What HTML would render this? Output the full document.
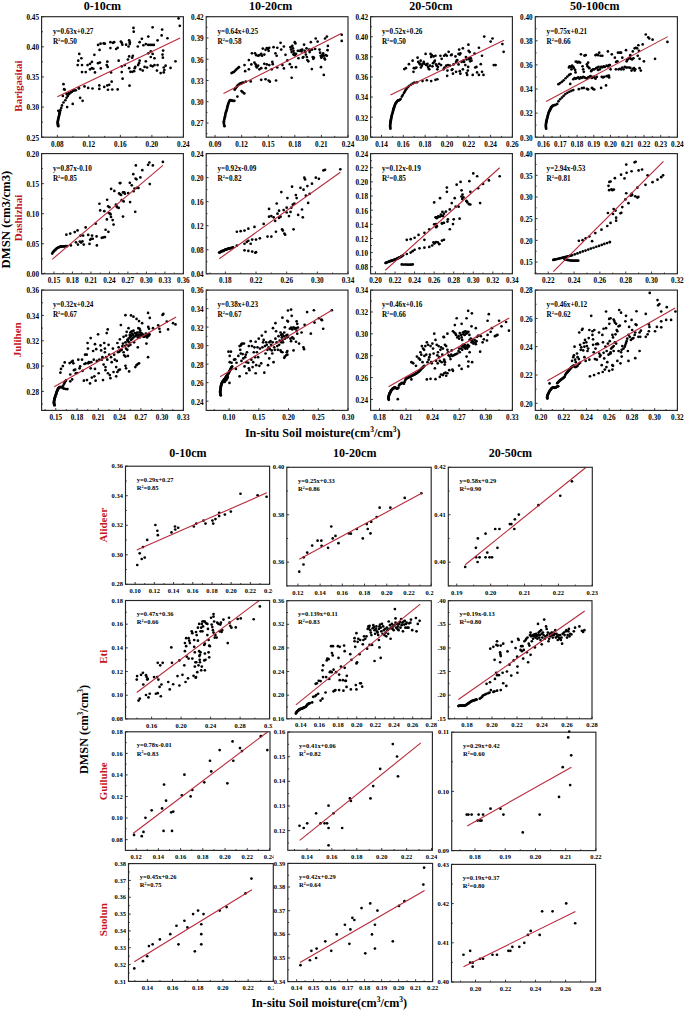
<!DOCTYPE html>
<html><head><meta charset="utf-8"><title>DMSN vs in-situ soil moisture</title>
<style>
html,body{margin:0;padding:0;background:#fff;width:685px;height:1011px;overflow:hidden}
svg{display:block}
text{font-family:"Liberation Serif",serif}
</style></head><body>
<svg width="685" height="1011" viewBox="0 0 685 1011" font-family="Liberation Serif, serif">
<rect width="685" height="1011" fill="#fff"/>
<g fill="#000"><circle cx="58.29" cy="126.20" r="1.35"/><circle cx="58.04" cy="125.34" r="1.35"/><circle cx="57.92" cy="124.35" r="1.35"/><circle cx="57.79" cy="123.36" r="1.35"/><circle cx="57.67" cy="122.50" r="1.35"/><circle cx="57.79" cy="121.51" r="1.35"/><circle cx="57.92" cy="120.64" r="1.35"/><circle cx="58.16" cy="119.78" r="1.35"/><circle cx="58.29" cy="118.79" r="1.35"/><circle cx="58.53" cy="117.80" r="1.35"/><circle cx="58.78" cy="116.94" r="1.35"/><circle cx="59.03" cy="116.07" r="1.35"/><circle cx="59.15" cy="115.08" r="1.35"/><circle cx="59.40" cy="114.09" r="1.35"/><circle cx="59.52" cy="113.23" r="1.35"/><circle cx="59.77" cy="112.24" r="1.35"/><circle cx="59.77" cy="111.38" r="1.35"/><circle cx="58.29" cy="110.76" r="1.35"/><circle cx="60.39" cy="110.14" r="1.35"/><circle cx="61.25" cy="107.92" r="1.35"/><circle cx="61.99" cy="105.44" r="1.35"/><circle cx="63.48" cy="102.48" r="1.35"/><circle cx="65.33" cy="100.26" r="1.35"/><circle cx="66.57" cy="97.78" r="1.35"/><circle cx="67.80" cy="95.93" r="1.35"/><circle cx="69.04" cy="94.08" r="1.35"/><circle cx="70.27" cy="92.84" r="1.35"/><circle cx="72.13" cy="91.61" r="1.35"/><circle cx="73.98" cy="90.62" r="1.35"/><circle cx="63.48" cy="84.19" r="1.35"/><circle cx="64.09" cy="89.14" r="1.35"/><circle cx="64.71" cy="89.75" r="1.35"/><circle cx="62.86" cy="95.93" r="1.35"/><circle cx="67.18" cy="107.05" r="1.35"/><circle cx="72.74" cy="103.96" r="1.35"/><circle cx="80.16" cy="97.78" r="1.35"/><circle cx="82.63" cy="100.87" r="1.35"/><circle cx="78.92" cy="88.52" r="1.35"/><circle cx="84.48" cy="86.42" r="1.35"/><circle cx="88.19" cy="87.90" r="1.35"/><circle cx="92.51" cy="88.52" r="1.35"/><circle cx="99.31" cy="85.43" r="1.35"/><circle cx="99.31" cy="88.89" r="1.35"/><circle cx="104.25" cy="86.91" r="1.35"/><circle cx="107.34" cy="85.43" r="1.35"/><circle cx="107.96" cy="89.75" r="1.35"/><circle cx="111.66" cy="81.72" r="1.35"/><circle cx="112.28" cy="89.51" r="1.35"/><circle cx="109.19" cy="84.81" r="1.35"/><circle cx="79.29" cy="53.92" r="1.35"/><circle cx="81.39" cy="58.25" r="1.35"/><circle cx="78.30" cy="60.72" r="1.35"/><circle cx="77.69" cy="65.04" r="1.35"/><circle cx="82.01" cy="65.04" r="1.35"/><circle cx="82.01" cy="72.08" r="1.35"/><circle cx="85.72" cy="72.08" r="1.35"/><circle cx="87.57" cy="65.04" r="1.35"/><circle cx="90.04" cy="63.81" r="1.35"/><circle cx="91.89" cy="61.95" r="1.35"/><circle cx="94.37" cy="54.79" r="1.35"/><circle cx="90.04" cy="69.37" r="1.35"/><circle cx="91.89" cy="68.13" r="1.35"/><circle cx="93.38" cy="68.75" r="1.35"/><circle cx="94.98" cy="72.45" r="1.35"/><circle cx="98.07" cy="63.19" r="1.35"/><circle cx="99.93" cy="62.57" r="1.35"/><circle cx="100.79" cy="68.38" r="1.35"/><circle cx="98.07" cy="44.90" r="1.35"/><circle cx="100.54" cy="43.67" r="1.35"/><circle cx="103.63" cy="43.42" r="1.35"/><circle cx="104.87" cy="43.67" r="1.35"/><circle cx="99.56" cy="49.97" r="1.35"/><circle cx="107.34" cy="61.71" r="1.35"/><circle cx="106.72" cy="65.04" r="1.35"/><circle cx="107.71" cy="66.89" r="1.35"/><circle cx="111.05" cy="72.45" r="1.35"/><circle cx="110.43" cy="42.18" r="1.35"/><circle cx="112.90" cy="42.80" r="1.35"/><circle cx="110.43" cy="48.11" r="1.35"/><circle cx="114.14" cy="42.18" r="1.35"/><circle cx="66.57" cy="94.08" r="1.35"/><circle cx="68.42" cy="93.46" r="1.35"/><circle cx="70.89" cy="92.22" r="1.35"/><circle cx="73.36" cy="90.37" r="1.35"/><circle cx="75.83" cy="90.37" r="1.35"/><circle cx="78.92" cy="87.90" r="1.35"/><circle cx="133.48" cy="27.97" r="1.35"/><circle cx="133.72" cy="31.68" r="1.35"/><circle cx="152.63" cy="27.36" r="1.35"/><circle cx="162.14" cy="29.58" r="1.35"/><circle cx="161.65" cy="35.39" r="1.35"/><circle cx="167.45" cy="38.23" r="1.35"/><circle cx="148.30" cy="36.62" r="1.35"/><circle cx="141.88" cy="38.85" r="1.35"/><circle cx="157.57" cy="40.33" r="1.35"/><circle cx="178.57" cy="18.46" r="1.35"/><circle cx="179.81" cy="25.87" r="1.35"/><circle cx="120.87" cy="41.57" r="1.35"/><circle cx="122.36" cy="44.65" r="1.35"/><circle cx="121.74" cy="42.80" r="1.35"/><circle cx="126.06" cy="44.65" r="1.35"/><circle cx="129.15" cy="40.33" r="1.35"/><circle cx="129.77" cy="42.18" r="1.35"/><circle cx="128.53" cy="46.51" r="1.35"/><circle cx="129.77" cy="44.04" r="1.35"/><circle cx="137.80" cy="46.51" r="1.35"/><circle cx="139.65" cy="42.18" r="1.35"/><circle cx="143.36" cy="45.27" r="1.35"/><circle cx="145.83" cy="44.04" r="1.35"/><circle cx="148.30" cy="44.90" r="1.35"/><circle cx="150.16" cy="44.90" r="1.35"/><circle cx="152.01" cy="44.90" r="1.35"/><circle cx="153.86" cy="44.90" r="1.35"/><circle cx="116.18" cy="48.98" r="1.35"/><circle cx="117.66" cy="47.74" r="1.35"/><circle cx="150.77" cy="51.45" r="1.35"/><circle cx="148.30" cy="53.30" r="1.35"/><circle cx="152.63" cy="53.92" r="1.35"/><circle cx="154.48" cy="58.25" r="1.35"/><circle cx="150.77" cy="57.01" r="1.35"/><circle cx="163.13" cy="50.58" r="1.35"/><circle cx="162.51" cy="54.54" r="1.35"/><circle cx="162.88" cy="57.63" r="1.35"/><circle cx="118.65" cy="60.72" r="1.35"/><circle cx="127.92" cy="59.48" r="1.35"/><circle cx="129.15" cy="56.39" r="1.35"/><circle cx="132.86" cy="55.77" r="1.35"/><circle cx="132.24" cy="57.63" r="1.35"/><circle cx="139.65" cy="60.72" r="1.35"/><circle cx="139.04" cy="63.19" r="1.35"/><circle cx="138.17" cy="65.04" r="1.35"/><circle cx="145.83" cy="61.33" r="1.35"/><circle cx="124.83" cy="65.04" r="1.35"/><circle cx="121.74" cy="66.28" r="1.35"/><circle cx="129.15" cy="68.13" r="1.35"/><circle cx="130.39" cy="71.84" r="1.35"/><circle cx="132.24" cy="71.84" r="1.35"/><circle cx="134.09" cy="71.22" r="1.35"/><circle cx="134.71" cy="68.13" r="1.35"/><circle cx="135.33" cy="66.89" r="1.35"/><circle cx="140.27" cy="69.37" r="1.35"/><circle cx="142.74" cy="70.60" r="1.35"/><circle cx="144.60" cy="66.89" r="1.35"/><circle cx="147.07" cy="67.51" r="1.35"/><circle cx="150.77" cy="65.66" r="1.35"/><circle cx="152.63" cy="66.28" r="1.35"/><circle cx="154.48" cy="65.04" r="1.35"/><circle cx="157.57" cy="65.04" r="1.35"/><circle cx="156.95" cy="70.60" r="1.35"/><circle cx="160.66" cy="73.07" r="1.35"/><circle cx="163.75" cy="72.45" r="1.35"/><circle cx="164.37" cy="69.98" r="1.35"/><circle cx="165.60" cy="65.66" r="1.35"/><circle cx="163.75" cy="67.51" r="1.35"/><circle cx="170.54" cy="67.88" r="1.35"/><circle cx="175.49" cy="61.33" r="1.35"/><circle cx="121.74" cy="72.08" r="1.35"/><circle cx="122.60" cy="78.63" r="1.35"/><circle cx="129.52" cy="85.68" r="1.35"/><circle cx="117.66" cy="89.38" r="1.35"/></g>
<line x1="57.30" y1="96.80" x2="180.18" y2="37.98" stroke="#b82a3c" stroke-width="1.1"/>
<rect x="41.60" y="16.70" width="141.80" height="120.50" fill="none" stroke="#262626" stroke-width="1.15"/>
<path d="M57.36 137.20v-2.3M88.87 137.20v-2.3M120.38 137.20v-2.3M151.89 137.20v-2.3M183.40 137.20v-2.3M41.60 137.20v-1.3M73.11 137.20v-1.3M104.62 137.20v-1.3M136.13 137.20v-1.3M167.64 137.20v-1.3M41.60 137.20h2.3M41.60 107.08h2.3M41.60 76.95h2.3M41.60 46.82h2.3M41.60 16.70h2.3M41.60 122.14h1.3M41.60 92.01h1.3M41.60 61.89h1.3M41.60 31.76h1.3" stroke="#262626" stroke-width="0.9" fill="none"/>
<g font-size="7.2" font-weight="bold"><text x="57.36" y="146.60" text-anchor="middle">0.08</text><text x="88.87" y="146.60" text-anchor="middle">0.12</text><text x="120.38" y="146.60" text-anchor="middle">0.16</text><text x="151.89" y="146.60" text-anchor="middle">0.20</text><text x="183.40" y="146.60" text-anchor="middle">0.24</text><text x="39.00" y="140.58" text-anchor="end">0.25</text><text x="39.00" y="110.46" text-anchor="end">0.30</text><text x="39.00" y="80.33" text-anchor="end">0.35</text><text x="39.00" y="50.21" text-anchor="end">0.40</text><text x="39.00" y="20.08" text-anchor="end">0.45</text></g>
<g font-size="7.2" font-weight="bold"><text x="52.90" y="33.60">y=0.63x+0.27</text><text x="52.90" y="43.60">R<tspan font-size="4.32" dy="-2.52">2</tspan><tspan dy="2.52">=0.50</tspan></text></g>
<g fill="#000"><circle cx="224.52" cy="126.20" r="1.35"/><circle cx="224.15" cy="124.97" r="1.35"/><circle cx="223.90" cy="123.73" r="1.35"/><circle cx="223.78" cy="122.50" r="1.35"/><circle cx="223.90" cy="121.26" r="1.35"/><circle cx="224.15" cy="120.02" r="1.35"/><circle cx="224.40" cy="118.79" r="1.35"/><circle cx="224.77" cy="117.55" r="1.35"/><circle cx="225.02" cy="116.32" r="1.35"/><circle cx="225.26" cy="115.08" r="1.35"/><circle cx="225.51" cy="113.85" r="1.35"/><circle cx="225.76" cy="112.61" r="1.35"/><circle cx="226.25" cy="111.38" r="1.35"/><circle cx="226.62" cy="110.14" r="1.35"/><circle cx="226.99" cy="108.90" r="1.35"/><circle cx="227.24" cy="107.67" r="1.35"/><circle cx="227.61" cy="106.43" r="1.35"/><circle cx="227.86" cy="105.20" r="1.35"/><circle cx="228.23" cy="103.96" r="1.35"/><circle cx="228.72" cy="102.73" r="1.35"/><circle cx="229.22" cy="101.49" r="1.35"/><circle cx="229.71" cy="100.50" r="1.35"/><circle cx="230.33" cy="100.01" r="1.35"/><circle cx="230.95" cy="100.26" r="1.35"/><circle cx="231.57" cy="100.50" r="1.35"/><circle cx="232.43" cy="100.87" r="1.35"/><circle cx="233.42" cy="100.87" r="1.35"/><circle cx="234.41" cy="100.87" r="1.35"/><circle cx="237.37" cy="96.55" r="1.35"/><circle cx="241.45" cy="90.99" r="1.35"/><circle cx="242.69" cy="92.22" r="1.35"/><circle cx="244.29" cy="93.46" r="1.35"/><circle cx="234.65" cy="89.75" r="1.35"/><circle cx="235.27" cy="88.52" r="1.35"/><circle cx="235.89" cy="87.90" r="1.35"/><circle cx="236.88" cy="86.66" r="1.35"/><circle cx="237.74" cy="85.43" r="1.35"/><circle cx="238.36" cy="84.81" r="1.35"/><circle cx="239.60" cy="83.95" r="1.35"/><circle cx="240.83" cy="83.33" r="1.35"/><circle cx="242.07" cy="82.96" r="1.35"/><circle cx="243.30" cy="82.71" r="1.35"/><circle cx="245.77" cy="81.72" r="1.35"/><circle cx="250.72" cy="81.47" r="1.35"/><circle cx="231.57" cy="73.07" r="1.35"/><circle cx="232.80" cy="72.45" r="1.35"/><circle cx="234.04" cy="71.84" r="1.35"/><circle cx="235.27" cy="70.60" r="1.35"/><circle cx="236.51" cy="69.37" r="1.35"/><circle cx="237.74" cy="68.13" r="1.35"/><circle cx="238.98" cy="67.14" r="1.35"/><circle cx="245.16" cy="71.22" r="1.35"/><circle cx="244.54" cy="65.04" r="1.35"/><circle cx="248.86" cy="69.37" r="1.35"/><circle cx="248.86" cy="60.10" r="1.35"/><circle cx="251.33" cy="64.42" r="1.35"/><circle cx="251.95" cy="53.30" r="1.35"/><circle cx="255.04" cy="53.30" r="1.35"/><circle cx="256.28" cy="55.16" r="1.35"/><circle cx="258.13" cy="55.77" r="1.35"/><circle cx="259.37" cy="55.16" r="1.35"/><circle cx="261.22" cy="53.92" r="1.35"/><circle cx="262.08" cy="55.77" r="1.35"/><circle cx="262.83" cy="48.61" r="1.35"/><circle cx="264.31" cy="54.54" r="1.35"/><circle cx="265.54" cy="49.84" r="1.35"/><circle cx="266.78" cy="48.11" r="1.35"/><circle cx="268.01" cy="48.98" r="1.35"/><circle cx="268.63" cy="50.83" r="1.35"/><circle cx="269.25" cy="47.74" r="1.35"/><circle cx="273.57" cy="47.13" r="1.35"/><circle cx="277.28" cy="47.74" r="1.35"/><circle cx="275.43" cy="53.30" r="1.35"/><circle cx="276.66" cy="55.77" r="1.35"/><circle cx="254.42" cy="62.57" r="1.35"/><circle cx="255.66" cy="64.42" r="1.35"/><circle cx="256.28" cy="66.28" r="1.35"/><circle cx="256.89" cy="67.51" r="1.35"/><circle cx="258.13" cy="65.66" r="1.35"/><circle cx="259.37" cy="69.37" r="1.35"/><circle cx="261.22" cy="68.13" r="1.35"/><circle cx="264.31" cy="63.81" r="1.35"/><circle cx="265.79" cy="68.13" r="1.35"/><circle cx="266.78" cy="64.42" r="1.35"/><circle cx="269.25" cy="65.04" r="1.35"/><circle cx="272.34" cy="61.95" r="1.35"/><circle cx="272.71" cy="64.18" r="1.35"/><circle cx="271.72" cy="69.37" r="1.35"/><circle cx="277.28" cy="67.51" r="1.35"/><circle cx="261.22" cy="79.87" r="1.35"/><circle cx="265.54" cy="79.25" r="1.35"/><circle cx="268.63" cy="80.49" r="1.35"/><circle cx="269.87" cy="81.72" r="1.35"/><circle cx="276.05" cy="80.49" r="1.35"/><circle cx="280.56" cy="42.80" r="1.35"/><circle cx="283.90" cy="46.51" r="1.35"/><circle cx="281.18" cy="49.60" r="1.35"/><circle cx="285.50" cy="54.79" r="1.35"/><circle cx="287.36" cy="60.47" r="1.35"/><circle cx="282.41" cy="65.04" r="1.35"/><circle cx="283.90" cy="68.38" r="1.35"/><circle cx="289.83" cy="64.18" r="1.35"/><circle cx="291.68" cy="67.14" r="1.35"/><circle cx="296.00" cy="67.14" r="1.35"/><circle cx="291.68" cy="77.77" r="1.35"/><circle cx="290.44" cy="47.13" r="1.35"/><circle cx="291.06" cy="49.60" r="1.35"/><circle cx="291.68" cy="52.07" r="1.35"/><circle cx="292.30" cy="45.89" r="1.35"/><circle cx="292.92" cy="48.36" r="1.35"/><circle cx="293.53" cy="50.83" r="1.35"/><circle cx="294.15" cy="53.30" r="1.35"/><circle cx="294.77" cy="42.18" r="1.35"/><circle cx="295.39" cy="43.42" r="1.35"/><circle cx="293.53" cy="54.54" r="1.35"/><circle cx="294.77" cy="55.16" r="1.35"/><circle cx="296.00" cy="53.92" r="1.35"/><circle cx="297.86" cy="50.83" r="1.35"/><circle cx="298.48" cy="58.25" r="1.35"/><circle cx="299.71" cy="50.83" r="1.35"/><circle cx="300.95" cy="50.21" r="1.35"/><circle cx="301.57" cy="51.45" r="1.35"/><circle cx="302.18" cy="49.60" r="1.35"/><circle cx="302.80" cy="57.63" r="1.35"/><circle cx="303.42" cy="57.01" r="1.35"/><circle cx="304.04" cy="44.65" r="1.35"/><circle cx="304.65" cy="50.83" r="1.35"/><circle cx="305.27" cy="52.07" r="1.35"/><circle cx="305.89" cy="54.54" r="1.35"/><circle cx="306.51" cy="48.36" r="1.35"/><circle cx="306.88" cy="57.01" r="1.35"/><circle cx="307.37" cy="60.10" r="1.35"/><circle cx="308.36" cy="61.33" r="1.35"/><circle cx="308.98" cy="49.60" r="1.35"/><circle cx="309.60" cy="52.07" r="1.35"/><circle cx="310.21" cy="50.21" r="1.35"/><circle cx="310.83" cy="42.18" r="1.35"/><circle cx="312.07" cy="49.60" r="1.35"/><circle cx="312.69" cy="57.01" r="1.35"/><circle cx="313.30" cy="58.86" r="1.35"/><circle cx="313.92" cy="57.63" r="1.35"/><circle cx="315.16" cy="48.98" r="1.35"/><circle cx="315.77" cy="38.48" r="1.35"/><circle cx="317.63" cy="41.57" r="1.35"/><circle cx="319.48" cy="49.60" r="1.35"/><circle cx="320.10" cy="52.69" r="1.35"/><circle cx="320.72" cy="55.77" r="1.35"/><circle cx="321.33" cy="57.63" r="1.35"/><circle cx="321.95" cy="56.39" r="1.35"/><circle cx="322.57" cy="54.54" r="1.35"/><circle cx="323.19" cy="53.30" r="1.35"/><circle cx="323.81" cy="55.77" r="1.35"/><circle cx="324.42" cy="58.25" r="1.35"/><circle cx="325.04" cy="59.48" r="1.35"/><circle cx="325.66" cy="55.16" r="1.35"/><circle cx="326.89" cy="55.77" r="1.35"/><circle cx="327.51" cy="50.21" r="1.35"/><circle cx="327.88" cy="45.89" r="1.35"/><circle cx="325.04" cy="38.48" r="1.35"/><circle cx="326.89" cy="36.62" r="1.35"/><circle cx="311.82" cy="69.12" r="1.35"/><circle cx="320.96" cy="67.14" r="1.35"/><circle cx="323.81" cy="74.93" r="1.35"/><circle cx="341.72" cy="34.77" r="1.35"/><circle cx="341.72" cy="40.95" r="1.35"/></g>
<line x1="223.53" y1="93.46" x2="341.72" y2="33.29" stroke="#b82a3c" stroke-width="1.1"/>
<rect x="206.20" y="16.70" width="141.80" height="120.50" fill="none" stroke="#262626" stroke-width="1.15"/>
<path d="M215.06 137.20v-2.3M241.65 137.20v-2.3M268.24 137.20v-2.3M294.82 137.20v-2.3M321.41 137.20v-2.3M348.00 137.20v-2.3M228.36 137.20v-1.3M254.94 137.20v-1.3M281.53 137.20v-1.3M308.12 137.20v-1.3M334.71 137.20v-1.3M206.20 123.02h2.3M206.20 101.76h2.3M206.20 80.49h2.3M206.20 59.23h2.3M206.20 37.96h2.3M206.20 16.70h2.3M206.20 133.66h1.3M206.20 112.39h1.3M206.20 91.13h1.3M206.20 69.86h1.3M206.20 48.60h1.3M206.20 27.33h1.3" stroke="#262626" stroke-width="0.9" fill="none"/>
<g font-size="7.2" font-weight="bold"><text x="215.06" y="146.60" text-anchor="middle">0.09</text><text x="241.65" y="146.60" text-anchor="middle">0.12</text><text x="268.24" y="146.60" text-anchor="middle">0.15</text><text x="294.82" y="146.60" text-anchor="middle">0.18</text><text x="321.41" y="146.60" text-anchor="middle">0.21</text><text x="348.00" y="146.60" text-anchor="middle">0.24</text><text x="203.60" y="126.41" text-anchor="end">0.27</text><text x="203.60" y="105.14" text-anchor="end">0.30</text><text x="203.60" y="83.88" text-anchor="end">0.33</text><text x="203.60" y="62.61" text-anchor="end">0.36</text><text x="203.60" y="41.35" text-anchor="end">0.39</text><text x="203.60" y="20.08" text-anchor="end">0.42</text></g>
<g font-size="7.2" font-weight="bold"><text x="217.50" y="33.60">y=0.64x+0.25</text><text x="217.50" y="43.60">R<tspan font-size="4.32" dy="-2.52">2</tspan><tspan dy="2.52">=0.58</tspan></text></g>
<g fill="#000"><circle cx="390.39" cy="128.67" r="1.35"/><circle cx="390.26" cy="127.69" r="1.35"/><circle cx="390.14" cy="126.82" r="1.35"/><circle cx="390.14" cy="125.83" r="1.35"/><circle cx="390.14" cy="124.97" r="1.35"/><circle cx="390.26" cy="123.98" r="1.35"/><circle cx="390.39" cy="123.11" r="1.35"/><circle cx="390.51" cy="122.13" r="1.35"/><circle cx="390.63" cy="121.26" r="1.35"/><circle cx="390.76" cy="120.27" r="1.35"/><circle cx="391.00" cy="119.41" r="1.35"/><circle cx="391.13" cy="118.42" r="1.35"/><circle cx="391.38" cy="117.55" r="1.35"/><circle cx="391.50" cy="116.57" r="1.35"/><circle cx="391.75" cy="115.70" r="1.35"/><circle cx="391.99" cy="114.71" r="1.35"/><circle cx="392.24" cy="113.85" r="1.35"/><circle cx="392.61" cy="112.86" r="1.35"/><circle cx="392.86" cy="111.99" r="1.35"/><circle cx="392.98" cy="111.00" r="1.35"/><circle cx="393.23" cy="110.14" r="1.35"/><circle cx="393.48" cy="109.15" r="1.35"/><circle cx="393.72" cy="108.29" r="1.35"/><circle cx="394.09" cy="107.30" r="1.35"/><circle cx="394.34" cy="106.43" r="1.35"/><circle cx="394.71" cy="105.69" r="1.35"/><circle cx="394.96" cy="104.95" r="1.35"/><circle cx="395.33" cy="104.09" r="1.35"/><circle cx="395.70" cy="103.34" r="1.35"/><circle cx="396.07" cy="102.73" r="1.35"/><circle cx="396.57" cy="102.11" r="1.35"/><circle cx="396.94" cy="101.61" r="1.35"/><circle cx="397.43" cy="101.12" r="1.35"/><circle cx="397.92" cy="100.63" r="1.35"/><circle cx="398.42" cy="100.26" r="1.35"/><circle cx="399.04" cy="100.13" r="1.35"/><circle cx="399.65" cy="100.01" r="1.35"/><circle cx="400.64" cy="99.02" r="1.35"/><circle cx="401.88" cy="96.55" r="1.35"/><circle cx="402.74" cy="95.07" r="1.35"/><circle cx="403.98" cy="93.09" r="1.35"/><circle cx="404.84" cy="91.61" r="1.35"/><circle cx="405.58" cy="90.12" r="1.35"/><circle cx="406.45" cy="88.89" r="1.35"/><circle cx="407.69" cy="87.28" r="1.35"/><circle cx="408.92" cy="86.05" r="1.35"/><circle cx="410.77" cy="84.81" r="1.35"/><circle cx="412.63" cy="83.57" r="1.35"/><circle cx="414.48" cy="82.71" r="1.35"/><circle cx="416.95" cy="82.34" r="1.35"/><circle cx="422.51" cy="81.10" r="1.35"/><circle cx="426.84" cy="80.24" r="1.35"/><circle cx="431.16" cy="81.10" r="1.35"/><circle cx="435.49" cy="79.87" r="1.35"/><circle cx="437.34" cy="79.25" r="1.35"/><circle cx="404.35" cy="69.12" r="1.35"/><circle cx="405.83" cy="68.13" r="1.35"/><circle cx="408.92" cy="64.18" r="1.35"/><circle cx="412.63" cy="60.72" r="1.35"/><circle cx="413.49" cy="71.84" r="1.35"/><circle cx="413.86" cy="68.13" r="1.35"/><circle cx="415.10" cy="68.13" r="1.35"/><circle cx="416.33" cy="67.51" r="1.35"/><circle cx="417.57" cy="57.63" r="1.35"/><circle cx="418.19" cy="61.95" r="1.35"/><circle cx="419.42" cy="63.19" r="1.35"/><circle cx="420.04" cy="64.42" r="1.35"/><circle cx="420.66" cy="60.72" r="1.35"/><circle cx="420.91" cy="67.51" r="1.35"/><circle cx="421.89" cy="65.66" r="1.35"/><circle cx="422.51" cy="63.81" r="1.35"/><circle cx="423.75" cy="61.95" r="1.35"/><circle cx="424.37" cy="63.81" r="1.35"/><circle cx="425.60" cy="53.92" r="1.35"/><circle cx="426.22" cy="65.04" r="1.35"/><circle cx="426.84" cy="64.42" r="1.35"/><circle cx="427.45" cy="63.81" r="1.35"/><circle cx="428.07" cy="66.89" r="1.35"/><circle cx="428.69" cy="68.75" r="1.35"/><circle cx="429.31" cy="69.37" r="1.35"/><circle cx="429.93" cy="65.66" r="1.35"/><circle cx="430.54" cy="53.92" r="1.35"/><circle cx="431.16" cy="57.01" r="1.35"/><circle cx="431.78" cy="55.16" r="1.35"/><circle cx="432.40" cy="66.28" r="1.35"/><circle cx="433.01" cy="63.19" r="1.35"/><circle cx="433.63" cy="56.39" r="1.35"/><circle cx="434.25" cy="61.95" r="1.35"/><circle cx="434.87" cy="60.72" r="1.35"/><circle cx="435.49" cy="55.77" r="1.35"/><circle cx="436.10" cy="64.42" r="1.35"/><circle cx="436.72" cy="65.66" r="1.35"/><circle cx="437.34" cy="69.37" r="1.35"/><circle cx="437.96" cy="66.89" r="1.35"/><circle cx="439.19" cy="63.81" r="1.35"/><circle cx="440.43" cy="55.77" r="1.35"/><circle cx="441.05" cy="65.04" r="1.35"/><circle cx="441.66" cy="58.86" r="1.35"/><circle cx="443.52" cy="69.37" r="1.35"/><circle cx="444.14" cy="55.77" r="1.35"/><circle cx="444.51" cy="67.51" r="1.35"/><circle cx="445.56" cy="54.54" r="1.35"/><circle cx="446.80" cy="55.77" r="1.35"/><circle cx="448.65" cy="51.82" r="1.35"/><circle cx="451.12" cy="55.16" r="1.35"/><circle cx="451.74" cy="54.54" r="1.35"/><circle cx="447.41" cy="70.60" r="1.35"/><circle cx="447.17" cy="75.79" r="1.35"/><circle cx="446.18" cy="65.66" r="1.35"/><circle cx="448.03" cy="65.04" r="1.35"/><circle cx="449.88" cy="65.66" r="1.35"/><circle cx="451.74" cy="69.98" r="1.35"/><circle cx="452.36" cy="69.37" r="1.35"/><circle cx="452.97" cy="73.69" r="1.35"/><circle cx="453.59" cy="64.42" r="1.35"/><circle cx="456.06" cy="71.84" r="1.35"/><circle cx="455.44" cy="56.39" r="1.35"/><circle cx="456.68" cy="60.72" r="1.35"/><circle cx="456.06" cy="61.95" r="1.35"/><circle cx="457.30" cy="60.10" r="1.35"/><circle cx="458.53" cy="64.42" r="1.35"/><circle cx="458.53" cy="53.92" r="1.35"/><circle cx="459.15" cy="49.60" r="1.35"/><circle cx="459.77" cy="54.54" r="1.35"/><circle cx="460.39" cy="53.30" r="1.35"/><circle cx="459.77" cy="71.22" r="1.35"/><circle cx="460.39" cy="73.69" r="1.35"/><circle cx="461.62" cy="61.95" r="1.35"/><circle cx="462.86" cy="48.36" r="1.35"/><circle cx="462.86" cy="69.37" r="1.35"/><circle cx="463.48" cy="60.72" r="1.35"/><circle cx="464.09" cy="61.95" r="1.35"/><circle cx="465.33" cy="65.04" r="1.35"/><circle cx="465.95" cy="57.01" r="1.35"/><circle cx="466.57" cy="59.48" r="1.35"/><circle cx="466.57" cy="73.07" r="1.35"/><circle cx="467.18" cy="74.93" r="1.35"/><circle cx="467.80" cy="70.60" r="1.35"/><circle cx="468.17" cy="66.89" r="1.35"/><circle cx="468.42" cy="44.65" r="1.35"/><circle cx="468.67" cy="50.83" r="1.35"/><circle cx="469.04" cy="58.25" r="1.35"/><circle cx="469.41" cy="59.48" r="1.35"/><circle cx="469.65" cy="52.07" r="1.35"/><circle cx="470.27" cy="61.33" r="1.35"/><circle cx="470.89" cy="58.25" r="1.35"/><circle cx="471.51" cy="60.72" r="1.35"/><circle cx="472.74" cy="74.93" r="1.35"/><circle cx="474.60" cy="53.55" r="1.35"/><circle cx="475.21" cy="67.51" r="1.35"/><circle cx="476.45" cy="66.89" r="1.35"/><circle cx="477.07" cy="72.45" r="1.35"/><circle cx="478.92" cy="74.93" r="1.35"/><circle cx="478.92" cy="47.74" r="1.35"/><circle cx="480.77" cy="64.18" r="1.35"/><circle cx="482.01" cy="55.77" r="1.35"/><circle cx="482.01" cy="71.84" r="1.35"/><circle cx="483.49" cy="74.93" r="1.35"/><circle cx="484.23" cy="36.62" r="1.35"/><circle cx="490.66" cy="41.57" r="1.35"/><circle cx="492.51" cy="38.48" r="1.35"/><circle cx="493.75" cy="65.04" r="1.35"/><circle cx="495.60" cy="65.04" r="1.35"/><circle cx="502.40" cy="44.04" r="1.35"/><circle cx="503.63" cy="51.82" r="1.35"/></g>
<line x1="390.39" y1="95.07" x2="504.01" y2="40.33" stroke="#b82a3c" stroke-width="1.1"/>
<rect x="370.60" y="16.70" width="141.80" height="120.50" fill="none" stroke="#262626" stroke-width="1.15"/>
<path d="M381.51 137.20v-2.3M403.32 137.20v-2.3M425.14 137.20v-2.3M446.95 137.20v-2.3M468.77 137.20v-2.3M490.58 137.20v-2.3M512.40 137.20v-2.3M370.60 137.20v-1.3M392.42 137.20v-1.3M414.23 137.20v-1.3M436.05 137.20v-1.3M457.86 137.20v-1.3M479.68 137.20v-1.3M501.49 137.20v-1.3M370.60 137.20h2.3M370.60 117.12h2.3M370.60 97.03h2.3M370.60 76.95h2.3M370.60 56.87h2.3M370.60 36.78h2.3M370.60 16.70h2.3M370.60 127.16h1.3M370.60 107.07h1.3M370.60 86.99h1.3M370.60 66.91h1.3M370.60 46.82h1.3M370.60 26.74h1.3" stroke="#262626" stroke-width="0.9" fill="none"/>
<g font-size="7.2" font-weight="bold"><text x="381.51" y="146.60" text-anchor="middle">0.14</text><text x="403.32" y="146.60" text-anchor="middle">0.16</text><text x="425.14" y="146.60" text-anchor="middle">0.18</text><text x="446.95" y="146.60" text-anchor="middle">0.20</text><text x="468.77" y="146.60" text-anchor="middle">0.22</text><text x="490.58" y="146.60" text-anchor="middle">0.24</text><text x="512.40" y="146.60" text-anchor="middle">0.26</text><text x="368.00" y="140.58" text-anchor="end">0.30</text><text x="368.00" y="120.50" text-anchor="end">0.32</text><text x="368.00" y="100.42" text-anchor="end">0.34</text><text x="368.00" y="80.33" text-anchor="end">0.36</text><text x="368.00" y="60.25" text-anchor="end">0.38</text><text x="368.00" y="40.17" text-anchor="end">0.40</text><text x="368.00" y="20.08" text-anchor="end">0.42</text></g>
<g font-size="7.2" font-weight="bold"><text x="381.90" y="33.60">y=0.52x+0.26</text><text x="381.90" y="43.60">R<tspan font-size="4.32" dy="-2.52">2</tspan><tspan dy="2.52">=0.50</tspan></text></g>
<g fill="#000"><circle cx="546.12" cy="128.67" r="1.35"/><circle cx="546.00" cy="127.69" r="1.35"/><circle cx="545.87" cy="126.82" r="1.35"/><circle cx="545.87" cy="125.83" r="1.35"/><circle cx="545.87" cy="124.97" r="1.35"/><circle cx="546.00" cy="123.98" r="1.35"/><circle cx="546.12" cy="123.11" r="1.35"/><circle cx="546.24" cy="122.13" r="1.35"/><circle cx="546.49" cy="121.26" r="1.35"/><circle cx="546.61" cy="120.27" r="1.35"/><circle cx="546.86" cy="119.41" r="1.35"/><circle cx="547.11" cy="118.42" r="1.35"/><circle cx="547.36" cy="117.55" r="1.35"/><circle cx="547.60" cy="116.57" r="1.35"/><circle cx="547.85" cy="115.70" r="1.35"/><circle cx="548.10" cy="114.71" r="1.35"/><circle cx="548.34" cy="113.85" r="1.35"/><circle cx="548.59" cy="112.86" r="1.35"/><circle cx="548.96" cy="111.99" r="1.35"/><circle cx="549.21" cy="111.38" r="1.35"/><circle cx="549.58" cy="110.76" r="1.35"/><circle cx="549.83" cy="110.14" r="1.35"/><circle cx="550.20" cy="109.52" r="1.35"/><circle cx="550.44" cy="108.90" r="1.35"/><circle cx="550.82" cy="108.29" r="1.35"/><circle cx="551.06" cy="107.67" r="1.35"/><circle cx="551.43" cy="107.05" r="1.35"/><circle cx="551.93" cy="106.56" r="1.35"/><circle cx="552.30" cy="106.19" r="1.35"/><circle cx="552.79" cy="105.82" r="1.35"/><circle cx="553.29" cy="105.57" r="1.35"/><circle cx="554.28" cy="105.20" r="1.35"/><circle cx="555.51" cy="104.95" r="1.35"/><circle cx="557.24" cy="103.96" r="1.35"/><circle cx="558.48" cy="101.24" r="1.35"/><circle cx="560.08" cy="99.27" r="1.35"/><circle cx="561.94" cy="97.54" r="1.35"/><circle cx="563.67" cy="95.81" r="1.35"/><circle cx="565.40" cy="94.08" r="1.35"/><circle cx="567.37" cy="92.84" r="1.35"/><circle cx="569.35" cy="91.73" r="1.35"/><circle cx="571.33" cy="90.86" r="1.35"/><circle cx="573.30" cy="90.12" r="1.35"/><circle cx="558.48" cy="84.19" r="1.35"/><circle cx="560.08" cy="83.08" r="1.35"/><circle cx="561.94" cy="81.85" r="1.35"/><circle cx="563.67" cy="80.36" r="1.35"/><circle cx="565.64" cy="78.26" r="1.35"/><circle cx="567.37" cy="76.53" r="1.35"/><circle cx="569.10" cy="74.93" r="1.35"/><circle cx="570.58" cy="74.06" r="1.35"/><circle cx="570.21" cy="83.95" r="1.35"/><circle cx="568.98" cy="67.51" r="1.35"/><circle cx="569.60" cy="66.28" r="1.35"/><circle cx="570.83" cy="66.89" r="1.35"/><circle cx="571.45" cy="69.37" r="1.35"/><circle cx="572.07" cy="65.66" r="1.35"/><circle cx="573.30" cy="66.89" r="1.35"/><circle cx="573.92" cy="68.13" r="1.35"/><circle cx="575.16" cy="69.98" r="1.35"/><circle cx="575.53" cy="72.45" r="1.35"/><circle cx="575.77" cy="61.71" r="1.35"/><circle cx="577.01" cy="61.95" r="1.35"/><circle cx="577.63" cy="62.57" r="1.35"/><circle cx="578.86" cy="61.95" r="1.35"/><circle cx="580.10" cy="62.57" r="1.35"/><circle cx="580.96" cy="54.29" r="1.35"/><circle cx="582.57" cy="66.28" r="1.35"/><circle cx="583.19" cy="69.37" r="1.35"/><circle cx="583.81" cy="71.84" r="1.35"/><circle cx="584.42" cy="55.53" r="1.35"/><circle cx="585.66" cy="55.16" r="1.35"/><circle cx="586.89" cy="64.42" r="1.35"/><circle cx="587.51" cy="66.28" r="1.35"/><circle cx="588.13" cy="62.57" r="1.35"/><circle cx="588.75" cy="67.51" r="1.35"/><circle cx="589.37" cy="68.13" r="1.35"/><circle cx="591.22" cy="71.22" r="1.35"/><circle cx="591.84" cy="69.98" r="1.35"/><circle cx="593.07" cy="69.37" r="1.35"/><circle cx="595.54" cy="55.16" r="1.35"/><circle cx="596.78" cy="54.54" r="1.35"/><circle cx="598.01" cy="55.16" r="1.35"/><circle cx="599.25" cy="52.69" r="1.35"/><circle cx="600.49" cy="55.77" r="1.35"/><circle cx="602.34" cy="55.77" r="1.35"/><circle cx="607.90" cy="51.45" r="1.35"/><circle cx="573.30" cy="79.25" r="1.35"/><circle cx="574.54" cy="78.01" r="1.35"/><circle cx="575.77" cy="78.63" r="1.35"/><circle cx="577.01" cy="78.01" r="1.35"/><circle cx="578.25" cy="77.40" r="1.35"/><circle cx="579.48" cy="78.63" r="1.35"/><circle cx="580.72" cy="77.40" r="1.35"/><circle cx="581.95" cy="78.01" r="1.35"/><circle cx="583.19" cy="76.78" r="1.35"/><circle cx="584.42" cy="77.40" r="1.35"/><circle cx="585.66" cy="78.01" r="1.35"/><circle cx="586.89" cy="78.63" r="1.35"/><circle cx="588.13" cy="77.40" r="1.35"/><circle cx="589.37" cy="76.78" r="1.35"/><circle cx="590.60" cy="76.16" r="1.35"/><circle cx="591.84" cy="78.01" r="1.35"/><circle cx="593.07" cy="76.78" r="1.35"/><circle cx="594.31" cy="77.40" r="1.35"/><circle cx="595.54" cy="78.63" r="1.35"/><circle cx="596.78" cy="76.78" r="1.35"/><circle cx="601.72" cy="76.78" r="1.35"/><circle cx="602.96" cy="77.40" r="1.35"/><circle cx="604.19" cy="76.78" r="1.35"/><circle cx="606.66" cy="76.16" r="1.35"/><circle cx="609.14" cy="77.40" r="1.35"/><circle cx="594.31" cy="69.37" r="1.35"/><circle cx="596.16" cy="68.13" r="1.35"/><circle cx="597.40" cy="67.51" r="1.35"/><circle cx="598.63" cy="66.89" r="1.35"/><circle cx="599.87" cy="69.37" r="1.35"/><circle cx="601.10" cy="66.89" r="1.35"/><circle cx="602.34" cy="67.51" r="1.35"/><circle cx="603.57" cy="66.28" r="1.35"/><circle cx="604.81" cy="66.89" r="1.35"/><circle cx="606.66" cy="65.66" r="1.35"/><circle cx="607.90" cy="66.28" r="1.35"/><circle cx="609.14" cy="65.04" r="1.35"/><circle cx="598.01" cy="69.98" r="1.35"/><circle cx="578.86" cy="89.14" r="1.35"/><circle cx="581.95" cy="88.15" r="1.35"/><circle cx="583.81" cy="87.90" r="1.35"/><circle cx="586.89" cy="88.89" r="1.35"/><circle cx="588.13" cy="89.38" r="1.35"/><circle cx="591.84" cy="87.90" r="1.35"/><circle cx="593.07" cy="88.89" r="1.35"/><circle cx="594.31" cy="89.51" r="1.35"/><circle cx="601.10" cy="87.90" r="1.35"/><circle cx="606.05" cy="85.43" r="1.35"/><circle cx="607.65" cy="76.16" r="1.35"/><circle cx="608.89" cy="75.54" r="1.35"/><circle cx="611.80" cy="54.29" r="1.35"/><circle cx="614.88" cy="57.63" r="1.35"/><circle cx="616.12" cy="61.95" r="1.35"/><circle cx="617.36" cy="61.33" r="1.35"/><circle cx="617.97" cy="52.69" r="1.35"/><circle cx="619.83" cy="52.69" r="1.35"/><circle cx="621.06" cy="52.69" r="1.35"/><circle cx="622.30" cy="57.63" r="1.35"/><circle cx="626.00" cy="50.21" r="1.35"/><circle cx="626.62" cy="61.33" r="1.35"/><circle cx="627.24" cy="60.10" r="1.35"/><circle cx="628.48" cy="58.86" r="1.35"/><circle cx="629.71" cy="57.63" r="1.35"/><circle cx="630.33" cy="55.16" r="1.35"/><circle cx="630.95" cy="58.86" r="1.35"/><circle cx="632.18" cy="59.48" r="1.35"/><circle cx="632.80" cy="51.45" r="1.35"/><circle cx="633.42" cy="58.25" r="1.35"/><circle cx="634.65" cy="48.36" r="1.35"/><circle cx="635.89" cy="47.74" r="1.35"/><circle cx="637.13" cy="48.36" r="1.35"/><circle cx="638.36" cy="45.27" r="1.35"/><circle cx="637.74" cy="55.77" r="1.35"/><circle cx="639.60" cy="58.86" r="1.35"/><circle cx="638.98" cy="50.83" r="1.35"/><circle cx="642.69" cy="44.41" r="1.35"/><circle cx="643.92" cy="61.33" r="1.35"/><circle cx="645.77" cy="34.52" r="1.35"/><circle cx="648.25" cy="37.24" r="1.35"/><circle cx="649.23" cy="38.48" r="1.35"/><circle cx="652.57" cy="39.71" r="1.35"/><circle cx="655.04" cy="58.86" r="1.35"/><circle cx="667.40" cy="41.94" r="1.35"/><circle cx="610.56" cy="69.37" r="1.35"/><circle cx="609.94" cy="65.04" r="1.35"/><circle cx="615.87" cy="69.37" r="1.35"/><circle cx="618.59" cy="69.37" r="1.35"/><circle cx="619.83" cy="68.75" r="1.35"/><circle cx="621.06" cy="69.37" r="1.35"/><circle cx="622.30" cy="67.51" r="1.35"/><circle cx="623.53" cy="69.37" r="1.35"/><circle cx="624.77" cy="66.89" r="1.35"/><circle cx="626.00" cy="67.51" r="1.35"/><circle cx="627.24" cy="67.51" r="1.35"/><circle cx="629.09" cy="67.51" r="1.35"/><circle cx="630.33" cy="67.88" r="1.35"/><circle cx="631.57" cy="70.60" r="1.35"/><circle cx="632.80" cy="68.75" r="1.35"/><circle cx="634.04" cy="68.13" r="1.35"/><circle cx="634.65" cy="70.60" r="1.35"/><circle cx="635.27" cy="69.37" r="1.35"/><circle cx="639.60" cy="68.13" r="1.35"/><circle cx="640.83" cy="70.60" r="1.35"/></g>
<line x1="546.12" y1="101.49" x2="667.77" y2="36.62" stroke="#b82a3c" stroke-width="1.1"/>
<rect x="535.30" y="16.70" width="142.10" height="120.50" fill="none" stroke="#262626" stroke-width="1.15"/>
<path d="M543.66 137.20v-2.3M560.38 137.20v-2.3M577.09 137.20v-2.3M593.81 137.20v-2.3M610.53 137.20v-2.3M627.25 137.20v-2.3M643.96 137.20v-2.3M660.68 137.20v-2.3M677.40 137.20v-2.3M552.02 137.20v-1.3M568.74 137.20v-1.3M585.45 137.20v-1.3M602.17 137.20v-1.3M618.89 137.20v-1.3M635.61 137.20v-1.3M652.32 137.20v-1.3M669.04 137.20v-1.3M535.30 137.20h2.3M535.30 113.10h2.3M535.30 89.00h2.3M535.30 64.90h2.3M535.30 40.80h2.3M535.30 16.70h2.3M535.30 125.15h1.3M535.30 101.05h1.3M535.30 76.95h1.3M535.30 52.85h1.3M535.30 28.75h1.3" stroke="#262626" stroke-width="0.9" fill="none"/>
<g font-size="7.2" font-weight="bold"><text x="543.66" y="146.60" text-anchor="middle">0.16</text><text x="560.38" y="146.60" text-anchor="middle">0.17</text><text x="577.09" y="146.60" text-anchor="middle">0.18</text><text x="593.81" y="146.60" text-anchor="middle">0.19</text><text x="610.53" y="146.60" text-anchor="middle">0.20</text><text x="627.25" y="146.60" text-anchor="middle">0.21</text><text x="643.96" y="146.60" text-anchor="middle">0.22</text><text x="660.68" y="146.60" text-anchor="middle">0.23</text><text x="677.40" y="146.60" text-anchor="middle">0.24</text><text x="532.70" y="140.58" text-anchor="end">0.30</text><text x="532.70" y="116.48" text-anchor="end">0.32</text><text x="532.70" y="92.38" text-anchor="end">0.34</text><text x="532.70" y="68.28" text-anchor="end">0.36</text><text x="532.70" y="44.18" text-anchor="end">0.38</text><text x="532.70" y="20.08" text-anchor="end">0.40</text></g>
<g font-size="7.2" font-weight="bold"><text x="546.60" y="33.60">y=0.75x+0.21</text><text x="546.60" y="43.60">R<tspan font-size="4.32" dy="-2.52">2</tspan><tspan dy="2.52">=0.66</tspan></text></g>
<g fill="#000"><circle cx="52.22" cy="253.54" r="1.35"/><circle cx="52.86" cy="252.25" r="1.35"/><circle cx="53.50" cy="251.61" r="1.35"/><circle cx="54.15" cy="250.96" r="1.35"/><circle cx="54.79" cy="250.32" r="1.35"/><circle cx="55.43" cy="249.68" r="1.35"/><circle cx="56.08" cy="249.04" r="1.35"/><circle cx="56.72" cy="248.39" r="1.35"/><circle cx="57.36" cy="248.01" r="1.35"/><circle cx="58.01" cy="247.49" r="1.35"/><circle cx="58.65" cy="247.23" r="1.35"/><circle cx="59.29" cy="247.11" r="1.35"/><circle cx="59.94" cy="246.85" r="1.35"/><circle cx="60.58" cy="246.72" r="1.35"/><circle cx="61.22" cy="246.59" r="1.35"/><circle cx="61.86" cy="246.46" r="1.35"/><circle cx="62.89" cy="246.46" r="1.35"/><circle cx="63.79" cy="246.46" r="1.35"/><circle cx="64.69" cy="246.33" r="1.35"/><circle cx="65.72" cy="246.21" r="1.35"/><circle cx="67.01" cy="246.21" r="1.35"/><circle cx="66.37" cy="234.63" r="1.35"/><circle cx="70.23" cy="233.60" r="1.35"/><circle cx="74.73" cy="232.06" r="1.35"/><circle cx="77.56" cy="230.39" r="1.35"/><circle cx="70.87" cy="245.43" r="1.35"/><circle cx="76.01" cy="242.35" r="1.35"/><circle cx="77.94" cy="244.53" r="1.35"/><circle cx="79.87" cy="241.58" r="1.35"/><circle cx="81.16" cy="242.60" r="1.35"/><circle cx="82.44" cy="241.32" r="1.35"/><circle cx="83.73" cy="244.53" r="1.35"/><circle cx="80.51" cy="235.53" r="1.35"/><circle cx="83.09" cy="235.53" r="1.35"/><circle cx="85.66" cy="227.43" r="1.35"/><circle cx="88.23" cy="234.89" r="1.35"/><circle cx="89.52" cy="243.89" r="1.35"/><circle cx="90.16" cy="239.77" r="1.35"/><circle cx="91.19" cy="238.75" r="1.35"/><circle cx="92.09" cy="235.53" r="1.35"/><circle cx="92.73" cy="238.75" r="1.35"/><circle cx="95.69" cy="223.70" r="1.35"/><circle cx="96.59" cy="236.43" r="1.35"/><circle cx="96.85" cy="245.43" r="1.35"/><circle cx="99.42" cy="203.76" r="1.35"/><circle cx="100.19" cy="210.45" r="1.35"/><circle cx="101.74" cy="237.85" r="1.35"/><circle cx="103.28" cy="237.46" r="1.35"/><circle cx="104.31" cy="211.22" r="1.35"/><circle cx="104.95" cy="237.07" r="1.35"/><circle cx="105.59" cy="229.74" r="1.35"/><circle cx="106.88" cy="219.45" r="1.35"/><circle cx="107.14" cy="199.77" r="1.35"/><circle cx="108.17" cy="206.33" r="1.35"/><circle cx="108.42" cy="231.80" r="1.35"/><circle cx="108.81" cy="213.02" r="1.35"/><circle cx="109.45" cy="207.23" r="1.35"/><circle cx="110.10" cy="213.67" r="1.35"/><circle cx="110.48" cy="214.31" r="1.35"/><circle cx="111.00" cy="216.88" r="1.35"/><circle cx="111.13" cy="188.97" r="1.35"/><circle cx="112.67" cy="220.10" r="1.35"/><circle cx="113.57" cy="224.60" r="1.35"/><circle cx="114.34" cy="190.90" r="1.35"/><circle cx="115.88" cy="204.66" r="1.35"/><circle cx="116.53" cy="205.95" r="1.35"/><circle cx="117.17" cy="207.23" r="1.35"/><circle cx="118.71" cy="207.88" r="1.35"/><circle cx="119.10" cy="193.47" r="1.35"/><circle cx="119.74" cy="183.05" r="1.35"/><circle cx="120.43" cy="183.05" r="1.35"/><circle cx="120.18" cy="194.37" r="1.35"/><circle cx="121.08" cy="195.02" r="1.35"/><circle cx="121.72" cy="200.16" r="1.35"/><circle cx="123.01" cy="192.44" r="1.35"/><circle cx="123.65" cy="201.45" r="1.35"/><circle cx="123.01" cy="216.62" r="1.35"/><circle cx="124.29" cy="192.44" r="1.35"/><circle cx="124.94" cy="193.73" r="1.35"/><circle cx="128.15" cy="193.09" r="1.35"/><circle cx="130.08" cy="202.09" r="1.35"/><circle cx="129.82" cy="182.80" r="1.35"/><circle cx="131.75" cy="185.37" r="1.35"/><circle cx="133.30" cy="174.18" r="1.35"/><circle cx="133.55" cy="191.16" r="1.35"/><circle cx="134.58" cy="188.59" r="1.35"/><circle cx="135.23" cy="211.74" r="1.35"/><circle cx="135.61" cy="178.55" r="1.35"/><circle cx="135.87" cy="165.43" r="1.35"/><circle cx="136.51" cy="179.32" r="1.35"/><circle cx="136.90" cy="187.94" r="1.35"/><circle cx="138.44" cy="187.94" r="1.35"/><circle cx="140.37" cy="177.40" r="1.35"/><circle cx="142.30" cy="170.19" r="1.35"/><circle cx="148.09" cy="164.79" r="1.35"/><circle cx="149.37" cy="162.48" r="1.35"/><circle cx="149.76" cy="184.08" r="1.35"/><circle cx="152.85" cy="165.43" r="1.35"/><circle cx="162.88" cy="161.96" r="1.35"/></g>
<line x1="52.22" y1="259.32" x2="162.88" y2="165.43" stroke="#b82a3c" stroke-width="1.1"/>
<rect x="41.60" y="153.60" width="141.80" height="120.20" fill="none" stroke="#262626" stroke-width="1.15"/>
<path d="M53.93 273.80v-2.3M72.43 273.80v-2.3M90.92 273.80v-2.3M109.42 273.80v-2.3M127.91 273.80v-2.3M146.41 273.80v-2.3M164.90 273.80v-2.3M183.40 273.80v-2.3M44.68 273.80v-1.3M63.18 273.80v-1.3M81.67 273.80v-1.3M100.17 273.80v-1.3M118.67 273.80v-1.3M137.16 273.80v-1.3M155.66 273.80v-1.3M174.15 273.80v-1.3M41.60 273.80h2.3M41.60 243.75h2.3M41.60 213.70h2.3M41.60 183.65h2.3M41.60 153.60h2.3M41.60 258.78h1.3M41.60 228.73h1.3M41.60 198.68h1.3M41.60 168.62h1.3" stroke="#262626" stroke-width="0.9" fill="none"/>
<g font-size="7.2" font-weight="bold"><text x="53.93" y="283.20" text-anchor="middle">0.15</text><text x="72.43" y="283.20" text-anchor="middle">0.18</text><text x="90.92" y="283.20" text-anchor="middle">0.21</text><text x="109.42" y="283.20" text-anchor="middle">0.24</text><text x="127.91" y="283.20" text-anchor="middle">0.27</text><text x="146.41" y="283.20" text-anchor="middle">0.30</text><text x="164.90" y="283.20" text-anchor="middle">0.33</text><text x="183.40" y="283.20" text-anchor="middle">0.36</text><text x="39.00" y="277.18" text-anchor="end">0.00</text><text x="39.00" y="247.13" text-anchor="end">0.05</text><text x="39.00" y="217.08" text-anchor="end">0.10</text><text x="39.00" y="187.03" text-anchor="end">0.15</text><text x="39.00" y="156.98" text-anchor="end">0.20</text></g>
<g font-size="7.2" font-weight="bold"><text x="52.90" y="170.50">y=0.87x-0.10</text><text x="52.90" y="180.50">R<tspan font-size="4.32" dy="-2.52">2</tspan><tspan dy="2.52">=0.85</tspan></text></g>
<g fill="#000"><circle cx="219.14" cy="252.59" r="1.35"/><circle cx="219.85" cy="252.26" r="1.35"/><circle cx="220.35" cy="252.12" r="1.35"/><circle cx="220.66" cy="251.91" r="1.35"/><circle cx="221.19" cy="251.58" r="1.35"/><circle cx="221.77" cy="251.14" r="1.35"/><circle cx="222.51" cy="251.25" r="1.35"/><circle cx="222.92" cy="250.68" r="1.35"/><circle cx="223.73" cy="250.78" r="1.35"/><circle cx="224.26" cy="250.24" r="1.35"/><circle cx="225.02" cy="249.80" r="1.35"/><circle cx="225.53" cy="249.66" r="1.35"/><circle cx="225.76" cy="249.39" r="1.35"/><circle cx="226.43" cy="249.55" r="1.35"/><circle cx="226.96" cy="249.25" r="1.35"/><circle cx="227.78" cy="248.96" r="1.35"/><circle cx="228.32" cy="248.62" r="1.35"/><circle cx="228.67" cy="248.51" r="1.35"/><circle cx="229.57" cy="248.43" r="1.35"/><circle cx="229.98" cy="248.33" r="1.35"/><circle cx="230.64" cy="248.00" r="1.35"/><circle cx="231.40" cy="248.01" r="1.35"/><circle cx="231.72" cy="247.76" r="1.35"/><circle cx="232.45" cy="247.73" r="1.35"/><circle cx="233.14" cy="247.25" r="1.35"/><circle cx="236.86" cy="231.73" r="1.35"/><circle cx="240.69" cy="231.13" r="1.35"/><circle cx="244.52" cy="230.53" r="1.35"/><circle cx="248.36" cy="228.72" r="1.35"/><circle cx="254.49" cy="226.92" r="1.35"/><circle cx="236.86" cy="245.55" r="1.35"/><circle cx="244.52" cy="243.75" r="1.35"/><circle cx="246.82" cy="241.95" r="1.35"/><circle cx="248.36" cy="240.75" r="1.35"/><circle cx="250.66" cy="243.75" r="1.35"/><circle cx="252.19" cy="239.54" r="1.35"/><circle cx="256.02" cy="239.54" r="1.35"/><circle cx="259.85" cy="238.34" r="1.35"/><circle cx="244.52" cy="250.36" r="1.35"/><circle cx="248.36" cy="250.96" r="1.35"/><circle cx="252.19" cy="251.56" r="1.35"/><circle cx="255.26" cy="252.77" r="1.35"/><circle cx="256.02" cy="252.16" r="1.35"/><circle cx="263.69" cy="223.92" r="1.35"/><circle cx="267.52" cy="236.54" r="1.35"/><circle cx="271.35" cy="236.54" r="1.35"/><circle cx="269.05" cy="216.70" r="1.35"/><circle cx="269.05" cy="208.89" r="1.35"/><circle cx="271.35" cy="216.10" r="1.35"/><circle cx="273.65" cy="217.31" r="1.35"/><circle cx="275.18" cy="220.91" r="1.35"/><circle cx="275.95" cy="231.73" r="1.35"/><circle cx="276.72" cy="203.48" r="1.35"/><circle cx="277.48" cy="213.70" r="1.35"/><circle cx="279.02" cy="210.70" r="1.35"/><circle cx="279.02" cy="217.91" r="1.35"/><circle cx="280.55" cy="216.70" r="1.35"/><circle cx="281.32" cy="192.06" r="1.35"/><circle cx="282.08" cy="229.33" r="1.35"/><circle cx="282.85" cy="230.53" r="1.35"/><circle cx="283.62" cy="210.09" r="1.35"/><circle cx="284.38" cy="233.53" r="1.35"/><circle cx="285.15" cy="234.74" r="1.35"/><circle cx="286.68" cy="207.69" r="1.35"/><circle cx="286.68" cy="212.50" r="1.35"/><circle cx="287.45" cy="198.07" r="1.35"/><circle cx="288.98" cy="216.10" r="1.35"/><circle cx="290.51" cy="211.90" r="1.35"/><circle cx="291.28" cy="207.69" r="1.35"/><circle cx="292.05" cy="186.66" r="1.35"/><circle cx="292.81" cy="204.69" r="1.35"/><circle cx="293.58" cy="229.33" r="1.35"/><circle cx="294.35" cy="203.48" r="1.35"/><circle cx="295.88" cy="195.07" r="1.35"/><circle cx="296.65" cy="198.07" r="1.35"/><circle cx="298.18" cy="214.90" r="1.35"/><circle cx="300.48" cy="187.86" r="1.35"/><circle cx="302.01" cy="209.49" r="1.35"/><circle cx="302.78" cy="217.31" r="1.35"/><circle cx="303.54" cy="189.66" r="1.35"/><circle cx="304.31" cy="177.64" r="1.35"/><circle cx="305.08" cy="179.44" r="1.35"/><circle cx="305.84" cy="195.67" r="1.35"/><circle cx="307.38" cy="186.05" r="1.35"/><circle cx="308.14" cy="202.88" r="1.35"/><circle cx="309.68" cy="193.87" r="1.35"/><circle cx="311.98" cy="183.65" r="1.35"/><circle cx="315.81" cy="177.64" r="1.35"/><circle cx="318.87" cy="178.84" r="1.35"/><circle cx="323.47" cy="170.43" r="1.35"/><circle cx="325.01" cy="169.83" r="1.35"/><circle cx="340.34" cy="169.23" r="1.35"/></g>
<line x1="219.23" y1="258.77" x2="340.34" y2="172.23" stroke="#b82a3c" stroke-width="1.1"/>
<rect x="206.20" y="153.60" width="141.80" height="120.20" fill="none" stroke="#262626" stroke-width="1.15"/>
<path d="M225.36 273.80v-2.3M256.02 273.80v-2.3M286.68 273.80v-2.3M317.34 273.80v-2.3M348.00 273.80v-2.3M210.03 273.80v-1.3M240.69 273.80v-1.3M271.35 273.80v-1.3M302.01 273.80v-1.3M332.67 273.80v-1.3M206.20 273.80h2.3M206.20 249.76h2.3M206.20 225.72h2.3M206.20 201.68h2.3M206.20 177.64h2.3M206.20 153.60h2.3M206.20 261.78h1.3M206.20 237.74h1.3M206.20 213.70h1.3M206.20 189.66h1.3M206.20 165.62h1.3" stroke="#262626" stroke-width="0.9" fill="none"/>
<g font-size="7.2" font-weight="bold"><text x="225.36" y="283.20" text-anchor="middle">0.18</text><text x="256.02" y="283.20" text-anchor="middle">0.22</text><text x="286.68" y="283.20" text-anchor="middle">0.26</text><text x="317.34" y="283.20" text-anchor="middle">0.30</text><text x="348.00" y="283.20" text-anchor="middle">0.34</text><text x="203.60" y="277.18" text-anchor="end">0.04</text><text x="203.60" y="253.14" text-anchor="end">0.08</text><text x="203.60" y="229.10" text-anchor="end">0.12</text><text x="203.60" y="205.06" text-anchor="end">0.16</text><text x="203.60" y="181.02" text-anchor="end">0.20</text><text x="203.60" y="156.98" text-anchor="end">0.24</text></g>
<g font-size="7.2" font-weight="bold"><text x="217.50" y="170.50">y=0.92x-0.09</text><text x="217.50" y="180.50">R<tspan font-size="4.32" dy="-2.52">2</tspan><tspan dy="2.52">=0.82</tspan></text></g>
<g fill="#000"><circle cx="385.51" cy="263.00" r="1.35"/><circle cx="385.95" cy="262.97" r="1.35"/><circle cx="386.55" cy="262.49" r="1.35"/><circle cx="387.22" cy="262.23" r="1.35"/><circle cx="388.31" cy="261.83" r="1.35"/><circle cx="389.12" cy="261.42" r="1.35"/><circle cx="389.79" cy="261.29" r="1.35"/><circle cx="390.49" cy="260.95" r="1.35"/><circle cx="391.38" cy="260.92" r="1.35"/><circle cx="391.95" cy="260.50" r="1.35"/><circle cx="392.52" cy="260.29" r="1.35"/><circle cx="393.59" cy="260.21" r="1.35"/><circle cx="394.45" cy="259.63" r="1.35"/><circle cx="395.01" cy="259.60" r="1.35"/><circle cx="395.60" cy="259.27" r="1.35"/><circle cx="396.45" cy="258.87" r="1.35"/><circle cx="397.12" cy="258.88" r="1.35"/><circle cx="397.85" cy="258.20" r="1.35"/><circle cx="398.67" cy="258.10" r="1.35"/><circle cx="399.21" cy="257.47" r="1.35"/><circle cx="400.13" cy="257.27" r="1.35"/><circle cx="400.96" cy="256.85" r="1.35"/><circle cx="401.38" cy="256.21" r="1.35"/><circle cx="402.11" cy="256.02" r="1.35"/><circle cx="403.10" cy="255.24" r="1.35"/><circle cx="401.73" cy="264.47" r="1.35"/><circle cx="403.30" cy="264.60" r="1.35"/><circle cx="405.01" cy="264.49" r="1.35"/><circle cx="406.26" cy="264.57" r="1.35"/><circle cx="407.98" cy="264.64" r="1.35"/><circle cx="409.80" cy="264.70" r="1.35"/><circle cx="411.12" cy="264.67" r="1.35"/><circle cx="412.74" cy="264.39" r="1.35"/><circle cx="406.78" cy="239.86" r="1.35"/><circle cx="410.70" cy="239.15" r="1.35"/><circle cx="414.61" cy="237.74" r="1.35"/><circle cx="418.52" cy="234.91" r="1.35"/><circle cx="424.39" cy="232.79" r="1.35"/><circle cx="424.39" cy="239.86" r="1.35"/><circle cx="406.78" cy="254.00" r="1.35"/><circle cx="410.70" cy="252.59" r="1.35"/><circle cx="412.65" cy="251.17" r="1.35"/><circle cx="414.61" cy="249.76" r="1.35"/><circle cx="419.50" cy="248.35" r="1.35"/><circle cx="424.39" cy="247.64" r="1.35"/><circle cx="429.28" cy="246.93" r="1.35"/><circle cx="432.21" cy="245.52" r="1.35"/><circle cx="434.17" cy="243.40" r="1.35"/><circle cx="436.12" cy="241.98" r="1.35"/><circle cx="439.06" cy="244.10" r="1.35"/><circle cx="441.99" cy="240.57" r="1.35"/><circle cx="443.94" cy="239.86" r="1.35"/><circle cx="429.28" cy="229.26" r="1.35"/><circle cx="434.17" cy="202.39" r="1.35"/><circle cx="434.17" cy="224.31" r="1.35"/><circle cx="436.12" cy="227.13" r="1.35"/><circle cx="436.12" cy="217.24" r="1.35"/><circle cx="438.08" cy="217.24" r="1.35"/><circle cx="440.03" cy="216.53" r="1.35"/><circle cx="440.03" cy="198.14" r="1.35"/><circle cx="441.99" cy="215.82" r="1.35"/><circle cx="441.99" cy="223.60" r="1.35"/><circle cx="443.94" cy="213.70" r="1.35"/><circle cx="443.94" cy="222.89" r="1.35"/><circle cx="445.90" cy="211.58" r="1.35"/><circle cx="446.88" cy="187.54" r="1.35"/><circle cx="446.88" cy="191.78" r="1.35"/><circle cx="447.86" cy="219.36" r="1.35"/><circle cx="449.81" cy="209.46" r="1.35"/><circle cx="449.81" cy="229.26" r="1.35"/><circle cx="451.77" cy="203.09" r="1.35"/><circle cx="453.72" cy="219.36" r="1.35"/><circle cx="454.70" cy="198.14" r="1.35"/><circle cx="455.68" cy="206.63" r="1.35"/><circle cx="456.66" cy="184.71" r="1.35"/><circle cx="458.61" cy="206.63" r="1.35"/><circle cx="459.59" cy="218.65" r="1.35"/><circle cx="460.57" cy="181.88" r="1.35"/><circle cx="461.55" cy="190.37" r="1.35"/><circle cx="462.53" cy="194.61" r="1.35"/><circle cx="463.50" cy="197.44" r="1.35"/><circle cx="466.44" cy="200.97" r="1.35"/><circle cx="467.42" cy="202.39" r="1.35"/><circle cx="469.37" cy="181.18" r="1.35"/><circle cx="470.35" cy="191.78" r="1.35"/><circle cx="470.35" cy="204.51" r="1.35"/><circle cx="473.28" cy="173.40" r="1.35"/><circle cx="477.19" cy="176.23" r="1.35"/><circle cx="478.17" cy="188.25" r="1.35"/><circle cx="480.13" cy="203.09" r="1.35"/><circle cx="483.06" cy="184.00" r="1.35"/><circle cx="488.93" cy="180.47" r="1.35"/><circle cx="499.69" cy="176.23" r="1.35"/><circle cx="435.62" cy="217.31" r="1.35"/><circle cx="436.68" cy="218.16" r="1.35"/><circle cx="438.16" cy="216.47" r="1.35"/><circle cx="440.91" cy="214.56" r="1.35"/><circle cx="442.39" cy="211.81" r="1.35"/><circle cx="443.03" cy="216.04" r="1.35"/><circle cx="441.97" cy="223.03" r="1.35"/><circle cx="436.04" cy="224.09" r="1.35"/><circle cx="436.89" cy="226.20" r="1.35"/><circle cx="447.47" cy="221.55" r="1.35"/><circle cx="452.98" cy="224.09" r="1.35"/><circle cx="461.45" cy="196.57" r="1.35"/><circle cx="462.29" cy="199.11" r="1.35"/><circle cx="466.53" cy="201.23" r="1.35"/><circle cx="469.07" cy="204.19" r="1.35"/><circle cx="433.50" cy="242.29" r="1.35"/><circle cx="434.56" cy="243.14" r="1.35"/><circle cx="437.74" cy="242.29" r="1.35"/><circle cx="439.43" cy="243.99" r="1.35"/></g>
<line x1="385.27" y1="270.26" x2="499.69" y2="167.74" stroke="#b82a3c" stroke-width="1.1"/>
<rect x="370.60" y="153.60" width="141.80" height="120.20" fill="none" stroke="#262626" stroke-width="1.15"/>
<path d="M375.49 273.80v-2.3M395.05 273.80v-2.3M414.61 273.80v-2.3M434.17 273.80v-2.3M453.72 273.80v-2.3M473.28 273.80v-2.3M492.84 273.80v-2.3M512.40 273.80v-2.3M385.27 273.80v-1.3M404.83 273.80v-1.3M424.39 273.80v-1.3M443.94 273.80v-1.3M463.50 273.80v-1.3M483.06 273.80v-1.3M502.62 273.80v-1.3M370.60 266.73h2.3M370.60 252.59h2.3M370.60 238.45h2.3M370.60 224.31h2.3M370.60 210.16h2.3M370.60 196.02h2.3M370.60 181.88h2.3M370.60 167.74h2.3M370.60 153.60h2.3M370.60 259.66h1.3M370.60 245.52h1.3M370.60 231.38h1.3M370.60 217.24h1.3M370.60 203.09h1.3M370.60 188.95h1.3M370.60 174.81h1.3M370.60 160.67h1.3" stroke="#262626" stroke-width="0.9" fill="none"/>
<g font-size="7.2" font-weight="bold"><text x="375.49" y="283.20" text-anchor="middle">0.20</text><text x="395.05" y="283.20" text-anchor="middle">0.22</text><text x="414.61" y="283.20" text-anchor="middle">0.24</text><text x="434.17" y="283.20" text-anchor="middle">0.26</text><text x="453.72" y="283.20" text-anchor="middle">0.28</text><text x="473.28" y="283.20" text-anchor="middle">0.30</text><text x="492.84" y="283.20" text-anchor="middle">0.32</text><text x="512.40" y="283.20" text-anchor="middle">0.34</text><text x="368.00" y="270.11" text-anchor="end">0.08</text><text x="368.00" y="255.97" text-anchor="end">0.10</text><text x="368.00" y="241.83" text-anchor="end">0.12</text><text x="368.00" y="227.69" text-anchor="end">0.14</text><text x="368.00" y="213.55" text-anchor="end">0.16</text><text x="368.00" y="199.41" text-anchor="end">0.18</text><text x="368.00" y="185.27" text-anchor="end">0.20</text><text x="368.00" y="171.13" text-anchor="end">0.22</text><text x="368.00" y="156.98" text-anchor="end">0.24</text></g>
<g font-size="7.2" font-weight="bold"><text x="381.90" y="170.50">y=0.12x-0.19</text><text x="381.90" y="180.50">R<tspan font-size="4.32" dy="-2.52">2</tspan><tspan dy="2.52">=0.85</tspan></text></g>
<g fill="#000"><circle cx="553.29" cy="259.97" r="1.35"/><circle cx="554.28" cy="259.72" r="1.35"/><circle cx="555.26" cy="259.47" r="1.35"/><circle cx="556.25" cy="259.23" r="1.35"/><circle cx="557.24" cy="258.98" r="1.35"/><circle cx="558.23" cy="258.73" r="1.35"/><circle cx="559.22" cy="258.48" r="1.35"/><circle cx="560.21" cy="258.24" r="1.35"/><circle cx="561.19" cy="257.99" r="1.35"/><circle cx="562.18" cy="257.74" r="1.35"/><circle cx="563.17" cy="257.50" r="1.35"/><circle cx="564.16" cy="257.25" r="1.35"/><circle cx="565.15" cy="257.00" r="1.35"/><circle cx="566.14" cy="256.75" r="1.35"/><circle cx="567.13" cy="256.51" r="1.35"/><circle cx="568.11" cy="256.26" r="1.35"/><circle cx="569.10" cy="256.01" r="1.35"/><circle cx="570.09" cy="255.77" r="1.35"/><circle cx="571.08" cy="255.52" r="1.35"/><circle cx="572.07" cy="255.27" r="1.35"/><circle cx="574.79" cy="254.28" r="1.35"/><circle cx="577.50" cy="253.42" r="1.35"/><circle cx="580.10" cy="252.43" r="1.35"/><circle cx="582.82" cy="251.44" r="1.35"/><circle cx="585.54" cy="250.58" r="1.35"/><circle cx="588.25" cy="249.59" r="1.35"/><circle cx="590.85" cy="248.60" r="1.35"/><circle cx="593.57" cy="247.73" r="1.35"/><circle cx="596.29" cy="246.75" r="1.35"/><circle cx="599.00" cy="245.88" r="1.35"/><circle cx="601.72" cy="244.89" r="1.35"/><circle cx="604.32" cy="243.90" r="1.35"/><circle cx="607.03" cy="243.04" r="1.35"/><circle cx="609.75" cy="242.05" r="1.35"/><circle cx="564.65" cy="259.35" r="1.35"/><circle cx="565.89" cy="259.72" r="1.35"/><circle cx="567.13" cy="259.97" r="1.35"/><circle cx="568.36" cy="260.21" r="1.35"/><circle cx="569.60" cy="260.34" r="1.35"/><circle cx="570.83" cy="260.58" r="1.35"/><circle cx="572.07" cy="260.71" r="1.35"/><circle cx="573.30" cy="260.71" r="1.35"/><circle cx="574.54" cy="260.71" r="1.35"/><circle cx="575.77" cy="260.71" r="1.35"/><circle cx="577.01" cy="260.71" r="1.35"/><circle cx="578.25" cy="260.71" r="1.35"/><circle cx="578.86" cy="240.82" r="1.35"/><circle cx="582.57" cy="240.20" r="1.35"/><circle cx="585.66" cy="238.34" r="1.35"/><circle cx="589.37" cy="236.49" r="1.35"/><circle cx="592.08" cy="241.19" r="1.35"/><circle cx="595.30" cy="233.03" r="1.35"/><circle cx="601.47" cy="229.70" r="1.35"/><circle cx="607.28" cy="225.99" r="1.35"/><circle cx="607.90" cy="213.01" r="1.35"/><circle cx="608.52" cy="185.83" r="1.35"/><circle cx="609.14" cy="190.16" r="1.35"/><circle cx="609.38" cy="181.88" r="1.35"/><circle cx="610.56" cy="181.51" r="1.35"/><circle cx="614.88" cy="178.17" r="1.35"/><circle cx="621.06" cy="174.71" r="1.35"/><circle cx="624.52" cy="178.42" r="1.35"/><circle cx="626.62" cy="172.86" r="1.35"/><circle cx="626.25" cy="164.58" r="1.35"/><circle cx="631.57" cy="171.25" r="1.35"/><circle cx="634.65" cy="162.36" r="1.35"/><circle cx="635.64" cy="161.74" r="1.35"/><circle cx="638.61" cy="170.39" r="1.35"/><circle cx="642.07" cy="169.52" r="1.35"/><circle cx="647.63" cy="175.33" r="1.35"/><circle cx="652.57" cy="182.13" r="1.35"/><circle cx="657.51" cy="179.65" r="1.35"/><circle cx="661.22" cy="177.18" r="1.35"/><circle cx="663.07" cy="175.33" r="1.35"/><circle cx="645.53" cy="184.84" r="1.35"/><circle cx="637.37" cy="187.69" r="1.35"/><circle cx="626.25" cy="193.25" r="1.35"/><circle cx="625.39" cy="199.42" r="1.35"/><circle cx="628.48" cy="203.13" r="1.35"/><circle cx="630.70" cy="195.72" r="1.35"/><circle cx="631.57" cy="193.86" r="1.35"/><circle cx="632.18" cy="195.10" r="1.35"/><circle cx="635.27" cy="196.33" r="1.35"/><circle cx="637.37" cy="197.57" r="1.35"/><circle cx="638.36" cy="196.95" r="1.35"/><circle cx="622.30" cy="207.08" r="1.35"/><circle cx="620.44" cy="213.26" r="1.35"/><circle cx="621.31" cy="212.77" r="1.35"/><circle cx="616.12" cy="217.71" r="1.35"/><circle cx="616.12" cy="220.68" r="1.35"/><circle cx="615.50" cy="210.54" r="1.35"/><circle cx="613.65" cy="209.06" r="1.35"/><circle cx="613.03" cy="214.00" r="1.35"/><circle cx="610.56" cy="222.90" r="1.35"/><circle cx="611.43" cy="189.29" r="1.35"/><circle cx="612.41" cy="190.16" r="1.35"/><circle cx="613.90" cy="189.54" r="1.35"/><circle cx="609.94" cy="242.05" r="1.35"/></g>
<line x1="553.29" y1="271.71" x2="663.45" y2="161.37" stroke="#b82a3c" stroke-width="1.1"/>
<rect x="535.30" y="153.60" width="142.10" height="120.20" fill="none" stroke="#262626" stroke-width="1.15"/>
<path d="M548.22 273.80v-2.3M574.05 273.80v-2.3M599.89 273.80v-2.3M625.73 273.80v-2.3M651.56 273.80v-2.3M677.40 273.80v-2.3M535.30 273.80v-1.3M561.14 273.80v-1.3M586.97 273.80v-1.3M612.81 273.80v-1.3M638.65 273.80v-1.3M664.48 273.80v-1.3M535.30 262.08h2.3M535.30 240.39h2.3M535.30 218.69h2.3M535.30 196.99h2.3M535.30 175.30h2.3M535.30 153.60h2.3M535.30 272.93h1.3M535.30 251.24h1.3M535.30 229.54h1.3M535.30 207.84h1.3M535.30 186.15h1.3M535.30 164.45h1.3" stroke="#262626" stroke-width="0.9" fill="none"/>
<g font-size="7.2" font-weight="bold"><text x="548.22" y="283.20" text-anchor="middle">0.22</text><text x="574.05" y="283.20" text-anchor="middle">0.24</text><text x="599.89" y="283.20" text-anchor="middle">0.26</text><text x="625.73" y="283.20" text-anchor="middle">0.28</text><text x="651.56" y="283.20" text-anchor="middle">0.30</text><text x="677.40" y="283.20" text-anchor="middle">0.32</text><text x="532.70" y="265.47" text-anchor="end">0.15</text><text x="532.70" y="243.77" text-anchor="end">0.20</text><text x="532.70" y="222.07" text-anchor="end">0.25</text><text x="532.70" y="200.38" text-anchor="end">0.30</text><text x="532.70" y="178.68" text-anchor="end">0.35</text><text x="532.70" y="156.98" text-anchor="end">0.40</text></g>
<g font-size="7.2" font-weight="bold"><text x="546.60" y="170.50">y=2.94x-0.53</text><text x="546.60" y="180.50">R<tspan font-size="4.32" dy="-2.52">2</tspan><tspan dy="2.52">=0.81</tspan></text></g>
<g fill="#000"><circle cx="54.58" cy="405.38" r="1.35"/><circle cx="54.33" cy="404.76" r="1.35"/><circle cx="54.21" cy="404.14" r="1.35"/><circle cx="54.09" cy="403.53" r="1.35"/><circle cx="53.96" cy="402.91" r="1.35"/><circle cx="53.96" cy="402.29" r="1.35"/><circle cx="53.96" cy="401.67" r="1.35"/><circle cx="54.09" cy="401.06" r="1.35"/><circle cx="54.21" cy="400.44" r="1.35"/><circle cx="54.33" cy="399.82" r="1.35"/><circle cx="54.46" cy="399.20" r="1.35"/><circle cx="54.58" cy="398.58" r="1.35"/><circle cx="54.83" cy="397.97" r="1.35"/><circle cx="54.95" cy="397.35" r="1.35"/><circle cx="55.20" cy="396.73" r="1.35"/><circle cx="55.32" cy="396.11" r="1.35"/><circle cx="55.57" cy="395.50" r="1.35"/><circle cx="55.82" cy="394.88" r="1.35"/><circle cx="56.06" cy="394.26" r="1.35"/><circle cx="56.19" cy="393.64" r="1.35"/><circle cx="56.43" cy="393.02" r="1.35"/><circle cx="56.56" cy="392.41" r="1.35"/><circle cx="56.80" cy="391.79" r="1.35"/><circle cx="57.05" cy="391.17" r="1.35"/><circle cx="57.30" cy="390.55" r="1.35"/><circle cx="57.55" cy="389.94" r="1.35"/><circle cx="57.92" cy="389.32" r="1.35"/><circle cx="58.16" cy="388.70" r="1.35"/><circle cx="58.53" cy="388.08" r="1.35"/><circle cx="59.03" cy="387.59" r="1.35"/><circle cx="59.52" cy="387.22" r="1.35"/><circle cx="60.14" cy="387.09" r="1.35"/><circle cx="60.76" cy="387.09" r="1.35"/><circle cx="61.38" cy="387.09" r="1.35"/><circle cx="61.99" cy="387.22" r="1.35"/><circle cx="62.86" cy="388.08" r="1.35"/><circle cx="64.09" cy="388.70" r="1.35"/><circle cx="65.95" cy="389.07" r="1.35"/><circle cx="67.43" cy="389.07" r="1.35"/><circle cx="63.23" cy="385.61" r="1.35"/><circle cx="64.09" cy="383.76" r="1.35"/><circle cx="64.71" cy="382.52" r="1.35"/><circle cx="65.33" cy="381.29" r="1.35"/><circle cx="65.95" cy="380.42" r="1.35"/><circle cx="60.39" cy="372.64" r="1.35"/><circle cx="61.00" cy="368.93" r="1.35"/><circle cx="62.86" cy="366.09" r="1.35"/><circle cx="64.71" cy="362.38" r="1.35"/><circle cx="69.65" cy="363.12" r="1.35"/><circle cx="70.27" cy="374.49" r="1.35"/><circle cx="70.27" cy="381.29" r="1.35"/><circle cx="71.51" cy="361.89" r="1.35"/><circle cx="72.13" cy="379.43" r="1.35"/><circle cx="72.74" cy="360.90" r="1.35"/><circle cx="73.36" cy="363.37" r="1.35"/><circle cx="73.98" cy="370.17" r="1.35"/><circle cx="75.21" cy="369.55" r="1.35"/><circle cx="75.83" cy="373.26" r="1.35"/><circle cx="77.07" cy="373.01" r="1.35"/><circle cx="78.30" cy="359.66" r="1.35"/><circle cx="79.54" cy="368.31" r="1.35"/><circle cx="80.16" cy="366.46" r="1.35"/><circle cx="82.01" cy="359.66" r="1.35"/><circle cx="82.63" cy="370.78" r="1.35"/><circle cx="83.86" cy="380.67" r="1.35"/><circle cx="84.48" cy="363.99" r="1.35"/><circle cx="85.10" cy="354.72" r="1.35"/><circle cx="85.72" cy="363.37" r="1.35"/><circle cx="86.71" cy="354.72" r="1.35"/><circle cx="86.95" cy="380.05" r="1.35"/><circle cx="87.57" cy="342.98" r="1.35"/><circle cx="87.94" cy="348.54" r="1.35"/><circle cx="88.19" cy="363.37" r="1.35"/><circle cx="88.81" cy="362.14" r="1.35"/><circle cx="89.42" cy="362.75" r="1.35"/><circle cx="90.04" cy="383.39" r="1.35"/><circle cx="90.66" cy="368.31" r="1.35"/><circle cx="90.66" cy="338.04" r="1.35"/><circle cx="91.28" cy="362.14" r="1.35"/><circle cx="91.89" cy="377.58" r="1.35"/><circle cx="93.13" cy="351.01" r="1.35"/><circle cx="93.75" cy="359.66" r="1.35"/><circle cx="94.37" cy="376.34" r="1.35"/><circle cx="94.98" cy="344.22" r="1.35"/><circle cx="94.98" cy="368.93" r="1.35"/><circle cx="95.60" cy="380.67" r="1.35"/><circle cx="96.22" cy="349.16" r="1.35"/><circle cx="96.84" cy="360.90" r="1.35"/><circle cx="98.07" cy="334.33" r="1.35"/><circle cx="98.69" cy="373.26" r="1.35"/><circle cx="99.31" cy="359.66" r="1.35"/><circle cx="100.54" cy="345.45" r="1.35"/><circle cx="101.16" cy="350.40" r="1.35"/><circle cx="101.78" cy="359.66" r="1.35"/><circle cx="102.40" cy="357.19" r="1.35"/><circle cx="103.01" cy="380.05" r="1.35"/><circle cx="103.63" cy="364.61" r="1.35"/><circle cx="104.25" cy="342.98" r="1.35"/><circle cx="104.87" cy="348.54" r="1.35"/><circle cx="104.87" cy="352.25" r="1.35"/><circle cx="105.49" cy="367.08" r="1.35"/><circle cx="105.49" cy="370.17" r="1.35"/><circle cx="106.10" cy="357.19" r="1.35"/><circle cx="106.72" cy="333.10" r="1.35"/><circle cx="107.71" cy="329.39" r="1.35"/><circle cx="107.34" cy="359.66" r="1.35"/><circle cx="107.96" cy="373.26" r="1.35"/><circle cx="108.57" cy="344.84" r="1.35"/><circle cx="109.19" cy="354.72" r="1.35"/><circle cx="109.81" cy="375.11" r="1.35"/><circle cx="110.43" cy="378.20" r="1.35"/><circle cx="111.05" cy="357.19" r="1.35"/><circle cx="111.66" cy="362.14" r="1.35"/><circle cx="112.90" cy="348.54" r="1.35"/><circle cx="113.52" cy="372.02" r="1.35"/><circle cx="114.14" cy="354.72" r="1.35"/><circle cx="114.75" cy="359.66" r="1.35"/><circle cx="125.44" cy="315.18" r="1.35"/><circle cx="131.00" cy="315.43" r="1.35"/><circle cx="133.48" cy="316.67" r="1.35"/><circle cx="136.57" cy="318.89" r="1.35"/><circle cx="139.04" cy="321.11" r="1.35"/><circle cx="142.13" cy="323.21" r="1.35"/><circle cx="148.06" cy="312.96" r="1.35"/><circle cx="149.79" cy="317.90" r="1.35"/><circle cx="162.51" cy="314.94" r="1.35"/><circle cx="163.38" cy="313.95" r="1.35"/><circle cx="120.87" cy="325.07" r="1.35"/><circle cx="128.53" cy="328.16" r="1.35"/><circle cx="138.42" cy="328.16" r="1.35"/><circle cx="139.65" cy="328.77" r="1.35"/><circle cx="140.27" cy="330.63" r="1.35"/><circle cx="148.30" cy="326.92" r="1.35"/><circle cx="148.92" cy="328.77" r="1.35"/><circle cx="153.00" cy="328.16" r="1.35"/><circle cx="158.19" cy="325.31" r="1.35"/><circle cx="159.42" cy="328.77" r="1.35"/><circle cx="160.04" cy="331.86" r="1.35"/><circle cx="168.07" cy="329.39" r="1.35"/><circle cx="173.01" cy="323.21" r="1.35"/><circle cx="175.49" cy="324.45" r="1.35"/><circle cx="166.84" cy="321.61" r="1.35"/><circle cx="117.41" cy="342.98" r="1.35"/><circle cx="118.03" cy="352.25" r="1.35"/><circle cx="118.65" cy="347.31" r="1.35"/><circle cx="119.27" cy="351.63" r="1.35"/><circle cx="119.88" cy="339.28" r="1.35"/><circle cx="120.50" cy="350.40" r="1.35"/><circle cx="121.74" cy="349.78" r="1.35"/><circle cx="122.36" cy="346.07" r="1.35"/><circle cx="122.97" cy="343.60" r="1.35"/><circle cx="123.59" cy="336.81" r="1.35"/><circle cx="123.59" cy="352.25" r="1.35"/><circle cx="124.21" cy="355.34" r="1.35"/><circle cx="124.83" cy="346.07" r="1.35"/><circle cx="125.44" cy="342.37" r="1.35"/><circle cx="125.44" cy="356.57" r="1.35"/><circle cx="126.06" cy="335.57" r="1.35"/><circle cx="126.06" cy="348.54" r="1.35"/><circle cx="126.68" cy="331.86" r="1.35"/><circle cx="126.68" cy="344.84" r="1.35"/><circle cx="127.30" cy="339.89" r="1.35"/><circle cx="127.30" cy="349.78" r="1.35"/><circle cx="127.92" cy="355.96" r="1.35"/><circle cx="127.92" cy="341.13" r="1.35"/><circle cx="128.53" cy="338.66" r="1.35"/><circle cx="128.53" cy="346.07" r="1.35"/><circle cx="129.15" cy="342.37" r="1.35"/><circle cx="129.77" cy="334.95" r="1.35"/><circle cx="129.77" cy="337.42" r="1.35"/><circle cx="130.39" cy="344.84" r="1.35"/><circle cx="130.39" cy="332.48" r="1.35"/><circle cx="131.00" cy="336.19" r="1.35"/><circle cx="131.00" cy="339.89" r="1.35"/><circle cx="131.62" cy="331.25" r="1.35"/><circle cx="132.24" cy="333.72" r="1.35"/><circle cx="132.24" cy="338.66" r="1.35"/><circle cx="132.86" cy="334.95" r="1.35"/><circle cx="133.48" cy="330.63" r="1.35"/><circle cx="133.48" cy="337.42" r="1.35"/><circle cx="134.09" cy="342.37" r="1.35"/><circle cx="134.71" cy="333.10" r="1.35"/><circle cx="135.33" cy="336.19" r="1.35"/><circle cx="135.95" cy="333.72" r="1.35"/><circle cx="136.57" cy="334.95" r="1.35"/><circle cx="137.18" cy="332.48" r="1.35"/><circle cx="137.80" cy="337.42" r="1.35"/><circle cx="137.80" cy="347.31" r="1.35"/><circle cx="138.42" cy="334.95" r="1.35"/><circle cx="139.04" cy="332.48" r="1.35"/><circle cx="139.65" cy="337.42" r="1.35"/><circle cx="140.27" cy="334.95" r="1.35"/><circle cx="140.89" cy="333.10" r="1.35"/><circle cx="141.51" cy="335.57" r="1.35"/><circle cx="142.13" cy="333.72" r="1.35"/><circle cx="142.74" cy="336.19" r="1.35"/><circle cx="143.36" cy="334.95" r="1.35"/><circle cx="143.98" cy="336.81" r="1.35"/><circle cx="145.21" cy="336.19" r="1.35"/><circle cx="145.83" cy="333.72" r="1.35"/><circle cx="146.45" cy="334.95" r="1.35"/><circle cx="147.07" cy="337.42" r="1.35"/><circle cx="147.69" cy="336.19" r="1.35"/><circle cx="148.30" cy="334.33" r="1.35"/><circle cx="148.92" cy="335.57" r="1.35"/><circle cx="149.54" cy="334.33" r="1.35"/><circle cx="146.45" cy="343.60" r="1.35"/><circle cx="148.06" cy="357.19" r="1.35"/><circle cx="116.80" cy="360.90" r="1.35"/><circle cx="116.18" cy="367.08" r="1.35"/><circle cx="116.18" cy="376.34" r="1.35"/><circle cx="117.41" cy="372.02" r="1.35"/><circle cx="118.65" cy="370.17" r="1.35"/><circle cx="119.88" cy="369.55" r="1.35"/><circle cx="125.44" cy="365.84" r="1.35"/><circle cx="126.06" cy="368.31" r="1.35"/><circle cx="129.15" cy="371.40" r="1.35"/><circle cx="135.33" cy="367.08" r="1.35"/><circle cx="136.57" cy="365.22" r="1.35"/><circle cx="137.80" cy="363.99" r="1.35"/><circle cx="139.04" cy="363.37" r="1.35"/></g>
<line x1="54.21" y1="386.85" x2="176.11" y2="317.04" stroke="#b82a3c" stroke-width="1.1"/>
<rect x="41.60" y="290.10" width="141.80" height="120.30" fill="none" stroke="#262626" stroke-width="1.15"/>
<path d="M55.78 410.40v-2.3M77.05 410.40v-2.3M98.32 410.40v-2.3M119.59 410.40v-2.3M140.86 410.40v-2.3M162.13 410.40v-2.3M183.40 410.40v-2.3M45.15 410.40v-1.3M66.42 410.40v-1.3M87.69 410.40v-1.3M108.96 410.40v-1.3M130.22 410.40v-1.3M151.49 410.40v-1.3M172.76 410.40v-1.3M41.60 391.41h2.3M41.60 366.08h2.3M41.60 340.75h2.3M41.60 315.43h2.3M41.60 290.10h2.3M41.60 404.07h1.3M41.60 378.74h1.3M41.60 353.42h1.3M41.60 328.09h1.3M41.60 302.76h1.3" stroke="#262626" stroke-width="0.9" fill="none"/>
<g font-size="7.2" font-weight="bold"><text x="55.78" y="419.80" text-anchor="middle">0.15</text><text x="77.05" y="419.80" text-anchor="middle">0.18</text><text x="98.32" y="419.80" text-anchor="middle">0.21</text><text x="119.59" y="419.80" text-anchor="middle">0.24</text><text x="140.86" y="419.80" text-anchor="middle">0.27</text><text x="162.13" y="419.80" text-anchor="middle">0.30</text><text x="183.40" y="419.80" text-anchor="middle">0.33</text><text x="39.00" y="394.79" text-anchor="end">0.28</text><text x="39.00" y="369.46" text-anchor="end">0.30</text><text x="39.00" y="344.14" text-anchor="end">0.32</text><text x="39.00" y="318.81" text-anchor="end">0.34</text><text x="39.00" y="293.48" text-anchor="end">0.36</text></g>
<g font-size="7.2" font-weight="bold"><text x="52.90" y="307.00">y=0.32x+0.24</text><text x="52.90" y="317.00">R<tspan font-size="4.32" dy="-2.52">2</tspan><tspan dy="2.52">=0.67</tspan></text></g>
<g fill="#000"><circle cx="220.82" cy="395.50" r="1.35"/><circle cx="220.57" cy="394.88" r="1.35"/><circle cx="220.44" cy="394.26" r="1.35"/><circle cx="220.32" cy="393.64" r="1.35"/><circle cx="220.20" cy="393.02" r="1.35"/><circle cx="220.20" cy="392.41" r="1.35"/><circle cx="220.20" cy="391.79" r="1.35"/><circle cx="220.20" cy="391.17" r="1.35"/><circle cx="220.32" cy="390.55" r="1.35"/><circle cx="220.32" cy="389.94" r="1.35"/><circle cx="220.44" cy="389.32" r="1.35"/><circle cx="220.57" cy="388.70" r="1.35"/><circle cx="220.69" cy="388.08" r="1.35"/><circle cx="220.82" cy="387.46" r="1.35"/><circle cx="220.82" cy="386.85" r="1.35"/><circle cx="220.94" cy="386.23" r="1.35"/><circle cx="221.06" cy="385.61" r="1.35"/><circle cx="221.19" cy="384.99" r="1.35"/><circle cx="221.43" cy="384.38" r="1.35"/><circle cx="221.56" cy="383.76" r="1.35"/><circle cx="221.80" cy="383.14" r="1.35"/><circle cx="222.05" cy="382.65" r="1.35"/><circle cx="222.30" cy="382.15" r="1.35"/><circle cx="222.55" cy="381.66" r="1.35"/><circle cx="222.92" cy="381.29" r="1.35"/><circle cx="223.29" cy="380.79" r="1.35"/><circle cx="223.53" cy="380.42" r="1.35"/><circle cx="223.90" cy="379.93" r="1.35"/><circle cx="224.15" cy="379.43" r="1.35"/><circle cx="224.52" cy="379.06" r="1.35"/><circle cx="224.77" cy="378.82" r="1.35"/><circle cx="225.14" cy="378.32" r="1.35"/><circle cx="225.39" cy="377.95" r="1.35"/><circle cx="225.76" cy="377.46" r="1.35"/><circle cx="226.00" cy="376.96" r="1.35"/><circle cx="226.38" cy="376.47" r="1.35"/><circle cx="226.62" cy="375.97" r="1.35"/><circle cx="226.99" cy="375.48" r="1.35"/><circle cx="227.24" cy="375.11" r="1.35"/><circle cx="227.61" cy="374.61" r="1.35"/><circle cx="227.86" cy="374.24" r="1.35"/><circle cx="228.23" cy="373.75" r="1.35"/><circle cx="228.48" cy="373.26" r="1.35"/><circle cx="228.85" cy="372.64" r="1.35"/><circle cx="229.09" cy="372.02" r="1.35"/><circle cx="229.46" cy="371.40" r="1.35"/><circle cx="229.71" cy="370.78" r="1.35"/><circle cx="230.08" cy="370.17" r="1.35"/><circle cx="230.33" cy="369.55" r="1.35"/><circle cx="230.70" cy="368.93" r="1.35"/><circle cx="230.95" cy="368.31" r="1.35"/><circle cx="231.32" cy="367.70" r="1.35"/><circle cx="231.57" cy="367.08" r="1.35"/><circle cx="232.18" cy="366.46" r="1.35"/><circle cx="224.77" cy="381.90" r="1.35"/><circle cx="225.39" cy="380.67" r="1.35"/><circle cx="226.00" cy="380.05" r="1.35"/><circle cx="226.62" cy="379.43" r="1.35"/><circle cx="227.24" cy="378.20" r="1.35"/><circle cx="227.86" cy="376.96" r="1.35"/><circle cx="229.46" cy="382.89" r="1.35"/><circle cx="228.48" cy="351.63" r="1.35"/><circle cx="230.95" cy="351.63" r="1.35"/><circle cx="229.71" cy="355.96" r="1.35"/><circle cx="229.71" cy="362.14" r="1.35"/><circle cx="231.57" cy="362.75" r="1.35"/><circle cx="234.04" cy="359.66" r="1.35"/><circle cx="235.27" cy="359.42" r="1.35"/><circle cx="236.51" cy="362.75" r="1.35"/><circle cx="235.89" cy="368.93" r="1.35"/><circle cx="238.36" cy="355.96" r="1.35"/><circle cx="239.60" cy="346.07" r="1.35"/><circle cx="240.21" cy="349.78" r="1.35"/><circle cx="240.83" cy="345.45" r="1.35"/><circle cx="241.45" cy="344.22" r="1.35"/><circle cx="242.07" cy="343.60" r="1.35"/><circle cx="240.83" cy="353.49" r="1.35"/><circle cx="241.45" cy="360.90" r="1.35"/><circle cx="242.69" cy="354.10" r="1.35"/><circle cx="243.30" cy="358.43" r="1.35"/><circle cx="243.92" cy="343.60" r="1.35"/><circle cx="239.60" cy="376.34" r="1.35"/><circle cx="244.54" cy="366.46" r="1.35"/><circle cx="245.16" cy="357.19" r="1.35"/><circle cx="245.77" cy="354.72" r="1.35"/><circle cx="246.39" cy="362.14" r="1.35"/><circle cx="246.39" cy="373.26" r="1.35"/><circle cx="247.01" cy="352.25" r="1.35"/><circle cx="248.25" cy="362.75" r="1.35"/><circle cx="248.86" cy="346.07" r="1.35"/><circle cx="248.86" cy="368.31" r="1.35"/><circle cx="249.48" cy="370.17" r="1.35"/><circle cx="250.72" cy="341.13" r="1.35"/><circle cx="251.33" cy="359.66" r="1.35"/><circle cx="251.95" cy="346.07" r="1.35"/><circle cx="252.57" cy="367.08" r="1.35"/><circle cx="253.19" cy="362.14" r="1.35"/><circle cx="253.81" cy="352.25" r="1.35"/><circle cx="254.42" cy="347.31" r="1.35"/><circle cx="255.04" cy="357.19" r="1.35"/><circle cx="255.66" cy="341.75" r="1.35"/><circle cx="255.66" cy="373.26" r="1.35"/><circle cx="256.28" cy="365.22" r="1.35"/><circle cx="256.89" cy="352.25" r="1.35"/><circle cx="257.51" cy="347.31" r="1.35"/><circle cx="258.13" cy="357.19" r="1.35"/><circle cx="258.75" cy="338.66" r="1.35"/><circle cx="259.37" cy="365.84" r="1.35"/><circle cx="259.98" cy="348.54" r="1.35"/><circle cx="261.22" cy="363.37" r="1.35"/><circle cx="261.84" cy="335.57" r="1.35"/><circle cx="262.45" cy="347.31" r="1.35"/><circle cx="263.07" cy="342.37" r="1.35"/><circle cx="263.69" cy="339.89" r="1.35"/><circle cx="264.31" cy="372.64" r="1.35"/><circle cx="264.93" cy="346.07" r="1.35"/><circle cx="265.54" cy="331.86" r="1.35"/><circle cx="265.54" cy="353.49" r="1.35"/><circle cx="266.16" cy="342.37" r="1.35"/><circle cx="266.78" cy="344.84" r="1.35"/><circle cx="267.40" cy="349.78" r="1.35"/><circle cx="268.01" cy="365.22" r="1.35"/><circle cx="268.63" cy="347.31" r="1.35"/><circle cx="269.25" cy="342.37" r="1.35"/><circle cx="269.25" cy="358.43" r="1.35"/><circle cx="269.87" cy="349.16" r="1.35"/><circle cx="270.49" cy="341.13" r="1.35"/><circle cx="271.10" cy="344.84" r="1.35"/><circle cx="271.72" cy="350.40" r="1.35"/><circle cx="272.34" cy="353.49" r="1.35"/><circle cx="272.71" cy="342.37" r="1.35"/><circle cx="272.96" cy="328.16" r="1.35"/><circle cx="273.57" cy="362.14" r="1.35"/><circle cx="274.19" cy="347.31" r="1.35"/><circle cx="274.81" cy="349.78" r="1.35"/><circle cx="275.43" cy="323.21" r="1.35"/><circle cx="275.43" cy="338.66" r="1.35"/><circle cx="276.05" cy="331.25" r="1.35"/><circle cx="276.66" cy="342.37" r="1.35"/><circle cx="277.28" cy="346.07" r="1.35"/><circle cx="277.90" cy="349.78" r="1.35"/><circle cx="278.52" cy="336.19" r="1.35"/><circle cx="279.14" cy="344.84" r="1.35"/><circle cx="279.75" cy="340.51" r="1.35"/><circle cx="287.97" cy="310.49" r="1.35"/><circle cx="291.06" cy="309.62" r="1.35"/><circle cx="291.68" cy="315.80" r="1.35"/><circle cx="282.41" cy="317.65" r="1.35"/><circle cx="287.36" cy="320.74" r="1.35"/><circle cx="287.97" cy="321.61" r="1.35"/><circle cx="296.62" cy="321.36" r="1.35"/><circle cx="297.24" cy="323.83" r="1.35"/><circle cx="284.88" cy="327.29" r="1.35"/><circle cx="289.83" cy="328.77" r="1.35"/><circle cx="291.06" cy="327.54" r="1.35"/><circle cx="292.30" cy="329.39" r="1.35"/><circle cx="293.53" cy="327.29" r="1.35"/><circle cx="294.77" cy="328.77" r="1.35"/><circle cx="296.00" cy="328.16" r="1.35"/><circle cx="296.62" cy="330.63" r="1.35"/><circle cx="297.86" cy="327.54" r="1.35"/><circle cx="297.24" cy="333.72" r="1.35"/><circle cx="301.57" cy="332.48" r="1.35"/><circle cx="304.65" cy="324.82" r="1.35"/><circle cx="307.13" cy="312.09" r="1.35"/><circle cx="313.92" cy="310.24" r="1.35"/><circle cx="314.54" cy="322.60" r="1.35"/><circle cx="318.86" cy="318.27" r="1.35"/><circle cx="321.33" cy="319.51" r="1.35"/><circle cx="321.95" cy="320.13" r="1.35"/><circle cx="323.19" cy="328.77" r="1.35"/><circle cx="310.83" cy="333.72" r="1.35"/><circle cx="331.84" cy="310.24" r="1.35"/><circle cx="280.56" cy="332.48" r="1.35"/><circle cx="281.18" cy="334.95" r="1.35"/><circle cx="281.80" cy="337.42" r="1.35"/><circle cx="282.41" cy="339.89" r="1.35"/><circle cx="283.03" cy="342.37" r="1.35"/><circle cx="281.18" cy="342.37" r="1.35"/><circle cx="282.41" cy="334.33" r="1.35"/><circle cx="283.65" cy="336.19" r="1.35"/><circle cx="284.27" cy="332.48" r="1.35"/><circle cx="284.88" cy="338.66" r="1.35"/><circle cx="286.12" cy="335.57" r="1.35"/><circle cx="286.74" cy="337.42" r="1.35"/><circle cx="287.36" cy="334.95" r="1.35"/><circle cx="287.97" cy="336.81" r="1.35"/><circle cx="290.44" cy="338.66" r="1.35"/><circle cx="291.06" cy="341.13" r="1.35"/><circle cx="292.30" cy="337.42" r="1.35"/><circle cx="293.53" cy="338.66" r="1.35"/><circle cx="296.00" cy="341.75" r="1.35"/><circle cx="299.09" cy="343.60" r="1.35"/><circle cx="303.42" cy="347.31" r="1.35"/><circle cx="304.04" cy="349.16" r="1.35"/><circle cx="293.53" cy="350.40" r="1.35"/><circle cx="287.36" cy="351.01" r="1.35"/><circle cx="286.74" cy="352.25" r="1.35"/><circle cx="286.12" cy="355.34" r="1.35"/><circle cx="284.88" cy="356.57" r="1.35"/><circle cx="284.27" cy="357.81" r="1.35"/><circle cx="287.36" cy="354.72" r="1.35"/><circle cx="281.18" cy="351.63" r="1.35"/><circle cx="280.56" cy="350.40" r="1.35"/><circle cx="282.41" cy="352.25" r="1.35"/></g>
<line x1="220.07" y1="376.72" x2="331.84" y2="310.24" stroke="#b82a3c" stroke-width="1.1"/>
<rect x="206.20" y="290.10" width="141.80" height="120.30" fill="none" stroke="#262626" stroke-width="1.15"/>
<path d="M229.09 410.40v-2.3M258.82 410.40v-2.3M288.55 410.40v-2.3M318.27 410.40v-2.3M348.00 410.40v-2.3M214.23 410.40v-1.3M243.95 410.40v-1.3M273.68 410.40v-1.3M303.41 410.40v-1.3M333.14 410.40v-1.3M206.20 401.15h2.3M206.20 382.64h2.3M206.20 364.13h2.3M206.20 345.62h2.3M206.20 327.12h2.3M206.20 308.61h2.3M206.20 290.10h2.3M206.20 391.89h1.3M206.20 373.38h1.3M206.20 354.88h1.3M206.20 336.37h1.3M206.20 317.86h1.3M206.20 299.35h1.3" stroke="#262626" stroke-width="0.9" fill="none"/>
<g font-size="7.2" font-weight="bold"><text x="229.09" y="419.80" text-anchor="middle">0.10</text><text x="258.82" y="419.80" text-anchor="middle">0.15</text><text x="288.55" y="419.80" text-anchor="middle">0.20</text><text x="318.27" y="419.80" text-anchor="middle">0.25</text><text x="348.00" y="419.80" text-anchor="middle">0.30</text><text x="203.60" y="404.53" text-anchor="end">0.24</text><text x="203.60" y="386.02" text-anchor="end">0.26</text><text x="203.60" y="367.51" text-anchor="end">0.28</text><text x="203.60" y="349.01" text-anchor="end">0.30</text><text x="203.60" y="330.50" text-anchor="end">0.32</text><text x="203.60" y="311.99" text-anchor="end">0.34</text><text x="203.60" y="293.48" text-anchor="end">0.36</text></g>
<g font-size="7.2" font-weight="bold"><text x="217.50" y="307.00">y=0.38x+0.23</text><text x="217.50" y="317.00">R<tspan font-size="4.32" dy="-2.52">2</tspan><tspan dy="2.52">=0.67</tspan></text></g>
<g fill="#000"><circle cx="388.78" cy="399.82" r="1.35"/><circle cx="388.66" cy="399.20" r="1.35"/><circle cx="388.53" cy="398.58" r="1.35"/><circle cx="388.53" cy="397.97" r="1.35"/><circle cx="388.53" cy="397.35" r="1.35"/><circle cx="388.66" cy="396.73" r="1.35"/><circle cx="388.78" cy="396.11" r="1.35"/><circle cx="388.90" cy="395.50" r="1.35"/><circle cx="389.15" cy="394.88" r="1.35"/><circle cx="389.28" cy="394.26" r="1.35"/><circle cx="389.52" cy="393.64" r="1.35"/><circle cx="389.77" cy="393.15" r="1.35"/><circle cx="390.02" cy="392.78" r="1.35"/><circle cx="390.26" cy="392.28" r="1.35"/><circle cx="390.51" cy="391.79" r="1.35"/><circle cx="390.76" cy="391.29" r="1.35"/><circle cx="391.00" cy="390.80" r="1.35"/><circle cx="391.25" cy="390.31" r="1.35"/><circle cx="391.62" cy="389.94" r="1.35"/><circle cx="391.99" cy="389.57" r="1.35"/><circle cx="392.24" cy="389.32" r="1.35"/><circle cx="392.61" cy="388.95" r="1.35"/><circle cx="392.86" cy="388.70" r="1.35"/><circle cx="393.23" cy="388.45" r="1.35"/><circle cx="393.48" cy="388.33" r="1.35"/><circle cx="393.85" cy="388.08" r="1.35"/><circle cx="394.09" cy="387.84" r="1.35"/><circle cx="394.46" cy="387.59" r="1.35"/><circle cx="394.71" cy="387.46" r="1.35"/><circle cx="395.33" cy="387.71" r="1.35"/><circle cx="395.95" cy="388.08" r="1.35"/><circle cx="396.57" cy="388.33" r="1.35"/><circle cx="397.18" cy="388.70" r="1.35"/><circle cx="397.80" cy="388.21" r="1.35"/><circle cx="398.42" cy="387.84" r="1.35"/><circle cx="397.80" cy="399.20" r="1.35"/><circle cx="399.04" cy="385.61" r="1.35"/><circle cx="399.65" cy="384.38" r="1.35"/><circle cx="400.27" cy="384.00" r="1.35"/><circle cx="400.89" cy="383.76" r="1.35"/><circle cx="401.51" cy="383.26" r="1.35"/><circle cx="402.13" cy="382.89" r="1.35"/><circle cx="403.11" cy="383.14" r="1.35"/><circle cx="403.98" cy="383.76" r="1.35"/><circle cx="404.60" cy="381.90" r="1.35"/><circle cx="405.21" cy="380.42" r="1.35"/><circle cx="405.83" cy="378.82" r="1.35"/><circle cx="406.45" cy="378.44" r="1.35"/><circle cx="407.07" cy="378.20" r="1.35"/><circle cx="407.69" cy="377.83" r="1.35"/><circle cx="408.30" cy="377.58" r="1.35"/><circle cx="408.92" cy="377.21" r="1.35"/><circle cx="409.54" cy="376.96" r="1.35"/><circle cx="410.16" cy="376.84" r="1.35"/><circle cx="410.77" cy="376.71" r="1.35"/><circle cx="411.39" cy="379.43" r="1.35"/><circle cx="412.01" cy="375.73" r="1.35"/><circle cx="412.63" cy="375.36" r="1.35"/><circle cx="413.25" cy="375.11" r="1.35"/><circle cx="413.86" cy="374.74" r="1.35"/><circle cx="414.48" cy="374.49" r="1.35"/><circle cx="415.10" cy="374.12" r="1.35"/><circle cx="415.72" cy="373.87" r="1.35"/><circle cx="416.33" cy="373.38" r="1.35"/><circle cx="416.95" cy="373.01" r="1.35"/><circle cx="417.57" cy="372.51" r="1.35"/><circle cx="418.19" cy="372.02" r="1.35"/><circle cx="418.81" cy="371.53" r="1.35"/><circle cx="419.42" cy="371.03" r="1.35"/><circle cx="420.04" cy="370.29" r="1.35"/><circle cx="420.66" cy="369.55" r="1.35"/><circle cx="421.28" cy="368.93" r="1.35"/><circle cx="421.89" cy="368.31" r="1.35"/><circle cx="422.51" cy="367.70" r="1.35"/><circle cx="423.13" cy="367.08" r="1.35"/><circle cx="423.75" cy="366.46" r="1.35"/><circle cx="424.37" cy="365.84" r="1.35"/><circle cx="411.39" cy="362.14" r="1.35"/><circle cx="412.63" cy="362.75" r="1.35"/><circle cx="413.25" cy="363.37" r="1.35"/><circle cx="415.96" cy="365.84" r="1.35"/><circle cx="416.95" cy="356.57" r="1.35"/><circle cx="418.81" cy="358.43" r="1.35"/><circle cx="420.04" cy="359.66" r="1.35"/><circle cx="420.41" cy="352.25" r="1.35"/><circle cx="421.28" cy="354.72" r="1.35"/><circle cx="421.89" cy="346.07" r="1.35"/><circle cx="422.51" cy="362.14" r="1.35"/><circle cx="423.13" cy="348.54" r="1.35"/><circle cx="424.12" cy="349.78" r="1.35"/><circle cx="424.37" cy="355.96" r="1.35"/><circle cx="425.35" cy="346.07" r="1.35"/><circle cx="426.22" cy="354.72" r="1.35"/><circle cx="426.84" cy="342.37" r="1.35"/><circle cx="427.45" cy="362.14" r="1.35"/><circle cx="428.07" cy="344.84" r="1.35"/><circle cx="428.69" cy="359.66" r="1.35"/><circle cx="429.31" cy="357.19" r="1.35"/><circle cx="429.93" cy="354.72" r="1.35"/><circle cx="430.54" cy="346.07" r="1.35"/><circle cx="431.16" cy="362.14" r="1.35"/><circle cx="431.78" cy="363.37" r="1.35"/><circle cx="432.40" cy="343.60" r="1.35"/><circle cx="433.01" cy="348.54" r="1.35"/><circle cx="433.63" cy="353.49" r="1.35"/><circle cx="434.25" cy="333.72" r="1.35"/><circle cx="434.87" cy="368.31" r="1.35"/><circle cx="435.49" cy="339.89" r="1.35"/><circle cx="436.10" cy="360.90" r="1.35"/><circle cx="436.72" cy="344.84" r="1.35"/><circle cx="437.34" cy="355.34" r="1.35"/><circle cx="437.71" cy="363.37" r="1.35"/><circle cx="437.96" cy="352.25" r="1.35"/><circle cx="438.57" cy="346.07" r="1.35"/><circle cx="439.19" cy="357.19" r="1.35"/><circle cx="439.81" cy="360.90" r="1.35"/><circle cx="440.43" cy="349.78" r="1.35"/><circle cx="441.05" cy="347.31" r="1.35"/><circle cx="441.66" cy="362.14" r="1.35"/><circle cx="442.28" cy="354.72" r="1.35"/><circle cx="442.90" cy="348.54" r="1.35"/><circle cx="443.52" cy="336.81" r="1.35"/><circle cx="444.14" cy="359.66" r="1.35"/><circle cx="444.75" cy="364.61" r="1.35"/><circle cx="426.84" cy="379.43" r="1.35"/><circle cx="430.54" cy="378.82" r="1.35"/><circle cx="435.49" cy="379.19" r="1.35"/><circle cx="439.81" cy="376.96" r="1.35"/><circle cx="441.05" cy="374.49" r="1.35"/><circle cx="442.90" cy="375.11" r="1.35"/><circle cx="444.14" cy="373.26" r="1.35"/><circle cx="468.17" cy="310.86" r="1.35"/><circle cx="471.88" cy="313.33" r="1.35"/><circle cx="488.81" cy="314.19" r="1.35"/><circle cx="456.68" cy="318.27" r="1.35"/><circle cx="466.57" cy="318.27" r="1.35"/><circle cx="487.57" cy="320.74" r="1.35"/><circle cx="499.06" cy="320.74" r="1.35"/><circle cx="506.10" cy="321.98" r="1.35"/><circle cx="454.83" cy="325.07" r="1.35"/><circle cx="461.62" cy="323.83" r="1.35"/><circle cx="471.51" cy="326.30" r="1.35"/><circle cx="475.83" cy="328.16" r="1.35"/><circle cx="491.89" cy="328.16" r="1.35"/><circle cx="501.53" cy="326.30" r="1.35"/><circle cx="508.95" cy="330.63" r="1.35"/><circle cx="447.41" cy="333.72" r="1.35"/><circle cx="443.95" cy="337.18" r="1.35"/><circle cx="452.97" cy="331.25" r="1.35"/><circle cx="454.21" cy="332.48" r="1.35"/><circle cx="455.44" cy="333.72" r="1.35"/><circle cx="456.06" cy="334.95" r="1.35"/><circle cx="457.30" cy="337.42" r="1.35"/><circle cx="458.53" cy="336.19" r="1.35"/><circle cx="459.15" cy="338.66" r="1.35"/><circle cx="459.77" cy="333.10" r="1.35"/><circle cx="461.00" cy="334.95" r="1.35"/><circle cx="461.62" cy="337.42" r="1.35"/><circle cx="462.24" cy="339.89" r="1.35"/><circle cx="462.86" cy="332.48" r="1.35"/><circle cx="463.48" cy="334.33" r="1.35"/><circle cx="464.09" cy="331.86" r="1.35"/><circle cx="464.71" cy="334.95" r="1.35"/><circle cx="465.33" cy="331.25" r="1.35"/><circle cx="465.95" cy="333.72" r="1.35"/><circle cx="466.57" cy="331.86" r="1.35"/><circle cx="467.18" cy="333.10" r="1.35"/><circle cx="468.42" cy="331.86" r="1.35"/><circle cx="469.41" cy="334.95" r="1.35"/><circle cx="469.65" cy="339.89" r="1.35"/><circle cx="470.89" cy="338.66" r="1.35"/><circle cx="471.51" cy="342.37" r="1.35"/><circle cx="472.13" cy="339.89" r="1.35"/><circle cx="472.74" cy="341.75" r="1.35"/><circle cx="473.36" cy="343.60" r="1.35"/><circle cx="474.60" cy="339.89" r="1.35"/><circle cx="475.21" cy="342.37" r="1.35"/><circle cx="475.83" cy="344.22" r="1.35"/><circle cx="476.45" cy="341.13" r="1.35"/><circle cx="477.07" cy="336.81" r="1.35"/><circle cx="478.30" cy="335.57" r="1.35"/><circle cx="480.77" cy="336.19" r="1.35"/><circle cx="482.63" cy="342.37" r="1.35"/><circle cx="483.86" cy="339.28" r="1.35"/><circle cx="486.95" cy="340.51" r="1.35"/><circle cx="487.57" cy="334.95" r="1.35"/><circle cx="490.66" cy="331.86" r="1.35"/><circle cx="494.98" cy="336.19" r="1.35"/><circle cx="496.22" cy="335.57" r="1.35"/><circle cx="497.45" cy="334.95" r="1.35"/><circle cx="444.94" cy="344.84" r="1.35"/><circle cx="446.18" cy="346.07" r="1.35"/><circle cx="447.41" cy="349.78" r="1.35"/><circle cx="448.03" cy="352.25" r="1.35"/><circle cx="448.65" cy="355.34" r="1.35"/><circle cx="449.88" cy="356.57" r="1.35"/><circle cx="450.50" cy="359.05" r="1.35"/><circle cx="451.12" cy="354.72" r="1.35"/><circle cx="451.74" cy="350.40" r="1.35"/><circle cx="452.36" cy="355.96" r="1.35"/><circle cx="453.59" cy="355.34" r="1.35"/><circle cx="454.83" cy="354.72" r="1.35"/><circle cx="456.06" cy="354.10" r="1.35"/><circle cx="457.30" cy="353.49" r="1.35"/><circle cx="458.53" cy="351.01" r="1.35"/><circle cx="459.15" cy="348.54" r="1.35"/><circle cx="459.77" cy="352.25" r="1.35"/><circle cx="461.00" cy="348.54" r="1.35"/><circle cx="461.62" cy="346.07" r="1.35"/><circle cx="462.24" cy="349.78" r="1.35"/><circle cx="462.86" cy="344.84" r="1.35"/><circle cx="463.48" cy="347.31" r="1.35"/><circle cx="464.09" cy="346.07" r="1.35"/><circle cx="464.71" cy="344.84" r="1.35"/><circle cx="465.33" cy="348.54" r="1.35"/><circle cx="465.95" cy="347.31" r="1.35"/><circle cx="466.57" cy="346.07" r="1.35"/><circle cx="467.18" cy="348.54" r="1.35"/><circle cx="467.80" cy="344.84" r="1.35"/><circle cx="468.42" cy="346.69" r="1.35"/><circle cx="469.04" cy="346.07" r="1.35"/><circle cx="469.65" cy="352.25" r="1.35"/><circle cx="466.57" cy="356.57" r="1.35"/><circle cx="468.42" cy="361.52" r="1.35"/><circle cx="472.13" cy="362.14" r="1.35"/><circle cx="468.17" cy="366.46" r="1.35"/><circle cx="459.15" cy="365.59" r="1.35"/><circle cx="461.62" cy="368.93" r="1.35"/><circle cx="452.36" cy="369.55" r="1.35"/><circle cx="452.97" cy="370.78" r="1.35"/><circle cx="449.27" cy="370.17" r="1.35"/><circle cx="447.41" cy="373.26" r="1.35"/><circle cx="446.18" cy="375.73" r="1.35"/><circle cx="445.56" cy="372.64" r="1.35"/><circle cx="480.16" cy="351.63" r="1.35"/><circle cx="444.94" cy="362.14" r="1.35"/><circle cx="444.32" cy="360.90" r="1.35"/></g>
<line x1="388.53" y1="386.85" x2="509.20" y2="317.90" stroke="#b82a3c" stroke-width="1.1"/>
<rect x="370.60" y="290.10" width="141.80" height="120.30" fill="none" stroke="#262626" stroke-width="1.15"/>
<path d="M379.46 410.40v-2.3M406.05 410.40v-2.3M432.64 410.40v-2.3M459.23 410.40v-2.3M485.81 410.40v-2.3M512.40 410.40v-2.3M392.76 410.40v-1.3M419.34 410.40v-1.3M445.93 410.40v-1.3M472.52 410.40v-1.3M499.11 410.40v-1.3M370.60 399.46h2.3M370.60 377.59h2.3M370.60 355.72h2.3M370.60 333.85h2.3M370.60 311.97h2.3M370.60 290.10h2.3M370.60 388.53h1.3M370.60 366.65h1.3M370.60 344.78h1.3M370.60 322.91h1.3M370.60 301.04h1.3" stroke="#262626" stroke-width="0.9" fill="none"/>
<g font-size="7.2" font-weight="bold"><text x="379.46" y="419.80" text-anchor="middle">0.18</text><text x="406.05" y="419.80" text-anchor="middle">0.21</text><text x="432.64" y="419.80" text-anchor="middle">0.24</text><text x="459.23" y="419.80" text-anchor="middle">0.27</text><text x="485.81" y="419.80" text-anchor="middle">0.30</text><text x="512.40" y="419.80" text-anchor="middle">0.33</text><text x="368.00" y="402.85" text-anchor="end">0.24</text><text x="368.00" y="380.97" text-anchor="end">0.26</text><text x="368.00" y="359.10" text-anchor="end">0.28</text><text x="368.00" y="337.23" text-anchor="end">0.30</text><text x="368.00" y="315.36" text-anchor="end">0.32</text><text x="368.00" y="293.48" text-anchor="end">0.34</text></g>
<g font-size="7.2" font-weight="bold"><text x="381.90" y="307.00">y=0.46x+0.16</text><text x="381.90" y="317.00">R<tspan font-size="4.32" dy="-2.52">2</tspan><tspan dy="2.52">=0.66</tspan></text></g>
<g fill="#000"><circle cx="547.36" cy="398.58" r="1.35"/><circle cx="547.23" cy="397.97" r="1.35"/><circle cx="547.11" cy="397.35" r="1.35"/><circle cx="547.23" cy="396.73" r="1.35"/><circle cx="547.36" cy="396.11" r="1.35"/><circle cx="547.48" cy="395.50" r="1.35"/><circle cx="547.73" cy="394.88" r="1.35"/><circle cx="547.97" cy="394.26" r="1.35"/><circle cx="548.22" cy="393.64" r="1.35"/><circle cx="548.59" cy="393.02" r="1.35"/><circle cx="548.84" cy="392.41" r="1.35"/><circle cx="549.21" cy="391.79" r="1.35"/><circle cx="549.58" cy="391.17" r="1.35"/><circle cx="549.95" cy="390.55" r="1.35"/><circle cx="550.44" cy="389.94" r="1.35"/><circle cx="550.82" cy="389.32" r="1.35"/><circle cx="551.31" cy="388.70" r="1.35"/><circle cx="551.80" cy="388.21" r="1.35"/><circle cx="552.30" cy="387.84" r="1.35"/><circle cx="552.92" cy="387.59" r="1.35"/><circle cx="553.53" cy="387.46" r="1.35"/><circle cx="554.15" cy="387.59" r="1.35"/><circle cx="554.77" cy="387.84" r="1.35"/><circle cx="555.39" cy="387.71" r="1.35"/><circle cx="556.00" cy="387.46" r="1.35"/><circle cx="556.62" cy="386.97" r="1.35"/><circle cx="557.24" cy="386.60" r="1.35"/><circle cx="557.73" cy="386.35" r="1.35"/><circle cx="558.23" cy="386.23" r="1.35"/><circle cx="557.24" cy="383.14" r="1.35"/><circle cx="557.86" cy="382.52" r="1.35"/><circle cx="558.48" cy="381.90" r="1.35"/><circle cx="559.09" cy="381.29" r="1.35"/><circle cx="559.71" cy="380.67" r="1.35"/><circle cx="560.33" cy="380.17" r="1.35"/><circle cx="560.95" cy="379.68" r="1.35"/><circle cx="561.57" cy="379.19" r="1.35"/><circle cx="562.18" cy="378.82" r="1.35"/><circle cx="562.80" cy="378.32" r="1.35"/><circle cx="563.42" cy="377.95" r="1.35"/><circle cx="564.04" cy="377.33" r="1.35"/><circle cx="564.65" cy="376.71" r="1.35"/><circle cx="565.27" cy="375.11" r="1.35"/><circle cx="565.89" cy="373.87" r="1.35"/><circle cx="566.38" cy="373.26" r="1.35"/><circle cx="566.88" cy="372.64" r="1.35"/><circle cx="567.37" cy="372.14" r="1.35"/><circle cx="567.74" cy="371.77" r="1.35"/><circle cx="568.11" cy="371.15" r="1.35"/><circle cx="568.61" cy="370.54" r="1.35"/><circle cx="569.10" cy="370.04" r="1.35"/><circle cx="569.60" cy="369.55" r="1.35"/><circle cx="570.09" cy="368.93" r="1.35"/><circle cx="570.58" cy="368.31" r="1.35"/><circle cx="571.08" cy="367.82" r="1.35"/><circle cx="571.45" cy="367.32" r="1.35"/><circle cx="572.07" cy="366.83" r="1.35"/><circle cx="572.69" cy="366.46" r="1.35"/><circle cx="573.30" cy="365.97" r="1.35"/><circle cx="573.92" cy="365.59" r="1.35"/><circle cx="575.16" cy="367.08" r="1.35"/><circle cx="576.39" cy="366.83" r="1.35"/><circle cx="577.63" cy="365.84" r="1.35"/><circle cx="578.86" cy="363.99" r="1.35"/><circle cx="580.10" cy="362.75" r="1.35"/><circle cx="549.58" cy="383.39" r="1.35"/><circle cx="572.07" cy="360.90" r="1.35"/><circle cx="573.30" cy="357.19" r="1.35"/><circle cx="573.92" cy="355.34" r="1.35"/><circle cx="574.54" cy="346.69" r="1.35"/><circle cx="575.16" cy="359.66" r="1.35"/><circle cx="575.77" cy="362.14" r="1.35"/><circle cx="577.01" cy="353.49" r="1.35"/><circle cx="577.63" cy="357.19" r="1.35"/><circle cx="578.86" cy="359.05" r="1.35"/><circle cx="579.23" cy="332.48" r="1.35"/><circle cx="580.10" cy="344.84" r="1.35"/><circle cx="580.72" cy="349.78" r="1.35"/><circle cx="581.33" cy="347.31" r="1.35"/><circle cx="581.95" cy="330.01" r="1.35"/><circle cx="582.57" cy="328.77" r="1.35"/><circle cx="583.19" cy="350.40" r="1.35"/><circle cx="583.81" cy="342.98" r="1.35"/><circle cx="584.42" cy="357.19" r="1.35"/><circle cx="584.42" cy="346.69" r="1.35"/><circle cx="585.04" cy="339.89" r="1.35"/><circle cx="585.66" cy="360.90" r="1.35"/><circle cx="586.28" cy="342.37" r="1.35"/><circle cx="586.89" cy="346.07" r="1.35"/><circle cx="587.51" cy="351.01" r="1.35"/><circle cx="588.13" cy="348.54" r="1.35"/><circle cx="588.75" cy="338.04" r="1.35"/><circle cx="589.37" cy="359.66" r="1.35"/><circle cx="589.37" cy="330.01" r="1.35"/><circle cx="589.98" cy="376.34" r="1.35"/><circle cx="591.22" cy="315.80" r="1.35"/><circle cx="592.45" cy="331.25" r="1.35"/><circle cx="592.45" cy="334.95" r="1.35"/><circle cx="593.07" cy="339.28" r="1.35"/><circle cx="593.07" cy="344.84" r="1.35"/><circle cx="593.69" cy="352.25" r="1.35"/><circle cx="594.06" cy="375.11" r="1.35"/><circle cx="594.31" cy="330.01" r="1.35"/><circle cx="594.93" cy="359.05" r="1.35"/><circle cx="595.54" cy="348.54" r="1.35"/><circle cx="596.16" cy="344.22" r="1.35"/><circle cx="596.78" cy="359.66" r="1.35"/><circle cx="597.40" cy="343.60" r="1.35"/><circle cx="598.01" cy="344.22" r="1.35"/><circle cx="598.63" cy="373.26" r="1.35"/><circle cx="599.00" cy="332.48" r="1.35"/><circle cx="599.25" cy="353.49" r="1.35"/><circle cx="599.87" cy="356.57" r="1.35"/><circle cx="600.49" cy="355.34" r="1.35"/><circle cx="601.72" cy="365.22" r="1.35"/><circle cx="602.34" cy="334.95" r="1.35"/><circle cx="602.71" cy="372.02" r="1.35"/><circle cx="602.96" cy="342.37" r="1.35"/><circle cx="603.57" cy="352.87" r="1.35"/><circle cx="603.57" cy="328.77" r="1.35"/><circle cx="604.19" cy="358.43" r="1.35"/><circle cx="604.81" cy="369.55" r="1.35"/><circle cx="605.43" cy="346.69" r="1.35"/><circle cx="606.05" cy="328.16" r="1.35"/><circle cx="606.05" cy="311.48" r="1.35"/><circle cx="606.42" cy="367.08" r="1.35"/><circle cx="606.66" cy="351.01" r="1.35"/><circle cx="607.28" cy="362.14" r="1.35"/><circle cx="607.90" cy="343.60" r="1.35"/><circle cx="608.52" cy="354.72" r="1.35"/><circle cx="609.14" cy="318.89" r="1.35"/><circle cx="609.14" cy="370.78" r="1.35"/><circle cx="609.75" cy="341.13" r="1.35"/><circle cx="649.73" cy="292.94" r="1.35"/><circle cx="657.51" cy="300.11" r="1.35"/><circle cx="658.13" cy="305.30" r="1.35"/><circle cx="659.37" cy="304.06" r="1.35"/><circle cx="666.78" cy="307.15" r="1.35"/><circle cx="675.43" cy="311.48" r="1.35"/><circle cx="661.22" cy="311.48" r="1.35"/><circle cx="645.77" cy="313.95" r="1.35"/><circle cx="636.51" cy="311.23" r="1.35"/><circle cx="619.21" cy="309.99" r="1.35"/><circle cx="621.06" cy="312.71" r="1.35"/><circle cx="626.00" cy="315.80" r="1.35"/><circle cx="625.39" cy="321.36" r="1.35"/><circle cx="631.57" cy="319.88" r="1.35"/><circle cx="635.64" cy="324.45" r="1.35"/><circle cx="636.51" cy="325.07" r="1.35"/><circle cx="629.09" cy="326.92" r="1.35"/><circle cx="632.18" cy="330.01" r="1.35"/><circle cx="610.56" cy="318.27" r="1.35"/><circle cx="613.65" cy="319.51" r="1.35"/><circle cx="614.27" cy="320.74" r="1.35"/><circle cx="614.88" cy="322.60" r="1.35"/><circle cx="616.12" cy="323.83" r="1.35"/><circle cx="616.74" cy="330.01" r="1.35"/><circle cx="617.36" cy="331.25" r="1.35"/><circle cx="618.59" cy="326.30" r="1.35"/><circle cx="619.83" cy="325.69" r="1.35"/><circle cx="609.32" cy="323.83" r="1.35"/><circle cx="612.41" cy="334.95" r="1.35"/><circle cx="613.03" cy="337.42" r="1.35"/><circle cx="615.50" cy="334.33" r="1.35"/><circle cx="661.22" cy="321.36" r="1.35"/><circle cx="666.16" cy="319.88" r="1.35"/><circle cx="671.10" cy="319.88" r="1.35"/><circle cx="656.89" cy="326.92" r="1.35"/><circle cx="661.22" cy="327.29" r="1.35"/><circle cx="648.86" cy="324.45" r="1.35"/><circle cx="649.48" cy="326.92" r="1.35"/><circle cx="648.86" cy="331.25" r="1.35"/><circle cx="655.04" cy="331.25" r="1.35"/><circle cx="647.63" cy="334.33" r="1.35"/><circle cx="645.77" cy="336.81" r="1.35"/><circle cx="640.83" cy="330.63" r="1.35"/><circle cx="639.60" cy="332.48" r="1.35"/><circle cx="638.36" cy="336.81" r="1.35"/><circle cx="640.21" cy="336.81" r="1.35"/><circle cx="635.27" cy="332.48" r="1.35"/><circle cx="634.65" cy="334.95" r="1.35"/><circle cx="633.42" cy="338.04" r="1.35"/><circle cx="632.18" cy="338.66" r="1.35"/><circle cx="630.95" cy="339.89" r="1.35"/><circle cx="629.71" cy="336.81" r="1.35"/><circle cx="628.48" cy="334.95" r="1.35"/><circle cx="627.24" cy="338.66" r="1.35"/><circle cx="626.62" cy="341.13" r="1.35"/><circle cx="626.00" cy="342.98" r="1.35"/><circle cx="625.39" cy="344.84" r="1.35"/><circle cx="624.77" cy="346.69" r="1.35"/><circle cx="623.53" cy="348.54" r="1.35"/><circle cx="622.30" cy="346.07" r="1.35"/><circle cx="621.68" cy="349.78" r="1.35"/><circle cx="621.06" cy="352.25" r="1.35"/><circle cx="618.59" cy="351.01" r="1.35"/><circle cx="616.12" cy="343.60" r="1.35"/><circle cx="614.88" cy="342.37" r="1.35"/><circle cx="613.65" cy="346.07" r="1.35"/><circle cx="612.41" cy="347.31" r="1.35"/><circle cx="611.18" cy="348.54" r="1.35"/><circle cx="610.56" cy="352.25" r="1.35"/><circle cx="609.94" cy="353.49" r="1.35"/><circle cx="613.65" cy="351.01" r="1.35"/><circle cx="627.86" cy="351.01" r="1.35"/><circle cx="639.60" cy="351.01" r="1.35"/><circle cx="621.68" cy="356.57" r="1.35"/><circle cx="617.36" cy="360.90" r="1.35"/><circle cx="620.44" cy="363.37" r="1.35"/><circle cx="628.48" cy="360.90" r="1.35"/><circle cx="635.27" cy="358.18" r="1.35"/><circle cx="612.41" cy="365.22" r="1.35"/><circle cx="613.03" cy="365.84" r="1.35"/><circle cx="612.41" cy="369.55" r="1.35"/><circle cx="610.56" cy="353.49" r="1.35"/></g>
<line x1="547.36" y1="380.67" x2="675.18" y2="308.02" stroke="#b82a3c" stroke-width="1.1"/>
<rect x="535.30" y="290.10" width="142.10" height="120.30" fill="none" stroke="#262626" stroke-width="1.15"/>
<path d="M540.98 410.40v-2.3M563.72 410.40v-2.3M586.46 410.40v-2.3M609.19 410.40v-2.3M631.93 410.40v-2.3M654.66 410.40v-2.3M677.40 410.40v-2.3M552.35 410.40v-1.3M575.09 410.40v-1.3M597.82 410.40v-1.3M620.56 410.40v-1.3M643.30 410.40v-1.3M666.03 410.40v-1.3M535.30 403.32h2.3M535.30 375.02h2.3M535.30 346.71h2.3M535.30 318.41h2.3M535.30 290.10h2.3M535.30 389.17h1.3M535.30 360.86h1.3M535.30 332.56h1.3M535.30 304.25h1.3" stroke="#262626" stroke-width="0.9" fill="none"/>
<g font-size="7.2" font-weight="bold"><text x="540.98" y="419.80" text-anchor="middle">0.20</text><text x="563.72" y="419.80" text-anchor="middle">0.22</text><text x="586.46" y="419.80" text-anchor="middle">0.24</text><text x="609.19" y="419.80" text-anchor="middle">0.26</text><text x="631.93" y="419.80" text-anchor="middle">0.28</text><text x="654.66" y="419.80" text-anchor="middle">0.30</text><text x="677.40" y="419.80" text-anchor="middle">0.32</text><text x="532.70" y="406.71" text-anchor="end">0.20</text><text x="532.70" y="378.40" text-anchor="end">0.22</text><text x="532.70" y="350.10" text-anchor="end">0.24</text><text x="532.70" y="321.79" text-anchor="end">0.26</text><text x="532.70" y="293.48" text-anchor="end">0.28</text></g>
<g font-size="7.2" font-weight="bold"><text x="546.60" y="307.00">y=0.46x+0.12</text><text x="546.60" y="317.00">R<tspan font-size="4.32" dy="-2.52">2</tspan><tspan dy="2.52">=0.62</tspan></text></g>
<g fill="#000"><circle cx="137.26" cy="564.98" r="1.35"/><circle cx="139.74" cy="553.31" r="1.35"/><circle cx="141.73" cy="559.02" r="1.35"/><circle cx="142.97" cy="547.11" r="1.35"/><circle cx="144.71" cy="557.53" r="1.35"/><circle cx="147.19" cy="539.91" r="1.35"/><circle cx="155.38" cy="525.02" r="1.35"/><circle cx="157.36" cy="530.73" r="1.35"/><circle cx="157.86" cy="535.20" r="1.35"/><circle cx="171.51" cy="532.47" r="1.35"/><circle cx="174.99" cy="526.51" r="1.35"/><circle cx="175.23" cy="529.49" r="1.35"/><circle cx="178.21" cy="527.75" r="1.35"/><circle cx="193.85" cy="526.51" r="1.35"/><circle cx="196.33" cy="523.53" r="1.35"/><circle cx="203.53" cy="520.55" r="1.35"/><circle cx="205.51" cy="523.53" r="1.35"/><circle cx="212.46" cy="520.55" r="1.35"/><circle cx="213.20" cy="523.53" r="1.35"/><circle cx="215.44" cy="519.07" r="1.35"/><circle cx="219.16" cy="512.86" r="1.35"/><circle cx="219.16" cy="516.09" r="1.35"/><circle cx="224.87" cy="514.60" r="1.35"/><circle cx="230.82" cy="511.62" r="1.35"/><circle cx="240.50" cy="493.75" r="1.35"/><circle cx="257.63" cy="495.24" r="1.35"/><circle cx="266.56" cy="496.73" r="1.35"/></g>
<line x1="136.77" y1="550.09" x2="266.81" y2="492.76" stroke="#b82a3c" stroke-width="1.1"/>
<rect x="125.50" y="466.20" width="144.10" height="118.10" fill="none" stroke="#262626" stroke-width="1.15"/>
<path d="M135.11 584.30v-2.3M154.32 584.30v-2.3M173.53 584.30v-2.3M192.75 584.30v-2.3M211.96 584.30v-2.3M231.17 584.30v-2.3M250.39 584.30v-2.3M269.60 584.30v-2.3M144.71 584.30v-1.3M163.93 584.30v-1.3M183.14 584.30v-1.3M202.35 584.30v-1.3M221.57 584.30v-1.3M240.78 584.30v-1.3M259.99 584.30v-1.3M125.50 584.30h2.3M125.50 554.77h2.3M125.50 525.25h2.3M125.50 495.72h2.3M125.50 466.20h2.3M125.50 569.54h1.3M125.50 540.01h1.3M125.50 510.49h1.3M125.50 480.96h1.3" stroke="#262626" stroke-width="0.9" fill="none"/>
<clipPath id="c1"><rect x="259.60" y="584.30" width="12.80" height="14"/></clipPath><g font-size="6.5" font-weight="bold"><text x="135.11" y="592.90" text-anchor="middle">0.10</text><text x="154.32" y="592.90" text-anchor="middle">0.12</text><text x="173.53" y="592.90" text-anchor="middle">0.14</text><text x="192.75" y="592.90" text-anchor="middle">0.16</text><text x="211.96" y="592.90" text-anchor="middle">0.18</text><text x="231.17" y="592.90" text-anchor="middle">0.20</text><text x="250.39" y="592.90" text-anchor="middle">0.22</text><text x="269.60" y="592.90" text-anchor="middle" clip-path="url(#c1)">0.24</text><text x="122.90" y="586.44" text-anchor="end">0.28</text><text x="122.90" y="556.92" text-anchor="end">0.30</text><text x="122.90" y="527.39" text-anchor="end">0.32</text><text x="122.90" y="497.87" text-anchor="end">0.34</text><text x="122.90" y="468.34" text-anchor="end">0.36</text></g>
<g font-size="6.5" font-weight="bold"><text x="136.80" y="481.70">y=0.29x+0.27</text><text x="136.80" y="489.90">R<tspan font-size="3.90" dy="-2.27">2</tspan><tspan dy="2.27">=0.85</tspan></text></g>
<g fill="#000"><circle cx="299.25" cy="571.68" r="1.35"/><circle cx="303.47" cy="564.48" r="1.35"/><circle cx="303.72" cy="557.28" r="1.35"/><circle cx="307.19" cy="552.57" r="1.35"/><circle cx="312.15" cy="545.62" r="1.35"/><circle cx="317.61" cy="540.66" r="1.35"/><circle cx="321.34" cy="540.66" r="1.35"/><circle cx="321.58" cy="545.87" r="1.35"/><circle cx="328.04" cy="547.85" r="1.35"/><circle cx="331.26" cy="526.51" r="1.35"/><circle cx="332.75" cy="538.42" r="1.35"/><circle cx="335.48" cy="535.94" r="1.35"/><circle cx="338.46" cy="543.14" r="1.35"/><circle cx="348.88" cy="533.46" r="1.35"/><circle cx="350.87" cy="533.71" r="1.35"/><circle cx="356.82" cy="528.99" r="1.35"/><circle cx="362.78" cy="538.42" r="1.35"/><circle cx="366.75" cy="524.03" r="1.35"/><circle cx="367.74" cy="528.99" r="1.35"/><circle cx="370.47" cy="533.46" r="1.35"/><circle cx="371.22" cy="521.80" r="1.35"/><circle cx="376.68" cy="517.08" r="1.35"/><circle cx="379.66" cy="507.65" r="1.35"/><circle cx="390.33" cy="507.65" r="1.35"/><circle cx="404.72" cy="497.97" r="1.35"/><circle cx="421.35" cy="493.26" r="1.35"/></g>
<line x1="299.25" y1="559.27" x2="422.09" y2="493.01" stroke="#b82a3c" stroke-width="1.1"/>
<rect x="286.80" y="467.30" width="144.40" height="118.60" fill="none" stroke="#262626" stroke-width="1.15"/>
<path d="M297.91 585.90v-2.3M320.12 585.90v-2.3M342.34 585.90v-2.3M364.55 585.90v-2.3M386.77 585.90v-2.3M408.98 585.90v-2.3M431.20 585.90v-2.3M309.02 585.90v-1.3M331.23 585.90v-1.3M353.45 585.90v-1.3M375.66 585.90v-1.3M397.88 585.90v-1.3M420.09 585.90v-1.3M286.80 562.18h2.3M286.80 514.74h2.3M286.80 467.30h2.3M286.80 585.90h1.3M286.80 538.46h1.3M286.80 491.02h1.3" stroke="#262626" stroke-width="0.9" fill="none"/>
<clipPath id="c2"><rect x="421.20" y="585.90" width="12.40" height="14"/></clipPath><g font-size="6.5" font-weight="bold"><text x="297.91" y="594.50" text-anchor="middle">0.12</text><text x="320.12" y="594.50" text-anchor="middle">0.14</text><text x="342.34" y="594.50" text-anchor="middle">0.16</text><text x="364.55" y="594.50" text-anchor="middle">0.18</text><text x="386.77" y="594.50" text-anchor="middle">0.20</text><text x="408.98" y="594.50" text-anchor="middle">0.22</text><text x="431.20" y="594.50" text-anchor="middle" clip-path="url(#c2)">0.24</text><text x="284.20" y="564.32" text-anchor="end">0.36</text><text x="284.20" y="516.88" text-anchor="end">0.38</text><text x="284.20" y="469.44" text-anchor="end">0.40</text></g>
<g font-size="6.5" font-weight="bold"><text x="298.10" y="482.80">y=0.25x+0.33</text><text x="298.10" y="491.00">R<tspan font-size="3.90" dy="-2.27">2</tspan><tspan dy="2.27">=0.86</tspan></text></g>
<g fill="#000"><circle cx="465.20" cy="566.96" r="1.35"/><circle cx="475.88" cy="547.85" r="1.35"/><circle cx="476.12" cy="557.28" r="1.35"/><circle cx="477.61" cy="562.00" r="1.35"/><circle cx="477.86" cy="538.42" r="1.35"/><circle cx="479.60" cy="557.28" r="1.35"/><circle cx="485.55" cy="533.71" r="1.35"/><circle cx="485.55" cy="557.28" r="1.35"/><circle cx="487.29" cy="552.57" r="1.35"/><circle cx="489.53" cy="557.28" r="1.35"/><circle cx="492.01" cy="557.28" r="1.35"/><circle cx="495.23" cy="528.99" r="1.35"/><circle cx="497.47" cy="547.85" r="1.35"/><circle cx="499.45" cy="528.99" r="1.35"/><circle cx="509.88" cy="524.03" r="1.35"/><circle cx="511.36" cy="524.03" r="1.35"/><circle cx="514.34" cy="528.99" r="1.35"/><circle cx="514.84" cy="519.31" r="1.35"/><circle cx="518.81" cy="514.60" r="1.35"/><circle cx="538.42" cy="505.17" r="1.35"/><circle cx="560.26" cy="495.74" r="1.35"/><circle cx="571.92" cy="481.34" r="1.35"/></g>
<line x1="465.20" y1="564.73" x2="585.82" y2="467.45" stroke="#b82a3c" stroke-width="1.1"/>
<rect x="448.30" y="467.30" width="144.00" height="118.60" fill="none" stroke="#262626" stroke-width="1.15"/>
<path d="M456.77 585.90v-2.3M490.65 585.90v-2.3M524.54 585.90v-2.3M558.42 585.90v-2.3M592.30 585.90v-2.3M473.71 585.90v-1.3M507.59 585.90v-1.3M541.48 585.90v-1.3M575.36 585.90v-1.3M448.30 562.18h2.3M448.30 514.74h2.3M448.30 467.30h2.3M448.30 585.90h1.3M448.30 538.46h1.3M448.30 491.02h1.3" stroke="#262626" stroke-width="0.9" fill="none"/>
<clipPath id="c3"><rect x="582.30" y="585.90" width="16.00" height="14"/></clipPath><g font-size="6.5" font-weight="bold"><text x="456.77" y="594.50" text-anchor="middle">0.19</text><text x="490.65" y="594.50" text-anchor="middle">0.20</text><text x="524.54" y="594.50" text-anchor="middle">0.21</text><text x="558.42" y="594.50" text-anchor="middle">0.22</text><text x="592.30" y="594.50" text-anchor="middle" clip-path="url(#c3)">0.23</text><text x="445.70" y="564.32" text-anchor="end">0.40</text><text x="445.70" y="516.89" text-anchor="end">0.41</text><text x="445.70" y="469.44" text-anchor="end">0.42</text></g>
<g font-size="6.5" font-weight="bold"><text x="459.60" y="482.80">y=0.58x+0.29</text><text x="459.60" y="491.00">R<tspan font-size="3.90" dy="-2.27">2</tspan><tspan dy="2.27">=0.90</tspan></text></g>
<g fill="#000"><circle cx="136.74" cy="679.55" r="1.35"/><circle cx="137.11" cy="676.09" r="1.35"/><circle cx="141.06" cy="674.85" r="1.35"/><circle cx="142.92" cy="672.75" r="1.35"/><circle cx="143.29" cy="684.49" r="1.35"/><circle cx="146.00" cy="675.22" r="1.35"/><circle cx="146.62" cy="677.08" r="1.35"/><circle cx="147.24" cy="679.55" r="1.35"/><circle cx="147.86" cy="678.93" r="1.35"/><circle cx="138.59" cy="700.55" r="1.35"/><circle cx="139.83" cy="698.70" r="1.35"/><circle cx="146.00" cy="694.99" r="1.35"/><circle cx="148.48" cy="697.46" r="1.35"/><circle cx="149.71" cy="693.76" r="1.35"/><circle cx="154.04" cy="677.08" r="1.35"/><circle cx="155.89" cy="693.76" r="1.35"/><circle cx="157.13" cy="677.08" r="1.35"/><circle cx="157.74" cy="662.87" r="1.35"/><circle cx="157.74" cy="693.14" r="1.35"/><circle cx="158.36" cy="679.55" r="1.35"/><circle cx="159.60" cy="686.96" r="1.35"/><circle cx="160.21" cy="665.34" r="1.35"/><circle cx="160.83" cy="696.23" r="1.35"/><circle cx="161.45" cy="684.49" r="1.35"/><circle cx="162.69" cy="662.87" r="1.35"/><circle cx="168.25" cy="682.02" r="1.35"/><circle cx="169.73" cy="689.43" r="1.35"/><circle cx="171.33" cy="647.42" r="1.35"/><circle cx="171.95" cy="662.87" r="1.35"/><circle cx="173.19" cy="684.24" r="1.35"/><circle cx="177.51" cy="676.09" r="1.35"/><circle cx="179.37" cy="685.48" r="1.35"/><circle cx="179.37" cy="660.40" r="1.35"/><circle cx="182.45" cy="674.85" r="1.35"/><circle cx="184.31" cy="665.34" r="1.35"/><circle cx="184.93" cy="651.13" r="1.35"/><circle cx="184.93" cy="643.10" r="1.35"/><circle cx="185.54" cy="682.02" r="1.35"/><circle cx="186.16" cy="646.19" r="1.35"/><circle cx="186.16" cy="638.16" r="1.35"/><circle cx="186.78" cy="656.69" r="1.35"/><circle cx="188.01" cy="678.31" r="1.35"/><circle cx="188.63" cy="658.54" r="1.35"/><circle cx="188.63" cy="638.16" r="1.35"/><circle cx="189.25" cy="640.63" r="1.35"/><circle cx="189.87" cy="643.10" r="1.35"/><circle cx="191.72" cy="631.36" r="1.35"/><circle cx="192.34" cy="658.54" r="1.35"/><circle cx="192.34" cy="633.21" r="1.35"/><circle cx="193.57" cy="675.84" r="1.35"/><circle cx="194.19" cy="646.81" r="1.35"/><circle cx="194.19" cy="640.01" r="1.35"/><circle cx="194.81" cy="652.37" r="1.35"/><circle cx="194.81" cy="666.57" r="1.35"/><circle cx="195.43" cy="662.25" r="1.35"/><circle cx="196.05" cy="677.08" r="1.35"/><circle cx="196.05" cy="631.98" r="1.35"/><circle cx="196.66" cy="635.07" r="1.35"/><circle cx="197.28" cy="672.14" r="1.35"/><circle cx="197.90" cy="640.63" r="1.35"/><circle cx="197.90" cy="627.65" r="1.35"/><circle cx="198.52" cy="665.34" r="1.35"/><circle cx="199.14" cy="623.95" r="1.35"/><circle cx="199.14" cy="651.13" r="1.35"/><circle cx="199.75" cy="659.78" r="1.35"/><circle cx="196.29" cy="662.25" r="1.35"/><circle cx="195.68" cy="677.70" r="1.35"/><circle cx="199.38" cy="656.07" r="1.35"/><circle cx="200.56" cy="631.36" r="1.35"/><circle cx="201.18" cy="627.65" r="1.35"/><circle cx="201.80" cy="623.95" r="1.35"/><circle cx="202.41" cy="621.48" r="1.35"/><circle cx="203.65" cy="621.23" r="1.35"/><circle cx="204.88" cy="621.72" r="1.35"/><circle cx="206.12" cy="623.33" r="1.35"/><circle cx="207.36" cy="623.95" r="1.35"/><circle cx="207.97" cy="628.89" r="1.35"/><circle cx="207.36" cy="635.07" r="1.35"/><circle cx="208.59" cy="640.01" r="1.35"/><circle cx="209.21" cy="645.57" r="1.35"/><circle cx="209.83" cy="646.19" r="1.35"/><circle cx="208.59" cy="652.37" r="1.35"/><circle cx="209.21" cy="657.31" r="1.35"/><circle cx="204.88" cy="653.60" r="1.35"/><circle cx="205.50" cy="659.78" r="1.35"/><circle cx="204.27" cy="660.40" r="1.35"/><circle cx="204.88" cy="670.28" r="1.35"/><circle cx="201.18" cy="670.28" r="1.35"/><circle cx="201.80" cy="666.57" r="1.35"/><circle cx="199.94" cy="662.25" r="1.35"/><circle cx="199.94" cy="654.84" r="1.35"/><circle cx="200.56" cy="652.37" r="1.35"/><circle cx="204.27" cy="644.95" r="1.35"/><circle cx="204.88" cy="643.72" r="1.35"/><circle cx="211.06" cy="617.77" r="1.35"/><circle cx="211.68" cy="624.57" r="1.35"/><circle cx="212.30" cy="627.04" r="1.35"/><circle cx="212.92" cy="630.13" r="1.35"/><circle cx="213.53" cy="614.06" r="1.35"/><circle cx="213.53" cy="616.53" r="1.35"/><circle cx="213.53" cy="632.60" r="1.35"/><circle cx="214.15" cy="621.48" r="1.35"/><circle cx="214.77" cy="637.54" r="1.35"/><circle cx="215.39" cy="635.07" r="1.35"/><circle cx="216.62" cy="637.54" r="1.35"/><circle cx="217.24" cy="622.71" r="1.35"/><circle cx="218.48" cy="623.95" r="1.35"/><circle cx="219.71" cy="631.36" r="1.35"/><circle cx="220.33" cy="624.57" r="1.35"/><circle cx="220.95" cy="622.71" r="1.35"/><circle cx="221.57" cy="631.98" r="1.35"/><circle cx="222.18" cy="630.13" r="1.35"/><circle cx="223.42" cy="619.62" r="1.35"/><circle cx="227.74" cy="643.10" r="1.35"/><circle cx="228.98" cy="617.77" r="1.35"/><circle cx="229.60" cy="622.71" r="1.35"/><circle cx="230.21" cy="625.80" r="1.35"/><circle cx="231.45" cy="627.65" r="1.35"/><circle cx="235.77" cy="627.41" r="1.35"/><circle cx="237.63" cy="619.00" r="1.35"/><circle cx="240.72" cy="618.39" r="1.35"/><circle cx="253.69" cy="619.25" r="1.35"/><circle cx="259.87" cy="606.40" r="1.35"/><circle cx="202.41" cy="631.36" r="1.35"/><circle cx="203.03" cy="626.42" r="1.35"/></g>
<line x1="136.74" y1="692.53" x2="259.25" y2="600.47" stroke="#b82a3c" stroke-width="1.1"/>
<rect x="125.50" y="600.50" width="144.10" height="118.40" fill="none" stroke="#262626" stroke-width="1.15"/>
<path d="M151.61 718.90v-2.3M181.10 718.90v-2.3M210.60 718.90v-2.3M240.10 718.90v-2.3M269.60 718.90v-2.3M136.86 718.90v-1.3M166.36 718.90v-1.3M195.85 718.90v-1.3M225.35 718.90v-1.3M254.85 718.90v-1.3M125.50 718.90h2.3M125.50 695.22h2.3M125.50 671.54h2.3M125.50 647.86h2.3M125.50 624.18h2.3M125.50 600.50h2.3M125.50 707.06h1.3M125.50 683.38h1.3M125.50 659.70h1.3M125.50 636.02h1.3M125.50 612.34h1.3" stroke="#262626" stroke-width="0.9" fill="none"/>
<clipPath id="c4"><rect x="259.60" y="718.90" width="12.80" height="14"/></clipPath><g font-size="6.5" font-weight="bold"><text x="151.61" y="727.50" text-anchor="middle">0.16</text><text x="181.10" y="727.50" text-anchor="middle">0.20</text><text x="210.60" y="727.50" text-anchor="middle">0.24</text><text x="240.10" y="727.50" text-anchor="middle">0.28</text><text x="269.60" y="727.50" text-anchor="middle" clip-path="url(#c4)">0.32</text><text x="122.90" y="721.04" text-anchor="end">0.08</text><text x="122.90" y="697.37" text-anchor="end">0.10</text><text x="122.90" y="673.68" text-anchor="end">0.12</text><text x="122.90" y="650.00" text-anchor="end">0.14</text><text x="122.90" y="626.32" text-anchor="end">0.16</text><text x="122.90" y="602.64" text-anchor="end">0.18</text></g>
<g font-size="6.5" font-weight="bold"><text x="136.80" y="616.00">y=0.47x+0.36</text><text x="136.80" y="624.20">R<tspan font-size="3.90" dy="-2.27">2</tspan><tspan dy="2.27">=0.66</tspan></text></g>
<g fill="#000"><circle cx="295.88" cy="713.53" r="1.35"/><circle cx="296.13" cy="712.91" r="1.35"/><circle cx="296.50" cy="712.29" r="1.35"/><circle cx="296.87" cy="711.80" r="1.35"/><circle cx="297.12" cy="711.43" r="1.35"/><circle cx="297.61" cy="711.06" r="1.35"/><circle cx="298.11" cy="710.69" r="1.35"/><circle cx="298.48" cy="710.19" r="1.35"/><circle cx="298.97" cy="709.82" r="1.35"/><circle cx="299.34" cy="709.45" r="1.35"/><circle cx="299.84" cy="709.20" r="1.35"/><circle cx="300.33" cy="709.08" r="1.35"/><circle cx="300.83" cy="708.96" r="1.35"/><circle cx="301.44" cy="708.71" r="1.35"/><circle cx="302.06" cy="708.58" r="1.35"/><circle cx="302.68" cy="708.21" r="1.35"/><circle cx="303.30" cy="707.97" r="1.35"/><circle cx="303.92" cy="707.60" r="1.35"/><circle cx="304.53" cy="707.35" r="1.35"/><circle cx="305.15" cy="706.98" r="1.35"/><circle cx="305.77" cy="706.73" r="1.35"/><circle cx="306.26" cy="706.11" r="1.35"/><circle cx="306.76" cy="705.50" r="1.35"/><circle cx="307.13" cy="704.88" r="1.35"/><circle cx="307.62" cy="704.26" r="1.35"/><circle cx="308.24" cy="703.89" r="1.35"/><circle cx="308.86" cy="703.64" r="1.35"/><circle cx="309.48" cy="703.27" r="1.35"/><circle cx="310.09" cy="703.02" r="1.35"/><circle cx="312.19" cy="702.41" r="1.35"/><circle cx="313.18" cy="696.85" r="1.35"/><circle cx="315.04" cy="696.23" r="1.35"/><circle cx="316.27" cy="694.99" r="1.35"/><circle cx="318.13" cy="693.76" r="1.35"/><circle cx="315.65" cy="683.87" r="1.35"/><circle cx="316.89" cy="683.26" r="1.35"/><circle cx="318.74" cy="680.78" r="1.35"/><circle cx="320.60" cy="681.03" r="1.35"/><circle cx="320.60" cy="700.55" r="1.35"/><circle cx="322.45" cy="698.70" r="1.35"/><circle cx="323.07" cy="665.34" r="1.35"/><circle cx="322.45" cy="670.28" r="1.35"/><circle cx="323.07" cy="677.08" r="1.35"/><circle cx="325.54" cy="692.52" r="1.35"/><circle cx="326.16" cy="677.08" r="1.35"/><circle cx="326.77" cy="660.40" r="1.35"/><circle cx="327.39" cy="658.54" r="1.35"/><circle cx="328.63" cy="659.16" r="1.35"/><circle cx="329.25" cy="678.93" r="1.35"/><circle cx="329.86" cy="672.14" r="1.35"/><circle cx="330.48" cy="671.52" r="1.35"/><circle cx="331.10" cy="646.19" r="1.35"/><circle cx="331.72" cy="672.14" r="1.35"/><circle cx="331.96" cy="652.98" r="1.35"/><circle cx="332.71" cy="655.45" r="1.35"/><circle cx="332.95" cy="646.19" r="1.35"/><circle cx="333.57" cy="669.66" r="1.35"/><circle cx="333.57" cy="691.29" r="1.35"/><circle cx="334.81" cy="690.42" r="1.35"/><circle cx="335.42" cy="690.05" r="1.35"/><circle cx="336.04" cy="672.14" r="1.35"/><circle cx="337.89" cy="646.19" r="1.35"/><circle cx="338.51" cy="657.93" r="1.35"/><circle cx="339.13" cy="674.61" r="1.35"/><circle cx="339.13" cy="690.05" r="1.35"/><circle cx="339.75" cy="646.81" r="1.35"/><circle cx="339.75" cy="680.17" r="1.35"/><circle cx="340.98" cy="666.57" r="1.35"/><circle cx="342.84" cy="680.17" r="1.35"/><circle cx="343.45" cy="690.67" r="1.35"/><circle cx="344.07" cy="645.57" r="1.35"/><circle cx="344.69" cy="651.13" r="1.35"/><circle cx="344.69" cy="667.81" r="1.35"/><circle cx="345.31" cy="680.78" r="1.35"/><circle cx="345.93" cy="680.78" r="1.35"/><circle cx="346.54" cy="686.96" r="1.35"/><circle cx="346.79" cy="675.84" r="1.35"/><circle cx="350.25" cy="654.22" r="1.35"/><circle cx="350.87" cy="689.43" r="1.35"/><circle cx="351.49" cy="659.78" r="1.35"/><circle cx="354.57" cy="638.16" r="1.35"/><circle cx="354.57" cy="641.25" r="1.35"/><circle cx="355.19" cy="646.81" r="1.35"/><circle cx="355.81" cy="685.11" r="1.35"/><circle cx="356.43" cy="689.43" r="1.35"/><circle cx="356.43" cy="633.21" r="1.35"/><circle cx="356.43" cy="663.49" r="1.35"/><circle cx="357.05" cy="662.25" r="1.35"/><circle cx="357.66" cy="641.86" r="1.35"/><circle cx="358.28" cy="638.77" r="1.35"/><circle cx="359.52" cy="654.22" r="1.35"/><circle cx="360.14" cy="640.01" r="1.35"/><circle cx="360.14" cy="683.26" r="1.35"/><circle cx="360.94" cy="683.26" r="1.35"/><circle cx="362.18" cy="686.71" r="1.35"/><circle cx="362.80" cy="644.33" r="1.35"/><circle cx="363.41" cy="640.01" r="1.35"/><circle cx="364.03" cy="636.30" r="1.35"/><circle cx="365.27" cy="638.77" r="1.35"/><circle cx="366.50" cy="636.30" r="1.35"/><circle cx="367.12" cy="648.66" r="1.35"/><circle cx="367.74" cy="628.89" r="1.35"/><circle cx="368.36" cy="626.42" r="1.35"/><circle cx="368.97" cy="627.65" r="1.35"/><circle cx="369.59" cy="625.80" r="1.35"/><circle cx="369.59" cy="644.95" r="1.35"/><circle cx="370.21" cy="630.13" r="1.35"/><circle cx="370.83" cy="632.60" r="1.35"/><circle cx="371.44" cy="635.07" r="1.35"/><circle cx="372.06" cy="644.95" r="1.35"/><circle cx="372.68" cy="628.27" r="1.35"/><circle cx="373.30" cy="625.18" r="1.35"/><circle cx="373.92" cy="627.04" r="1.35"/><circle cx="374.53" cy="630.13" r="1.35"/><circle cx="374.53" cy="661.01" r="1.35"/><circle cx="375.15" cy="633.83" r="1.35"/><circle cx="375.77" cy="628.89" r="1.35"/><circle cx="376.39" cy="626.42" r="1.35"/><circle cx="377.00" cy="631.36" r="1.35"/><circle cx="377.62" cy="632.60" r="1.35"/><circle cx="378.24" cy="635.07" r="1.35"/><circle cx="378.86" cy="628.89" r="1.35"/><circle cx="378.86" cy="640.01" r="1.35"/><circle cx="379.48" cy="626.42" r="1.35"/><circle cx="379.48" cy="647.42" r="1.35"/><circle cx="380.09" cy="624.57" r="1.35"/><circle cx="380.71" cy="627.65" r="1.35"/><circle cx="380.71" cy="657.93" r="1.35"/><circle cx="381.33" cy="631.36" r="1.35"/><circle cx="381.95" cy="623.95" r="1.35"/><circle cx="382.57" cy="633.83" r="1.35"/><circle cx="383.18" cy="626.42" r="1.35"/><circle cx="383.80" cy="630.13" r="1.35"/><circle cx="384.42" cy="635.07" r="1.35"/><circle cx="385.04" cy="628.89" r="1.35"/><circle cx="385.65" cy="632.60" r="1.35"/><circle cx="386.27" cy="636.30" r="1.35"/><circle cx="386.89" cy="627.65" r="1.35"/><circle cx="387.51" cy="630.13" r="1.35"/><circle cx="388.13" cy="633.83" r="1.35"/><circle cx="388.74" cy="621.48" r="1.35"/><circle cx="389.36" cy="628.89" r="1.35"/><circle cx="389.98" cy="625.18" r="1.35"/><circle cx="390.60" cy="638.77" r="1.35"/><circle cx="391.21" cy="627.65" r="1.35"/><circle cx="391.83" cy="623.95" r="1.35"/><circle cx="392.45" cy="628.89" r="1.35"/><circle cx="393.07" cy="626.42" r="1.35"/><circle cx="393.69" cy="630.13" r="1.35"/><circle cx="394.30" cy="625.18" r="1.35"/><circle cx="394.92" cy="609.12" r="1.35"/><circle cx="395.54" cy="618.39" r="1.35"/><circle cx="395.54" cy="622.71" r="1.35"/><circle cx="396.16" cy="627.65" r="1.35"/><circle cx="396.77" cy="623.95" r="1.35"/><circle cx="397.39" cy="628.89" r="1.35"/><circle cx="398.01" cy="626.42" r="1.35"/><circle cx="398.63" cy="630.13" r="1.35"/><circle cx="399.25" cy="623.95" r="1.35"/><circle cx="399.86" cy="622.09" r="1.35"/><circle cx="400.48" cy="627.65" r="1.35"/><circle cx="401.10" cy="619.00" r="1.35"/><circle cx="401.72" cy="625.18" r="1.35"/><circle cx="402.33" cy="622.71" r="1.35"/><circle cx="402.95" cy="631.36" r="1.35"/><circle cx="403.57" cy="621.48" r="1.35"/><circle cx="404.19" cy="624.57" r="1.35"/><circle cx="404.81" cy="620.86" r="1.35"/><circle cx="405.42" cy="627.65" r="1.35"/><circle cx="406.04" cy="623.95" r="1.35"/><circle cx="406.66" cy="622.71" r="1.35"/><circle cx="407.28" cy="627.65" r="1.35"/><circle cx="408.51" cy="627.65" r="1.35"/><circle cx="409.13" cy="623.33" r="1.35"/><circle cx="410.37" cy="622.71" r="1.35"/><circle cx="410.98" cy="619.62" r="1.35"/><circle cx="412.22" cy="630.13" r="1.35"/><circle cx="415.93" cy="618.02" r="1.35"/><circle cx="416.54" cy="631.36" r="1.35"/><circle cx="417.78" cy="623.95" r="1.35"/><circle cx="419.63" cy="620.86" r="1.35"/></g>
<line x1="295.89" y1="704.88" x2="420.25" y2="604.18" stroke="#b82a3c" stroke-width="1.1"/>
<rect x="286.80" y="600.70" width="144.50" height="118.10" fill="none" stroke="#262626" stroke-width="1.15"/>
<path d="M300.78 718.80v-2.3M319.43 718.80v-2.3M338.07 718.80v-2.3M356.72 718.80v-2.3M375.36 718.80v-2.3M394.01 718.80v-2.3M412.65 718.80v-2.3M431.30 718.80v-2.3M291.46 718.80v-1.3M310.11 718.80v-1.3M328.75 718.80v-1.3M347.40 718.80v-1.3M366.04 718.80v-1.3M384.69 718.80v-1.3M403.33 718.80v-1.3M421.98 718.80v-1.3M286.80 718.80h2.3M286.80 695.18h2.3M286.80 671.56h2.3M286.80 647.94h2.3M286.80 624.32h2.3M286.80 600.70h2.3M286.80 706.99h1.3M286.80 683.37h1.3M286.80 659.75h1.3M286.80 636.13h1.3M286.80 612.51h1.3" stroke="#262626" stroke-width="0.9" fill="none"/>
<g font-size="6.5" font-weight="bold"><text x="300.78" y="727.40" text-anchor="middle">0.14</text><text x="319.43" y="727.40" text-anchor="middle">0.16</text><text x="338.07" y="727.40" text-anchor="middle">0.18</text><text x="356.72" y="727.40" text-anchor="middle">0.20</text><text x="375.36" y="727.40" text-anchor="middle">0.22</text><text x="394.01" y="727.40" text-anchor="middle">0.24</text><text x="412.65" y="727.40" text-anchor="middle">0.26</text><text x="431.30" y="727.40" text-anchor="middle">0.28</text><text x="284.20" y="720.94" text-anchor="end">0.16</text><text x="284.20" y="697.32" text-anchor="end">0.20</text><text x="284.20" y="673.70" text-anchor="end">0.24</text><text x="284.20" y="650.08" text-anchor="end">0.28</text><text x="284.20" y="626.47" text-anchor="end">0.32</text><text x="284.20" y="602.85" text-anchor="end">0.36</text></g>
<g font-size="6.5" font-weight="bold"><text x="298.10" y="616.20">y=0.139x+0.11</text><text x="298.10" y="624.40">R<tspan font-size="3.90" dy="-2.27">2</tspan><tspan dy="2.27">=0.83</tspan></text></g>
<g fill="#000"><circle cx="458.37" cy="706.11" r="1.35"/><circle cx="458.86" cy="705.87" r="1.35"/><circle cx="459.36" cy="705.74" r="1.35"/><circle cx="459.97" cy="705.62" r="1.35"/><circle cx="460.59" cy="705.50" r="1.35"/><circle cx="461.21" cy="705.62" r="1.35"/><circle cx="461.83" cy="705.74" r="1.35"/><circle cx="462.44" cy="705.62" r="1.35"/><circle cx="463.06" cy="705.50" r="1.35"/><circle cx="463.68" cy="705.62" r="1.35"/><circle cx="464.30" cy="705.74" r="1.35"/><circle cx="464.92" cy="705.50" r="1.35"/><circle cx="465.53" cy="705.25" r="1.35"/><circle cx="466.15" cy="704.88" r="1.35"/><circle cx="466.77" cy="704.51" r="1.35"/><circle cx="467.39" cy="704.01" r="1.35"/><circle cx="468.00" cy="703.64" r="1.35"/><circle cx="468.62" cy="703.15" r="1.35"/><circle cx="469.24" cy="702.78" r="1.35"/><circle cx="469.86" cy="702.28" r="1.35"/><circle cx="470.48" cy="701.79" r="1.35"/><circle cx="471.09" cy="701.42" r="1.35"/><circle cx="471.71" cy="701.17" r="1.35"/><circle cx="472.33" cy="700.80" r="1.35"/><circle cx="472.95" cy="700.55" r="1.35"/><circle cx="473.57" cy="700.43" r="1.35"/><circle cx="474.18" cy="700.31" r="1.35"/><circle cx="474.80" cy="700.06" r="1.35"/><circle cx="475.42" cy="699.94" r="1.35"/><circle cx="476.04" cy="699.69" r="1.35"/><circle cx="476.65" cy="699.57" r="1.35"/><circle cx="479.74" cy="698.70" r="1.35"/><circle cx="480.98" cy="697.84" r="1.35"/><circle cx="482.21" cy="696.85" r="1.35"/><circle cx="482.83" cy="695.61" r="1.35"/><circle cx="484.07" cy="694.99" r="1.35"/><circle cx="485.30" cy="694.38" r="1.35"/><circle cx="486.54" cy="693.76" r="1.35"/><circle cx="488.39" cy="693.14" r="1.35"/><circle cx="489.63" cy="692.52" r="1.35"/><circle cx="490.86" cy="690.05" r="1.35"/><circle cx="493.33" cy="691.90" r="1.35"/><circle cx="494.57" cy="691.29" r="1.35"/><circle cx="497.04" cy="690.67" r="1.35"/><circle cx="500.75" cy="690.05" r="1.35"/><circle cx="486.54" cy="683.87" r="1.35"/><circle cx="490.00" cy="682.27" r="1.35"/><circle cx="494.94" cy="678.93" r="1.35"/><circle cx="496.18" cy="672.75" r="1.35"/><circle cx="497.04" cy="675.22" r="1.35"/><circle cx="498.89" cy="675.22" r="1.35"/><circle cx="502.60" cy="672.75" r="1.35"/><circle cx="503.22" cy="683.26" r="1.35"/><circle cx="506.31" cy="685.97" r="1.35"/><circle cx="506.93" cy="671.52" r="1.35"/><circle cx="509.40" cy="664.72" r="1.35"/><circle cx="511.25" cy="675.59" r="1.35"/><circle cx="513.72" cy="660.40" r="1.35"/><circle cx="517.18" cy="656.69" r="1.35"/><circle cx="517.43" cy="672.75" r="1.35"/><circle cx="517.43" cy="666.57" r="1.35"/><circle cx="490.25" cy="648.66" r="1.35"/><circle cx="493.33" cy="646.81" r="1.35"/><circle cx="494.57" cy="659.78" r="1.35"/><circle cx="496.42" cy="644.95" r="1.35"/><circle cx="497.04" cy="641.25" r="1.35"/><circle cx="497.66" cy="645.57" r="1.35"/><circle cx="500.13" cy="662.25" r="1.35"/><circle cx="500.13" cy="652.37" r="1.35"/><circle cx="500.38" cy="654.22" r="1.35"/><circle cx="500.75" cy="656.07" r="1.35"/><circle cx="500.75" cy="645.57" r="1.35"/><circle cx="503.22" cy="643.72" r="1.35"/><circle cx="507.54" cy="651.38" r="1.35"/><circle cx="511.87" cy="641.86" r="1.35"/><circle cx="515.57" cy="648.04" r="1.35"/><circle cx="518.05" cy="638.77" r="1.35"/><circle cx="518.66" cy="640.01" r="1.35"/><circle cx="520.52" cy="649.89" r="1.35"/><circle cx="521.14" cy="646.19" r="1.35"/><circle cx="522.56" cy="646.19" r="1.35"/><circle cx="523.18" cy="658.54" r="1.35"/><circle cx="521.94" cy="651.13" r="1.35"/><circle cx="523.80" cy="649.89" r="1.35"/><circle cx="524.41" cy="641.25" r="1.35"/><circle cx="525.65" cy="640.01" r="1.35"/><circle cx="526.27" cy="638.77" r="1.35"/><circle cx="526.88" cy="652.37" r="1.35"/><circle cx="527.50" cy="637.54" r="1.35"/><circle cx="528.12" cy="662.25" r="1.35"/><circle cx="528.74" cy="643.72" r="1.35"/><circle cx="529.36" cy="645.57" r="1.35"/><circle cx="529.97" cy="635.07" r="1.35"/><circle cx="530.59" cy="632.60" r="1.35"/><circle cx="530.59" cy="654.84" r="1.35"/><circle cx="531.21" cy="636.30" r="1.35"/><circle cx="531.83" cy="641.25" r="1.35"/><circle cx="532.44" cy="635.07" r="1.35"/><circle cx="533.06" cy="638.77" r="1.35"/><circle cx="533.68" cy="636.30" r="1.35"/><circle cx="534.30" cy="634.45" r="1.35"/><circle cx="534.92" cy="647.42" r="1.35"/><circle cx="535.53" cy="635.07" r="1.35"/><circle cx="535.53" cy="637.54" r="1.35"/><circle cx="536.15" cy="633.83" r="1.35"/><circle cx="536.77" cy="636.30" r="1.35"/><circle cx="537.39" cy="638.77" r="1.35"/><circle cx="538.00" cy="623.95" r="1.35"/><circle cx="538.00" cy="635.07" r="1.35"/><circle cx="538.62" cy="632.60" r="1.35"/><circle cx="539.24" cy="637.54" r="1.35"/><circle cx="539.86" cy="631.36" r="1.35"/><circle cx="539.86" cy="635.07" r="1.35"/><circle cx="540.48" cy="640.01" r="1.35"/><circle cx="541.09" cy="630.13" r="1.35"/><circle cx="541.71" cy="633.83" r="1.35"/><circle cx="541.71" cy="644.33" r="1.35"/><circle cx="542.33" cy="637.54" r="1.35"/><circle cx="542.95" cy="632.60" r="1.35"/><circle cx="543.57" cy="635.07" r="1.35"/><circle cx="544.18" cy="619.62" r="1.35"/><circle cx="544.80" cy="638.77" r="1.35"/><circle cx="545.42" cy="636.30" r="1.35"/><circle cx="546.04" cy="626.42" r="1.35"/><circle cx="546.65" cy="628.89" r="1.35"/><circle cx="547.27" cy="635.07" r="1.35"/><circle cx="547.89" cy="632.60" r="1.35"/><circle cx="548.51" cy="641.25" r="1.35"/><circle cx="549.13" cy="638.77" r="1.35"/><circle cx="549.74" cy="633.83" r="1.35"/><circle cx="550.36" cy="636.30" r="1.35"/><circle cx="550.98" cy="634.45" r="1.35"/><circle cx="551.60" cy="632.60" r="1.35"/><circle cx="552.21" cy="635.07" r="1.35"/><circle cx="552.83" cy="637.54" r="1.35"/><circle cx="553.45" cy="632.60" r="1.35"/><circle cx="554.07" cy="635.07" r="1.35"/><circle cx="554.69" cy="633.83" r="1.35"/><circle cx="555.30" cy="630.13" r="1.35"/><circle cx="555.92" cy="637.54" r="1.35"/><circle cx="556.54" cy="633.83" r="1.35"/><circle cx="557.16" cy="636.30" r="1.35"/><circle cx="557.77" cy="640.01" r="1.35"/><circle cx="558.39" cy="635.07" r="1.35"/><circle cx="559.01" cy="637.54" r="1.35"/><circle cx="559.63" cy="638.77" r="1.35"/><circle cx="560.25" cy="635.07" r="1.35"/><circle cx="560.86" cy="640.01" r="1.35"/><circle cx="561.48" cy="637.54" r="1.35"/><circle cx="562.10" cy="643.72" r="1.35"/><circle cx="562.72" cy="633.83" r="1.35"/><circle cx="563.95" cy="632.60" r="1.35"/><circle cx="564.57" cy="635.07" r="1.35"/><circle cx="565.81" cy="631.36" r="1.35"/><circle cx="566.42" cy="630.13" r="1.35"/><circle cx="567.04" cy="637.54" r="1.35"/><circle cx="567.66" cy="635.07" r="1.35"/><circle cx="568.28" cy="631.36" r="1.35"/><circle cx="568.89" cy="628.89" r="1.35"/><circle cx="569.51" cy="636.30" r="1.35"/><circle cx="570.13" cy="633.83" r="1.35"/><circle cx="571.37" cy="634.45" r="1.35"/><circle cx="573.84" cy="631.36" r="1.35"/><circle cx="575.07" cy="627.65" r="1.35"/><circle cx="579.40" cy="626.42" r="1.35"/><circle cx="581.87" cy="630.74" r="1.35"/><circle cx="583.10" cy="631.98" r="1.35"/><circle cx="584.34" cy="630.13" r="1.35"/></g>
<line x1="458.37" y1="699.57" x2="584.71" y2="610.97" stroke="#b82a3c" stroke-width="1.1"/>
<rect x="448.30" y="600.70" width="143.70" height="118.10" fill="none" stroke="#262626" stroke-width="1.15"/>
<path d="M467.04 718.80v-2.3M492.03 718.80v-2.3M517.03 718.80v-2.3M542.02 718.80v-2.3M567.01 718.80v-2.3M592.00 718.80v-2.3M454.55 718.80v-1.3M479.54 718.80v-1.3M504.53 718.80v-1.3M529.52 718.80v-1.3M554.51 718.80v-1.3M579.50 718.80v-1.3M448.30 718.80h2.3M448.30 695.18h2.3M448.30 671.56h2.3M448.30 647.94h2.3M448.30 624.32h2.3M448.30 600.70h2.3M448.30 706.99h1.3M448.30 683.37h1.3M448.30 659.75h1.3M448.30 636.13h1.3M448.30 612.51h1.3" stroke="#262626" stroke-width="0.9" fill="none"/>
<g font-size="6.5" font-weight="bold"><text x="467.04" y="727.40" text-anchor="middle">0.18</text><text x="492.03" y="727.40" text-anchor="middle">0.20</text><text x="517.03" y="727.40" text-anchor="middle">0.22</text><text x="542.02" y="727.40" text-anchor="middle">0.24</text><text x="567.01" y="727.40" text-anchor="middle">0.26</text><text x="592.00" y="727.40" text-anchor="middle">0.28</text><text x="445.70" y="720.94" text-anchor="end">.15</text><text x="445.70" y="697.32" text-anchor="end">.20</text><text x="445.70" y="673.70" text-anchor="end">.25</text><text x="445.70" y="650.09" text-anchor="end">.30</text><text x="445.70" y="626.47" text-anchor="end">.35</text><text x="445.70" y="602.85" text-anchor="end">.40</text></g>
<g font-size="6.5" font-weight="bold"><text x="459.60" y="616.20">y=0.19x-0.13</text><text x="459.60" y="624.40">R<tspan font-size="3.90" dy="-2.27">2</tspan><tspan dy="2.27">=0.80</tspan></text></g>
<g fill="#000"><circle cx="134.04" cy="834.94" r="1.35"/><circle cx="141.73" cy="836.18" r="1.35"/><circle cx="143.47" cy="831.96" r="1.35"/><circle cx="145.45" cy="817.82" r="1.35"/><circle cx="151.66" cy="810.37" r="1.35"/><circle cx="162.08" cy="808.39" r="1.35"/><circle cx="163.57" cy="830.97" r="1.35"/><circle cx="164.07" cy="784.56" r="1.35"/><circle cx="166.05" cy="800.69" r="1.35"/><circle cx="171.26" cy="812.36" r="1.35"/><circle cx="173.25" cy="811.61" r="1.35"/><circle cx="172.01" cy="830.97" r="1.35"/><circle cx="181.93" cy="795.23" r="1.35"/><circle cx="184.42" cy="774.64" r="1.35"/><circle cx="190.62" cy="796.47" r="1.35"/><circle cx="192.36" cy="790.02" r="1.35"/><circle cx="204.27" cy="782.33" r="1.35"/><circle cx="209.98" cy="760.74" r="1.35"/><circle cx="211.22" cy="771.41" r="1.35"/><circle cx="219.66" cy="750.07" r="1.35"/><circle cx="227.35" cy="783.32" r="1.35"/><circle cx="232.56" cy="741.38" r="1.35"/><circle cx="233.31" cy="760.74" r="1.35"/><circle cx="240.01" cy="748.08" r="1.35"/><circle cx="241.99" cy="751.06" r="1.35"/><circle cx="260.85" cy="736.17" r="1.35"/><circle cx="267.31" cy="750.07" r="1.35"/></g>
<line x1="133.04" y1="833.45" x2="267.55" y2="731.95" stroke="#b82a3c" stroke-width="1.1"/>
<rect x="125.40" y="731.80" width="144.60" height="118.60" fill="none" stroke="#262626" stroke-width="1.15"/>
<path d="M136.17 850.40v-2.3M158.38 850.40v-2.3M180.60 850.40v-2.3M202.81 850.40v-2.3M225.02 850.40v-2.3M247.23 850.40v-2.3M269.44 850.40v-2.3M147.28 850.40v-1.3M169.49 850.40v-1.3M191.70 850.40v-1.3M213.91 850.40v-1.3M236.13 850.40v-1.3M258.34 850.40v-1.3M125.40 839.62h2.3M125.40 818.05h2.3M125.40 796.49h2.3M125.40 774.93h2.3M125.40 753.36h2.3M125.40 731.80h2.3M125.40 828.84h1.3M125.40 807.27h1.3M125.40 785.71h1.3M125.40 764.15h1.3M125.40 742.58h1.3" stroke="#262626" stroke-width="0.9" fill="none"/>
<clipPath id="c5"><rect x="259.44" y="850.40" width="14.26" height="14"/></clipPath><g font-size="6.5" font-weight="bold"><text x="136.17" y="859.00" text-anchor="middle">0.12</text><text x="158.38" y="859.00" text-anchor="middle">0.14</text><text x="180.60" y="859.00" text-anchor="middle">0.16</text><text x="202.81" y="859.00" text-anchor="middle">0.18</text><text x="225.02" y="859.00" text-anchor="middle">0.20</text><text x="247.23" y="859.00" text-anchor="middle">0.22</text><text x="269.44" y="859.00" text-anchor="middle" clip-path="url(#c5)">0.24</text><text x="122.80" y="841.76" text-anchor="end">0.08</text><text x="122.80" y="820.20" text-anchor="end">0.10</text><text x="122.80" y="798.64" text-anchor="end">0.12</text><text x="122.80" y="777.07" text-anchor="end">0.14</text><text x="122.80" y="755.51" text-anchor="end">0.16</text><text x="122.80" y="733.94" text-anchor="end">0.18</text></g>
<g font-size="6.5" font-weight="bold"><text x="136.70" y="747.30">y=0.78x-0.01</text><text x="136.70" y="755.50">R<tspan font-size="3.90" dy="-2.27">2</tspan><tspan dy="2.27">=0.83</tspan></text></g>
<g fill="#000"><circle cx="299.50" cy="825.76" r="1.35"/><circle cx="303.72" cy="827.99" r="1.35"/><circle cx="307.19" cy="823.28" r="1.35"/><circle cx="316.12" cy="813.35" r="1.35"/><circle cx="320.59" cy="823.28" r="1.35"/><circle cx="324.56" cy="823.28" r="1.35"/><circle cx="327.04" cy="823.28" r="1.35"/><circle cx="328.53" cy="805.66" r="1.35"/><circle cx="328.53" cy="827.99" r="1.35"/><circle cx="328.53" cy="845.36" r="1.35"/><circle cx="333.50" cy="813.35" r="1.35"/><circle cx="342.18" cy="827.99" r="1.35"/><circle cx="349.88" cy="798.46" r="1.35"/><circle cx="350.87" cy="800.94" r="1.35"/><circle cx="370.47" cy="798.46" r="1.35"/><circle cx="373.20" cy="786.05" r="1.35"/><circle cx="380.15" cy="768.93" r="1.35"/><circle cx="392.81" cy="744.11" r="1.35"/><circle cx="397.03" cy="756.52" r="1.35"/><circle cx="398.02" cy="776.37" r="1.35"/></g>
<line x1="299.74" y1="840.40" x2="420.85" y2="742.87" stroke="#b82a3c" stroke-width="1.1"/>
<rect x="287.80" y="732.00" width="144.60" height="118.30" fill="none" stroke="#262626" stroke-width="1.15"/>
<path d="M306.98 850.30v-2.3M331.89 850.30v-2.3M356.80 850.30v-2.3M381.71 850.30v-2.3M406.62 850.30v-2.3M431.53 850.30v-2.3M294.53 850.30v-1.3M319.44 850.30v-1.3M344.34 850.30v-1.3M369.25 850.30v-1.3M394.16 850.30v-1.3M419.07 850.30v-1.3M287.80 830.58h2.3M287.80 805.94h2.3M287.80 781.29h2.3M287.80 756.65h2.3M287.80 732.00h2.3M287.80 842.91h1.3M287.80 818.26h1.3M287.80 793.61h1.3M287.80 768.97h1.3M287.80 744.32h1.3" stroke="#262626" stroke-width="0.9" fill="none"/>
<g font-size="6.5" font-weight="bold"><text x="306.98" y="858.90" text-anchor="middle">0.14</text><text x="331.89" y="858.90" text-anchor="middle">0.16</text><text x="356.80" y="858.90" text-anchor="middle">0.18</text><text x="381.71" y="858.90" text-anchor="middle">0.20</text><text x="406.62" y="858.90" text-anchor="middle">0.22</text><text x="431.53" y="858.90" text-anchor="middle">0.24</text><text x="285.20" y="832.73" text-anchor="end">0.12</text><text x="285.20" y="808.08" text-anchor="end">0.13</text><text x="285.20" y="783.44" text-anchor="end">0.14</text><text x="285.20" y="758.79" text-anchor="end">0.15</text><text x="285.20" y="734.14" text-anchor="end">0.16</text></g>
<g font-size="6.5" font-weight="bold"><text x="299.10" y="747.50">y=0.41x+0.06</text><text x="299.10" y="755.70">R<tspan font-size="3.90" dy="-2.27">2</tspan><tspan dy="2.27">=0.82</tspan></text></g>
<g fill="#000"><circle cx="466.69" cy="814.59" r="1.35"/><circle cx="468.43" cy="814.59" r="1.35"/><circle cx="471.66" cy="814.59" r="1.35"/><circle cx="477.61" cy="820.55" r="1.35"/><circle cx="478.61" cy="814.59" r="1.35"/><circle cx="480.09" cy="820.55" r="1.35"/><circle cx="481.58" cy="820.55" r="1.35"/><circle cx="483.07" cy="814.59" r="1.35"/><circle cx="490.52" cy="808.64" r="1.35"/><circle cx="500.45" cy="808.64" r="1.35"/><circle cx="503.42" cy="814.59" r="1.35"/><circle cx="522.78" cy="832.46" r="1.35"/><circle cx="539.66" cy="814.59" r="1.35"/><circle cx="559.01" cy="796.97" r="1.35"/><circle cx="562.74" cy="767.19" r="1.35"/><circle cx="568.20" cy="737.41" r="1.35"/><circle cx="569.19" cy="731.70" r="1.35"/><circle cx="570.18" cy="785.06" r="1.35"/><circle cx="571.18" cy="755.28" r="1.35"/></g>
<line x1="467.19" y1="826.01" x2="571.42" y2="767.19" stroke="#b82a3c" stroke-width="1.1"/>
<rect x="451.70" y="732.20" width="144.20" height="118.40" fill="none" stroke="#262626" stroke-width="1.15"/>
<path d="M474.98 850.60v-2.3M505.21 850.60v-2.3M535.44 850.60v-2.3M565.67 850.60v-2.3M595.90 850.60v-2.3M459.86 850.60v-1.3M490.09 850.60v-1.3M520.32 850.60v-1.3M550.55 850.60v-1.3M580.78 850.60v-1.3M451.70 850.60h2.3M451.70 791.40h2.3M451.70 732.20h2.3M451.70 821.00h1.3M451.70 761.80h1.3" stroke="#262626" stroke-width="0.9" fill="none"/>
<g font-size="6.5" font-weight="bold"><text x="474.98" y="859.20" text-anchor="middle">0.18</text><text x="505.21" y="859.20" text-anchor="middle">0.19</text><text x="535.44" y="859.20" text-anchor="middle">0.20</text><text x="565.67" y="859.20" text-anchor="middle">0.21</text><text x="595.90" y="859.20" text-anchor="middle">0.22</text><text x="449.10" y="852.75" text-anchor="end">0.09</text><text x="449.10" y="793.54" text-anchor="end">0.10</text><text x="449.10" y="734.35" text-anchor="end">0.11</text></g>
<g font-size="6.5" font-weight="bold"><text x="463.00" y="747.70">y=0.29x+0.42</text><text x="463.00" y="755.90">R<tspan font-size="3.90" dy="-2.27">2</tspan><tspan dy="2.27">=0.60</tspan></text></g>
<g fill="#000"><circle cx="134.28" cy="968.42" r="1.35"/><circle cx="142.97" cy="961.22" r="1.35"/><circle cx="147.19" cy="956.26" r="1.35"/><circle cx="148.93" cy="946.08" r="1.35"/><circle cx="152.65" cy="944.34" r="1.35"/><circle cx="159.85" cy="939.38" r="1.35"/><circle cx="170.27" cy="934.17" r="1.35"/><circle cx="176.47" cy="925.73" r="1.35"/><circle cx="178.46" cy="944.34" r="1.35"/><circle cx="184.42" cy="920.77" r="1.35"/><circle cx="187.39" cy="927.47" r="1.35"/><circle cx="193.10" cy="914.07" r="1.35"/><circle cx="194.84" cy="951.29" r="1.35"/><circle cx="198.07" cy="910.59" r="1.35"/><circle cx="201.29" cy="924.24" r="1.35"/><circle cx="201.29" cy="934.17" r="1.35"/><circle cx="201.29" cy="944.34" r="1.35"/><circle cx="203.53" cy="914.07" r="1.35"/><circle cx="219.66" cy="910.59" r="1.35"/><circle cx="226.61" cy="907.12" r="1.35"/><circle cx="245.47" cy="893.47" r="1.35"/><circle cx="251.42" cy="878.58" r="1.35"/></g>
<line x1="134.28" y1="961.72" x2="251.92" y2="889.74" stroke="#b82a3c" stroke-width="1.1"/>
<rect x="128.50" y="863.60" width="144.80" height="117.80" fill="none" stroke="#262626" stroke-width="1.15"/>
<path d="M147.39 981.40v-2.3M172.57 981.40v-2.3M197.75 981.40v-2.3M222.93 981.40v-2.3M248.12 981.40v-2.3M273.30 981.40v-2.3M134.80 981.40v-1.3M159.98 981.40v-1.3M185.16 981.40v-1.3M210.34 981.40v-1.3M235.53 981.40v-1.3M260.71 981.40v-1.3M128.50 981.40h2.3M128.50 964.57h2.3M128.50 947.74h2.3M128.50 930.91h2.3M128.50 914.09h2.3M128.50 897.26h2.3M128.50 880.43h2.3M128.50 863.60h2.3M128.50 972.99h1.3M128.50 956.16h1.3M128.50 939.33h1.3M128.50 922.50h1.3M128.50 905.67h1.3M128.50 888.84h1.3M128.50 872.01h1.3" stroke="#262626" stroke-width="0.9" fill="none"/>
<clipPath id="c6"><rect x="263.30" y="981.40" width="10.40" height="14"/></clipPath><g font-size="6.5" font-weight="bold"><text x="147.39" y="990.00" text-anchor="middle">0.14</text><text x="172.57" y="990.00" text-anchor="middle">0.16</text><text x="197.75" y="990.00" text-anchor="middle">0.18</text><text x="222.93" y="990.00" text-anchor="middle">0.20</text><text x="248.12" y="990.00" text-anchor="middle">0.22</text><text x="273.30" y="990.00" text-anchor="middle" clip-path="url(#c6)">0.24</text><text x="125.90" y="983.54" text-anchor="end">0.31</text><text x="125.90" y="966.72" text-anchor="end">0.32</text><text x="125.90" y="949.89" text-anchor="end">0.33</text><text x="125.90" y="933.06" text-anchor="end">0.34</text><text x="125.90" y="916.23" text-anchor="end">0.35</text><text x="125.90" y="899.40" text-anchor="end">0.36</text><text x="125.90" y="882.57" text-anchor="end">0.37</text><text x="125.90" y="865.75" text-anchor="end">0.38</text></g>
<g font-size="6.5" font-weight="bold"><text x="139.80" y="879.10">y=0.45x+0.26</text><text x="139.80" y="887.30">R<tspan font-size="3.90" dy="-2.27">2</tspan><tspan dy="2.27">=0.75</tspan></text></g>
<g fill="#000"><circle cx="300.49" cy="965.19" r="1.35"/><circle cx="309.92" cy="960.23" r="1.35"/><circle cx="311.41" cy="950.80" r="1.35"/><circle cx="316.12" cy="957.99" r="1.35"/><circle cx="316.62" cy="948.56" r="1.35"/><circle cx="325.31" cy="941.36" r="1.35"/><circle cx="331.26" cy="950.80" r="1.35"/><circle cx="336.72" cy="934.42" r="1.35"/><circle cx="349.38" cy="943.85" r="1.35"/><circle cx="344.91" cy="924.74" r="1.35"/><circle cx="350.37" cy="929.45" r="1.35"/><circle cx="352.36" cy="917.79" r="1.35"/><circle cx="354.34" cy="920.02" r="1.35"/><circle cx="361.54" cy="908.11" r="1.35"/><circle cx="365.26" cy="953.28" r="1.35"/><circle cx="370.23" cy="903.39" r="1.35"/><circle cx="371.96" cy="934.42" r="1.35"/><circle cx="374.94" cy="924.74" r="1.35"/><circle cx="374.94" cy="948.56" r="1.35"/><circle cx="377.42" cy="910.59" r="1.35"/><circle cx="392.81" cy="941.36" r="1.35"/><circle cx="399.01" cy="905.88" r="1.35"/><circle cx="404.47" cy="901.16" r="1.35"/><circle cx="423.34" cy="884.53" r="1.35"/><circle cx="424.08" cy="867.66" r="1.35"/></g>
<line x1="299.99" y1="962.46" x2="424.58" y2="890.49" stroke="#b82a3c" stroke-width="1.1"/>
<rect x="287.80" y="863.40" width="144.80" height="118.20" fill="none" stroke="#262626" stroke-width="1.15"/>
<path d="M296.64 981.60v-2.3M313.63 981.60v-2.3M330.63 981.60v-2.3M347.62 981.60v-2.3M364.62 981.60v-2.3M381.61 981.60v-2.3M398.61 981.60v-2.3M415.60 981.60v-2.3M432.60 981.60v-2.3M305.14 981.60v-1.3M322.13 981.60v-1.3M339.13 981.60v-1.3M356.12 981.60v-1.3M373.12 981.60v-1.3M390.11 981.60v-1.3M407.11 981.60v-1.3M424.10 981.60v-1.3M287.80 981.60h2.3M287.80 957.96h2.3M287.80 934.32h2.3M287.80 910.68h2.3M287.80 887.04h2.3M287.80 863.40h2.3M287.80 969.78h1.3M287.80 946.14h1.3M287.80 922.50h1.3M287.80 898.86h1.3M287.80 875.22h1.3" stroke="#262626" stroke-width="0.9" fill="none"/>
<g font-size="6.5" font-weight="bold"><text x="296.64" y="990.20" text-anchor="middle">0.14</text><text x="313.63" y="990.20" text-anchor="middle">0.15</text><text x="330.63" y="990.20" text-anchor="middle">0.16</text><text x="347.62" y="990.20" text-anchor="middle">0.17</text><text x="364.62" y="990.20" text-anchor="middle">0.18</text><text x="381.61" y="990.20" text-anchor="middle">0.19</text><text x="398.61" y="990.20" text-anchor="middle">0.20</text><text x="415.60" y="990.20" text-anchor="middle">0.21</text><text x="432.60" y="990.20" text-anchor="middle">0.22</text><text x="285.20" y="983.75" text-anchor="end">0.34</text><text x="285.20" y="960.11" text-anchor="end">0.35</text><text x="285.20" y="936.47" text-anchor="end">0.36</text><text x="285.20" y="912.83" text-anchor="end">0.37</text><text x="285.20" y="889.18" text-anchor="end">0.38</text><text x="285.20" y="865.54" text-anchor="end">0.39</text></g>
<g font-size="6.5" font-weight="bold"><text x="299.10" y="878.90">y=0.42x+0.29</text><text x="299.10" y="887.10">R<tspan font-size="3.90" dy="-2.27">2</tspan><tspan dy="2.27">=0.64</tspan></text></g>
<g fill="#000"><circle cx="463.47" cy="954.77" r="1.35"/><circle cx="470.17" cy="950.80" r="1.35"/><circle cx="470.17" cy="962.71" r="1.35"/><circle cx="472.65" cy="962.71" r="1.35"/><circle cx="472.65" cy="966.68" r="1.35"/><circle cx="480.09" cy="958.74" r="1.35"/><circle cx="483.07" cy="958.74" r="1.35"/><circle cx="492.50" cy="954.77" r="1.35"/><circle cx="496.97" cy="954.77" r="1.35"/><circle cx="508.39" cy="950.80" r="1.35"/><circle cx="510.37" cy="950.80" r="1.35"/><circle cx="512.36" cy="946.82" r="1.35"/><circle cx="519.31" cy="946.82" r="1.35"/><circle cx="524.27" cy="942.85" r="1.35"/><circle cx="527.99" cy="934.91" r="1.35"/><circle cx="530.72" cy="930.94" r="1.35"/><circle cx="539.66" cy="934.91" r="1.35"/><circle cx="542.14" cy="911.34" r="1.35"/><circle cx="552.56" cy="911.34" r="1.35"/><circle cx="566.21" cy="903.39" r="1.35"/><circle cx="575.15" cy="923.25" r="1.35"/></g>
<line x1="463.47" y1="966.68" x2="575.39" y2="911.58" stroke="#b82a3c" stroke-width="1.1"/>
<rect x="451.50" y="864.40" width="144.10" height="117.60" fill="none" stroke="#262626" stroke-width="1.15"/>
<path d="M475.52 982.00v-2.3M505.54 982.00v-2.3M535.56 982.00v-2.3M565.58 982.00v-2.3M595.60 982.00v-2.3M460.51 982.00v-1.3M490.53 982.00v-1.3M520.55 982.00v-1.3M550.57 982.00v-1.3M580.59 982.00v-1.3M451.50 982.00h2.3M451.50 942.80h2.3M451.50 903.60h2.3M451.50 864.40h2.3M451.50 962.40h1.3M451.50 923.20h1.3M451.50 884.00h1.3" stroke="#262626" stroke-width="0.9" fill="none"/>
<g font-size="6.5" font-weight="bold"><text x="475.52" y="990.60" text-anchor="middle">0.20</text><text x="505.54" y="990.60" text-anchor="middle">0.22</text><text x="535.56" y="990.60" text-anchor="middle">0.24</text><text x="565.58" y="990.60" text-anchor="middle">0.26</text><text x="595.60" y="990.60" text-anchor="middle">0.28</text><text x="448.90" y="984.14" text-anchor="end">0.40</text><text x="448.90" y="944.95" text-anchor="end">0.41</text><text x="448.90" y="905.75" text-anchor="end">0.42</text><text x="448.90" y="866.54" text-anchor="end">0.43</text></g>
<g font-size="6.5" font-weight="bold"><text x="462.80" y="879.90">y=0.19x+0.37</text><text x="462.80" y="888.10">R<tspan font-size="3.90" dy="-2.27">2</tspan><tspan dy="2.27">=0.80</tspan></text></g>
<text x="83.8" y="9.6" font-size="12" font-weight="bold" fill="#000" text-anchor="start" >0-10cm</text>
<text x="248.9" y="9.6" font-size="12" font-weight="bold" fill="#000" text-anchor="start" >10-20cm</text>
<text x="409.3" y="9.6" font-size="12" font-weight="bold" fill="#000" text-anchor="start" >20-50cm</text>
<text x="570.1" y="9.6" font-size="12" font-weight="bold" fill="#000" text-anchor="start" >50-100cm</text>
<text x="169.3" y="456.9" font-size="12" font-weight="bold" fill="#000" text-anchor="start" >0-10cm</text>
<text x="333.1" y="456.9" font-size="12" font-weight="bold" fill="#000" text-anchor="start" >10-20cm</text>
<text x="488.8" y="456.9" font-size="12" font-weight="bold" fill="#000" text-anchor="start" >20-50cm</text>
<text x="244.9" y="436.7" font-size="12.15" font-weight="bold">In-situ Soil moisture(cm<tspan font-size="7.5" dy="-4.5">3</tspan><tspan dy="4.5">/cm</tspan><tspan font-size="7.5" dy="-4.5">3</tspan><tspan dy="4.5">)</tspan></text>
<text x="251.4" y="1006.6" font-size="12.15" font-weight="bold">In-situ Soil moisture(cm<tspan font-size="7.5" dy="-4.5">3</tspan><tspan dy="4.5">/cm</tspan><tspan font-size="7.5" dy="-4.5">3</tspan><tspan dy="4.5">)</tspan></text>
<text transform="translate(9.8,219.6) rotate(-90)" font-size="12.7" font-weight="bold" fill="#000" text-anchor="middle">DMSN (cm3/cm3)</text>
<text transform="translate(21.8,86.0) rotate(-90)" font-size="11" font-weight="bold" fill="#c4161c" text-anchor="middle">Barigasitai</text>
<text transform="translate(22.0,218.0) rotate(-90)" font-size="11" font-weight="bold" fill="#c4161c" text-anchor="middle">Dashizhai</text>
<text transform="translate(21.0,339.8) rotate(-90)" font-size="11" font-weight="bold" fill="#c4161c" text-anchor="middle">Julihen</text>
<text transform="translate(87.8,729.4) rotate(-90)" font-size="12.2" font-weight="bold" fill="#000" text-anchor="middle">DMSN (cm<tspan font-size="7.5" dy="-4.5">3</tspan><tspan dy="4.5">/cm</tspan><tspan font-size="7.5" dy="-4.5">3</tspan><tspan dy="4.5">)</tspan></text>
<text transform="translate(107.2,525.2) rotate(-90)" font-size="11" font-weight="bold" fill="#c4161c" text-anchor="middle">Alideer</text>
<text transform="translate(107.2,656.8) rotate(-90)" font-size="11" font-weight="bold" fill="#c4161c" text-anchor="middle">Eti</text>
<text transform="translate(106.6,781.3) rotate(-90)" font-size="11" font-weight="bold" fill="#c4161c" text-anchor="middle">Guiluhe</text>
<text transform="translate(106.9,919.7) rotate(-90)" font-size="11" font-weight="bold" fill="#c4161c" text-anchor="middle">Suolun</text>
</svg>
</body></html>
